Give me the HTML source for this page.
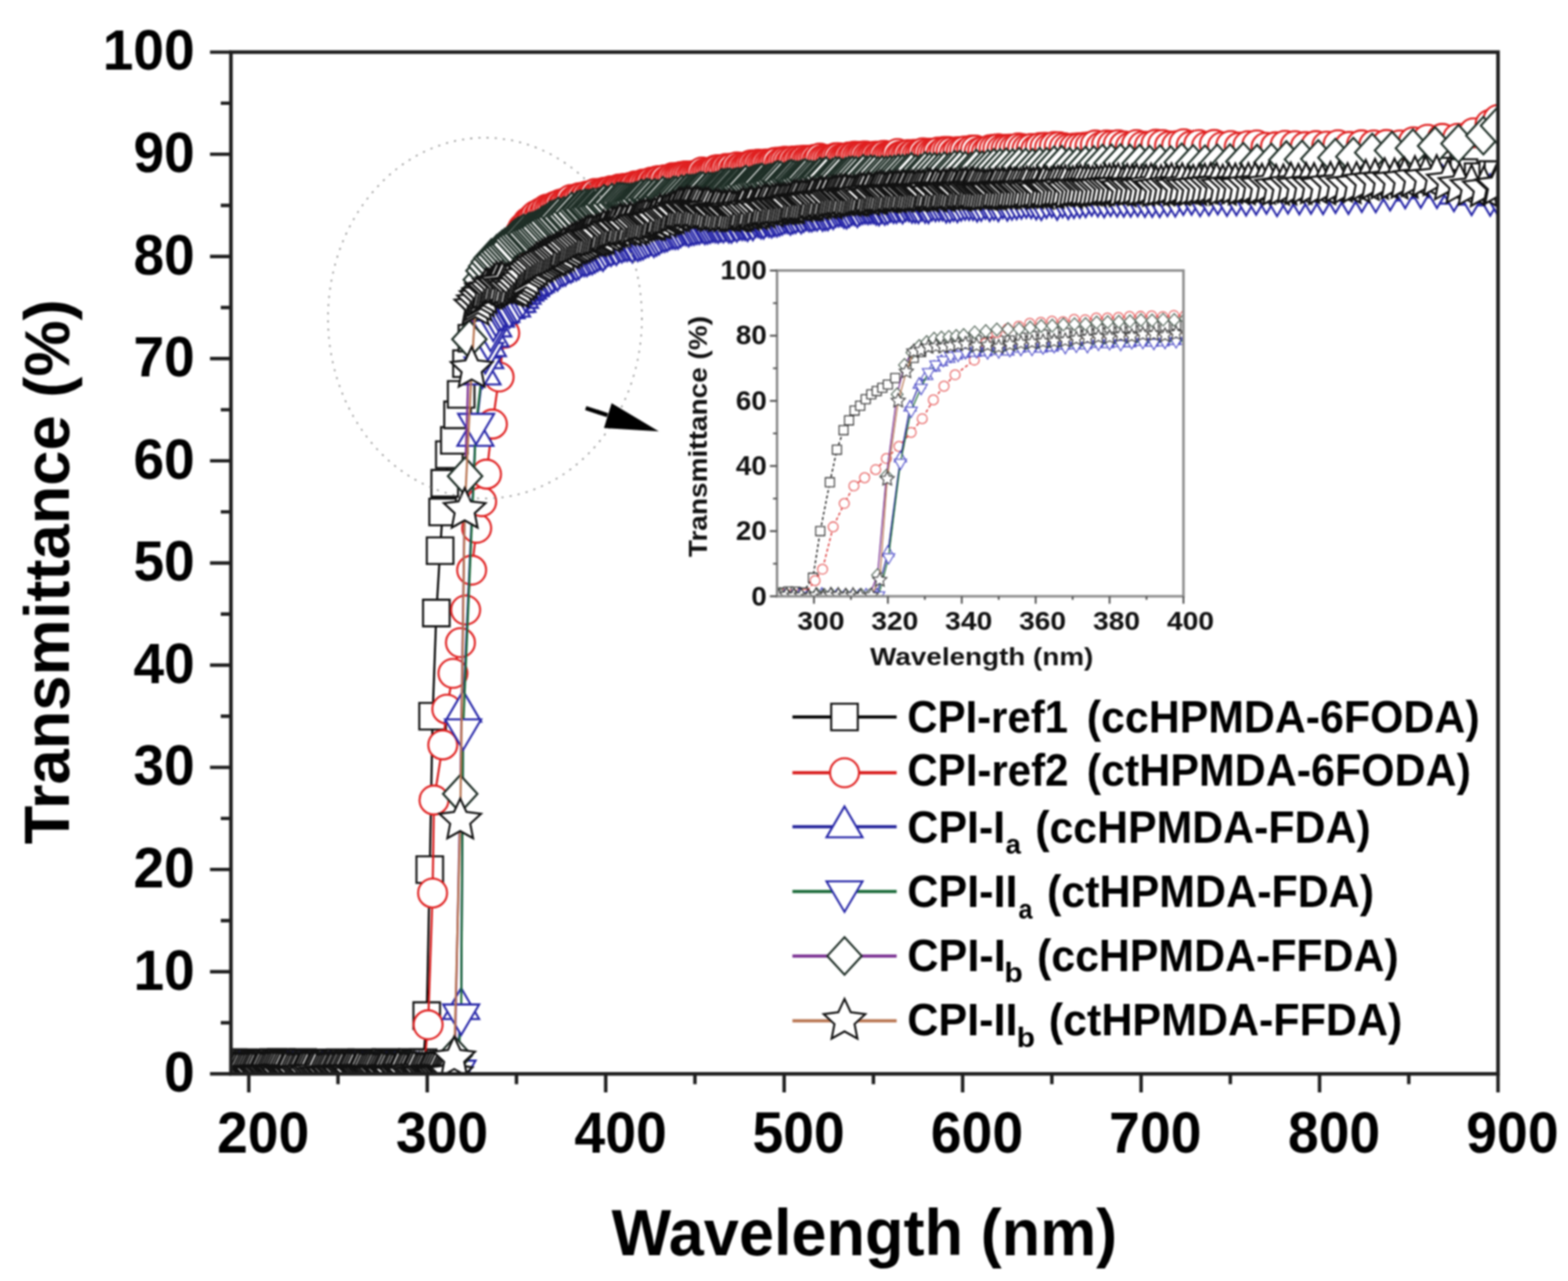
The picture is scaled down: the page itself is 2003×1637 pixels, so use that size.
<!DOCTYPE html>
<html><head><meta charset="utf-8"><title>Transmittance vs Wavelength</title>
<style>html,body{margin:0;padding:0;background:#fff;overflow:hidden;}svg{display:block;filter:blur(0.8px);}</style></head>
<body>
<svg width="2003" height="1637" viewBox="0 0 2003 1637" font-family="&quot;Liberation Sans&quot;, Arial, Helvetica, sans-serif" font-weight="bold">
<rect width="2003" height="1637" fill="#fff"/>
<defs>
<clipPath id="cm"><rect x="295.0" y="66.6" width="1618.6" height="1305.7"/></clipPath>
<clipPath id="ci"><rect x="992.6" y="345.7" width="519.1999999999999" height="416.3"/></clipPath>
<path id="mref1" d="M-17.00,-17.00h34.00v34.00h-34.00Z" fill="#fff" stroke="#111" stroke-width="2.6" stroke-linejoin="miter"/>
<circle id="mref2" r="18.50" fill="#fff" stroke="#e02020" stroke-width="2.6"/>
<path id="mIa" d="M0.00,-26.00 L-23.00,13.50 L23.00,13.50Z" fill="#fff" stroke="#2626a8" stroke-width="2.6" stroke-linejoin="miter"/>
<path id="mIIa" d="M-23.00,-13.00 L23.00,-13.00 L0.00,26.00Z" fill="#fff" stroke="#2626a8" stroke-width="2.6" stroke-linejoin="miter"/>
<path id="mIb" d="M0.00,-24.00 L22.00,0.00 L0.00,24.00 L-22.00,0.00Z" fill="#fff" stroke="#1e2e26" stroke-width="2.6" stroke-linejoin="miter"/>
<path id="mIIb" d="M0.00,-28.00 L7.94,-10.92 L26.63,-8.65 L12.84,4.17 L16.46,22.65 L0.00,13.50 L-16.46,22.65 L-12.84,4.17 L-26.63,-8.65 L-7.94,-10.92Z" fill="#fff" stroke="#111" stroke-width="2.6" stroke-linejoin="miter"/>
<path id="iref1" d="M-5.78,-5.78h11.56v11.56h-11.56Z" fill="#fff" stroke="#2a2a2a" stroke-width="1.3" stroke-linejoin="miter"/>
<circle id="iref2" r="6.29" fill="#fff" stroke="#e45050" stroke-width="1.3"/>
<path id="iIa" d="M0.00,-8.84 L-7.82,4.59 L7.82,4.59Z" fill="#fff" stroke="#4040c0" stroke-width="1.3" stroke-linejoin="miter"/>
<path id="iIIa" d="M-7.82,-4.42 L7.82,-4.42 L0.00,8.84Z" fill="#fff" stroke="#4848c8" stroke-width="1.3" stroke-linejoin="miter"/>
<path id="iIb" d="M0.00,-8.16 L7.48,0.00 L0.00,8.16 L-7.48,0.00Z" fill="#fff" stroke="#44584a" stroke-width="1.3" stroke-linejoin="miter"/>
<path id="iIIb" d="M0.00,-9.52 L2.70,-3.71 L9.05,-2.94 L4.37,1.42 L5.60,7.70 L0.00,4.59 L-5.60,7.70 L-4.37,1.42 L-9.05,-2.94 L-2.70,-3.71Z" fill="#fff" stroke="#333" stroke-width="1.3" stroke-linejoin="miter"/>
</defs>
<g clip-path="url(#cm)">
<path d="M297.9,1358.0 L301.3,1358.4 L304.7,1360.1 L308.1,1359.9 L311.5,1358.1 L314.9,1360.8 L318.4,1358.2 L321.8,1358.3 L325.2,1359.3 L328.6,1359.9 L332.0,1359.9 L335.5,1360.0 L338.9,1359.4 L342.3,1359.2 L345.7,1359.1 L349.1,1357.7 L352.6,1358.3 L356.0,1358.9 L359.4,1357.7 L362.8,1360.1 L366.2,1360.3 L369.7,1358.9 L373.1,1360.7 L376.5,1360.7 L379.9,1359.2 L383.3,1359.3 L386.8,1357.9 L390.2,1358.8 L393.6,1359.2 L397.0,1359.3 L400.4,1360.0 L403.9,1360.8 L407.3,1360.2 L410.7,1358.6 L414.1,1360.2 L417.5,1359.7 L421.0,1360.8 L424.4,1358.2 L427.8,1360.3 L431.2,1360.0 L434.6,1358.1 L438.1,1359.2 L441.5,1358.2 L444.9,1358.8 L448.3,1358.5 L451.7,1360.5 L455.2,1359.1 L458.6,1359.2 L462.0,1358.1 L465.4,1359.7 L468.8,1358.9 L472.2,1360.6 L475.7,1359.6 L479.1,1359.8 L482.5,1360.3 L485.9,1358.3 L489.3,1359.6 L492.8,1357.7 L496.2,1359.0 L499.6,1358.9 L503.0,1358.8 L506.4,1358.7 L509.9,1360.3 L513.3,1359.4 L516.7,1360.1 L520.1,1359.5 L523.5,1360.5 L527.0,1357.8 L530.4,1360.1 L533.8,1358.7 L537.2,1359.9 L540.6,1358.1 L545.1,1297.9 L549.0,1111.2 L552.6,915.3 L557.4,783.4 L562.2,703.8 L565.4,654.2 L568.1,617.6 L574.0,581.0 L580.4,562.8 L584.5,530.1 L589.1,504.0 L595.9,464.8 L602.8,432.2 L611.9,392.4 L615.3,380.6 L618.7,365.2 L622.1,356.2 L625.6,349.3 L629.0,345.3 L632.4,344.8 L635.8,345.0 L639.2,343.1 L642.7,346.0 L646.1,349.0 L649.5,347.7 L652.9,349.9 L656.3,350.9 L659.8,351.3 L663.2,348.4 L666.6,344.7 L670.0,340.2 L673.4,331.8 L676.9,329.4 L680.3,326.1 L683.7,324.3 L687.1,320.1 L690.5,320.7 L694.0,317.2 L697.4,316.5 L700.8,314.3 L704.2,309.4 L707.6,308.9 L711.0,308.2 L714.5,306.0 L717.9,302.8 L721.3,302.9 L724.7,300.0 L728.1,297.7 L731.6,297.1 L735.0,294.7 L738.4,292.1 L741.8,290.2 L745.2,291.9 L748.7,287.8 L752.1,290.4 L755.5,286.4 L758.9,285.1 L762.3,286.6 L765.8,284.3 L769.2,281.2 L772.6,282.8 L776.0,278.7 L779.4,276.5 L782.9,276.1 L786.3,274.1 L789.7,275.1 L793.1,274.5 L796.5,273.3 L800.0,273.6 L803.4,272.4 L806.8,269.6 L810.2,270.5 L813.6,270.8 L817.1,270.2 L820.5,266.7 L823.9,267.7 L827.3,264.5 L830.7,265.3 L834.2,264.2 L837.6,261.6 L841.0,261.2 L844.4,260.8 L847.8,260.1 L851.3,257.0 L854.7,257.5 L858.1,254.2 L861.5,256.3 L864.9,253.7 L868.3,252.3 L871.8,249.8 L875.2,252.0 L878.6,249.5 L882.0,250.0 L885.4,250.1 L888.9,250.8 L892.3,249.9 L895.7,252.9 L899.1,253.3 L902.5,254.7 L906.0,256.0 L909.4,256.1 L912.8,253.9 L916.2,254.8 L919.6,258.1 L923.1,256.6 L926.5,257.3 L929.9,256.9 L933.3,256.5 L936.7,257.7 L940.2,254.9 L943.6,256.5 L947.0,255.4 L950.4,254.9 L953.8,256.2 L957.3,256.1 L960.7,254.1 L964.1,252.2 L967.5,251.4 L970.9,251.2 L974.4,253.0 L977.8,249.4 L981.2,249.4 L984.6,248.6 L988.0,249.5 L991.5,247.5 L994.9,250.4 L998.3,250.0 L1001.7,249.6 L1005.1,248.2 L1008.6,247.7 L1012.0,247.4 L1015.4,245.5 L1018.8,247.0 L1022.2,244.4 L1025.6,245.6 L1029.1,243.1 L1032.5,245.3 L1035.9,243.7 L1039.3,240.8 L1042.7,241.9 L1046.2,240.5 L1049.6,240.7 L1053.0,240.5 L1056.4,241.7 L1059.8,239.9 L1063.3,241.6 L1066.7,238.2 L1070.1,237.2 L1073.5,237.3 L1076.9,240.0 L1080.4,238.6 L1083.8,238.3 L1087.2,238.7 L1090.6,236.4 L1094.0,235.4 L1097.5,236.9 L1100.9,234.5 L1104.3,234.4 L1107.7,236.8 L1111.1,234.0 L1114.6,233.3 L1118.0,235.7 L1121.4,234.0 L1124.8,233.5 L1128.2,233.4 L1131.7,235.2 L1135.1,232.8 L1138.5,232.8 L1141.9,231.8 L1145.3,231.7 L1148.8,233.4 L1152.2,231.7 L1155.6,231.0 L1159.0,230.7 L1162.4,233.5 L1165.9,233.8 L1169.3,231.3 L1172.7,232.8 L1176.1,231.3 L1179.5,229.7 L1183.0,231.8 L1186.4,232.2 L1189.8,231.2 L1193.2,230.3 L1196.7,232.4 L1200.3,231.2 L1203.8,232.0 L1207.4,229.8 L1211.1,229.1 L1214.7,230.7 L1218.4,230.6 L1222.2,229.9 L1226.0,231.0 L1229.8,230.8 L1233.7,230.4 L1237.7,229.8 L1241.6,231.1 L1245.7,228.4 L1249.7,229.0 L1253.9,230.0 L1258.0,230.7 L1262.2,228.0 L1266.5,230.3 L1270.8,230.2 L1275.2,230.2 L1279.6,230.3 L1284.1,226.9 L1288.7,229.3 L1293.3,229.1 L1297.9,226.9 L1302.6,227.7 L1307.4,229.3 L1312.3,228.2 L1317.2,226.3 L1322.2,228.2 L1327.2,226.8 L1332.3,229.1 L1337.5,226.5 L1342.8,226.1 L1348.1,225.8 L1353.5,226.2 L1359.0,227.3 L1364.6,228.3 L1370.3,226.3 L1376.0,225.1 L1381.8,227.2 L1387.8,226.7 L1393.8,225.4 L1399.9,224.4 L1406.1,223.6 L1412.4,226.4 L1418.8,226.0 L1425.3,223.5 L1432.0,224.0 L1438.7,223.6 L1445.6,222.4 L1452.6,222.6 L1459.7,222.9 L1466.9,223.1 L1474.3,224.5 L1481.8,223.5 L1489.4,225.2 L1497.2,222.9 L1505.1,222.8 L1513.2,222.9 L1521.5,223.9 L1529.9,224.1 L1538.5,223.9 L1547.3,225.3 L1556.2,222.1 L1565.4,223.2 L1574.7,223.7 L1584.3,223.0 L1594.0,222.2 L1604.0,223.5 L1614.3,221.6 L1624.7,221.2 L1635.4,223.2 L1646.4,224.0 L1657.7,221.5 L1669.2,220.4 L1681.1,223.5 L1693.2,221.1 L1705.7,220.2 L1718.5,219.2 L1731.7,221.6 L1745.3,220.8 L1759.3,216.2 L1773.6,218.5 L1788.5,216.8 L1803.8,213.3 L1819.5,212.2 L1835.8,211.1 L1852.7,218.8 L1870.1,220.5 L1888.2,225.7 L1906.9,223.0 L1913.6,223.3" fill="none" stroke="#000" stroke-width="2.6"/>
<use href="#mref1" x="297.9" y="1358.0"/>
<use href="#mref1" x="301.3" y="1358.4"/>
<use href="#mref1" x="304.7" y="1360.1"/>
<use href="#mref1" x="308.1" y="1359.9"/>
<use href="#mref1" x="311.5" y="1358.1"/>
<use href="#mref1" x="314.9" y="1360.8"/>
<use href="#mref1" x="318.4" y="1358.2"/>
<use href="#mref1" x="321.8" y="1358.3"/>
<use href="#mref1" x="325.2" y="1359.3"/>
<use href="#mref1" x="328.6" y="1359.9"/>
<use href="#mref1" x="332.0" y="1359.9"/>
<use href="#mref1" x="335.5" y="1360.0"/>
<use href="#mref1" x="338.9" y="1359.4"/>
<use href="#mref1" x="342.3" y="1359.2"/>
<use href="#mref1" x="345.7" y="1359.1"/>
<use href="#mref1" x="349.1" y="1357.7"/>
<use href="#mref1" x="352.6" y="1358.3"/>
<use href="#mref1" x="356.0" y="1358.9"/>
<use href="#mref1" x="359.4" y="1357.7"/>
<use href="#mref1" x="362.8" y="1360.1"/>
<use href="#mref1" x="366.2" y="1360.3"/>
<use href="#mref1" x="369.7" y="1358.9"/>
<use href="#mref1" x="373.1" y="1360.7"/>
<use href="#mref1" x="376.5" y="1360.7"/>
<use href="#mref1" x="379.9" y="1359.2"/>
<use href="#mref1" x="383.3" y="1359.3"/>
<use href="#mref1" x="386.8" y="1357.9"/>
<use href="#mref1" x="390.2" y="1358.8"/>
<use href="#mref1" x="393.6" y="1359.2"/>
<use href="#mref1" x="397.0" y="1359.3"/>
<use href="#mref1" x="400.4" y="1360.0"/>
<use href="#mref1" x="403.9" y="1360.8"/>
<use href="#mref1" x="407.3" y="1360.2"/>
<use href="#mref1" x="410.7" y="1358.6"/>
<use href="#mref1" x="414.1" y="1360.2"/>
<use href="#mref1" x="417.5" y="1359.7"/>
<use href="#mref1" x="421.0" y="1360.8"/>
<use href="#mref1" x="424.4" y="1358.2"/>
<use href="#mref1" x="427.8" y="1360.3"/>
<use href="#mref1" x="431.2" y="1360.0"/>
<use href="#mref1" x="434.6" y="1358.1"/>
<use href="#mref1" x="438.1" y="1359.2"/>
<use href="#mref1" x="441.5" y="1358.2"/>
<use href="#mref1" x="444.9" y="1358.8"/>
<use href="#mref1" x="448.3" y="1358.5"/>
<use href="#mref1" x="451.7" y="1360.5"/>
<use href="#mref1" x="455.2" y="1359.1"/>
<use href="#mref1" x="458.6" y="1359.2"/>
<use href="#mref1" x="462.0" y="1358.1"/>
<use href="#mref1" x="465.4" y="1359.7"/>
<use href="#mref1" x="468.8" y="1358.9"/>
<use href="#mref1" x="472.2" y="1360.6"/>
<use href="#mref1" x="475.7" y="1359.6"/>
<use href="#mref1" x="479.1" y="1359.8"/>
<use href="#mref1" x="482.5" y="1360.3"/>
<use href="#mref1" x="485.9" y="1358.3"/>
<use href="#mref1" x="489.3" y="1359.6"/>
<use href="#mref1" x="492.8" y="1357.7"/>
<use href="#mref1" x="496.2" y="1359.0"/>
<use href="#mref1" x="499.6" y="1358.9"/>
<use href="#mref1" x="503.0" y="1358.8"/>
<use href="#mref1" x="506.4" y="1358.7"/>
<use href="#mref1" x="509.9" y="1360.3"/>
<use href="#mref1" x="513.3" y="1359.4"/>
<use href="#mref1" x="516.7" y="1360.1"/>
<use href="#mref1" x="520.1" y="1359.5"/>
<use href="#mref1" x="523.5" y="1360.5"/>
<use href="#mref1" x="527.0" y="1357.8"/>
<use href="#mref1" x="530.4" y="1360.1"/>
<use href="#mref1" x="533.8" y="1358.7"/>
<use href="#mref1" x="537.2" y="1359.9"/>
<use href="#mref1" x="540.6" y="1358.1"/>
<use href="#mref1" x="545.1" y="1297.9"/>
<use href="#mref1" x="549.0" y="1111.2"/>
<use href="#mref1" x="552.6" y="915.3"/>
<use href="#mref1" x="557.4" y="783.4"/>
<use href="#mref1" x="562.2" y="703.8"/>
<use href="#mref1" x="565.4" y="654.2"/>
<use href="#mref1" x="568.1" y="617.6"/>
<use href="#mref1" x="574.0" y="581.0"/>
<use href="#mref1" x="580.4" y="562.8"/>
<use href="#mref1" x="584.5" y="530.1"/>
<use href="#mref1" x="589.1" y="504.0"/>
<use href="#mref1" x="595.9" y="464.8"/>
<use href="#mref1" x="602.8" y="432.2"/>
<use href="#mref1" x="611.9" y="392.4"/>
<use href="#mref1" x="615.3" y="380.6"/>
<use href="#mref1" x="618.7" y="365.2"/>
<use href="#mref1" x="622.1" y="356.2"/>
<use href="#mref1" x="625.6" y="349.3"/>
<use href="#mref1" x="629.0" y="345.3"/>
<use href="#mref1" x="632.4" y="344.8"/>
<use href="#mref1" x="635.8" y="345.0"/>
<use href="#mref1" x="639.2" y="343.1"/>
<use href="#mref1" x="642.7" y="346.0"/>
<use href="#mref1" x="646.1" y="349.0"/>
<use href="#mref1" x="649.5" y="347.7"/>
<use href="#mref1" x="652.9" y="349.9"/>
<use href="#mref1" x="656.3" y="350.9"/>
<use href="#mref1" x="659.8" y="351.3"/>
<use href="#mref1" x="663.2" y="348.4"/>
<use href="#mref1" x="666.6" y="344.7"/>
<use href="#mref1" x="670.0" y="340.2"/>
<use href="#mref1" x="673.4" y="331.8"/>
<use href="#mref1" x="676.9" y="329.4"/>
<use href="#mref1" x="680.3" y="326.1"/>
<use href="#mref1" x="683.7" y="324.3"/>
<use href="#mref1" x="687.1" y="320.1"/>
<use href="#mref1" x="690.5" y="320.7"/>
<use href="#mref1" x="694.0" y="317.2"/>
<use href="#mref1" x="697.4" y="316.5"/>
<use href="#mref1" x="700.8" y="314.3"/>
<use href="#mref1" x="704.2" y="309.4"/>
<use href="#mref1" x="707.6" y="308.9"/>
<use href="#mref1" x="711.0" y="308.2"/>
<use href="#mref1" x="714.5" y="306.0"/>
<use href="#mref1" x="717.9" y="302.8"/>
<use href="#mref1" x="721.3" y="302.9"/>
<use href="#mref1" x="724.7" y="300.0"/>
<use href="#mref1" x="728.1" y="297.7"/>
<use href="#mref1" x="731.6" y="297.1"/>
<use href="#mref1" x="735.0" y="294.7"/>
<use href="#mref1" x="738.4" y="292.1"/>
<use href="#mref1" x="741.8" y="290.2"/>
<use href="#mref1" x="745.2" y="291.9"/>
<use href="#mref1" x="748.7" y="287.8"/>
<use href="#mref1" x="752.1" y="290.4"/>
<use href="#mref1" x="755.5" y="286.4"/>
<use href="#mref1" x="758.9" y="285.1"/>
<use href="#mref1" x="762.3" y="286.6"/>
<use href="#mref1" x="765.8" y="284.3"/>
<use href="#mref1" x="769.2" y="281.2"/>
<use href="#mref1" x="772.6" y="282.8"/>
<use href="#mref1" x="776.0" y="278.7"/>
<use href="#mref1" x="779.4" y="276.5"/>
<use href="#mref1" x="782.9" y="276.1"/>
<use href="#mref1" x="786.3" y="274.1"/>
<use href="#mref1" x="789.7" y="275.1"/>
<use href="#mref1" x="793.1" y="274.5"/>
<use href="#mref1" x="796.5" y="273.3"/>
<use href="#mref1" x="800.0" y="273.6"/>
<use href="#mref1" x="803.4" y="272.4"/>
<use href="#mref1" x="806.8" y="269.6"/>
<use href="#mref1" x="810.2" y="270.5"/>
<use href="#mref1" x="813.6" y="270.8"/>
<use href="#mref1" x="817.1" y="270.2"/>
<use href="#mref1" x="820.5" y="266.7"/>
<use href="#mref1" x="823.9" y="267.7"/>
<use href="#mref1" x="827.3" y="264.5"/>
<use href="#mref1" x="830.7" y="265.3"/>
<use href="#mref1" x="834.2" y="264.2"/>
<use href="#mref1" x="837.6" y="261.6"/>
<use href="#mref1" x="841.0" y="261.2"/>
<use href="#mref1" x="844.4" y="260.8"/>
<use href="#mref1" x="847.8" y="260.1"/>
<use href="#mref1" x="851.3" y="257.0"/>
<use href="#mref1" x="854.7" y="257.5"/>
<use href="#mref1" x="858.1" y="254.2"/>
<use href="#mref1" x="861.5" y="256.3"/>
<use href="#mref1" x="864.9" y="253.7"/>
<use href="#mref1" x="868.3" y="252.3"/>
<use href="#mref1" x="871.8" y="249.8"/>
<use href="#mref1" x="875.2" y="252.0"/>
<use href="#mref1" x="878.6" y="249.5"/>
<use href="#mref1" x="882.0" y="250.0"/>
<use href="#mref1" x="885.4" y="250.1"/>
<use href="#mref1" x="888.9" y="250.8"/>
<use href="#mref1" x="892.3" y="249.9"/>
<use href="#mref1" x="895.7" y="252.9"/>
<use href="#mref1" x="899.1" y="253.3"/>
<use href="#mref1" x="902.5" y="254.7"/>
<use href="#mref1" x="906.0" y="256.0"/>
<use href="#mref1" x="909.4" y="256.1"/>
<use href="#mref1" x="912.8" y="253.9"/>
<use href="#mref1" x="916.2" y="254.8"/>
<use href="#mref1" x="919.6" y="258.1"/>
<use href="#mref1" x="923.1" y="256.6"/>
<use href="#mref1" x="926.5" y="257.3"/>
<use href="#mref1" x="929.9" y="256.9"/>
<use href="#mref1" x="933.3" y="256.5"/>
<use href="#mref1" x="936.7" y="257.7"/>
<use href="#mref1" x="940.2" y="254.9"/>
<use href="#mref1" x="943.6" y="256.5"/>
<use href="#mref1" x="947.0" y="255.4"/>
<use href="#mref1" x="950.4" y="254.9"/>
<use href="#mref1" x="953.8" y="256.2"/>
<use href="#mref1" x="957.3" y="256.1"/>
<use href="#mref1" x="960.7" y="254.1"/>
<use href="#mref1" x="964.1" y="252.2"/>
<use href="#mref1" x="967.5" y="251.4"/>
<use href="#mref1" x="970.9" y="251.2"/>
<use href="#mref1" x="974.4" y="253.0"/>
<use href="#mref1" x="977.8" y="249.4"/>
<use href="#mref1" x="981.2" y="249.4"/>
<use href="#mref1" x="984.6" y="248.6"/>
<use href="#mref1" x="988.0" y="249.5"/>
<use href="#mref1" x="991.5" y="247.5"/>
<use href="#mref1" x="994.9" y="250.4"/>
<use href="#mref1" x="998.3" y="250.0"/>
<use href="#mref1" x="1001.7" y="249.6"/>
<use href="#mref1" x="1005.1" y="248.2"/>
<use href="#mref1" x="1008.6" y="247.7"/>
<use href="#mref1" x="1012.0" y="247.4"/>
<use href="#mref1" x="1015.4" y="245.5"/>
<use href="#mref1" x="1018.8" y="247.0"/>
<use href="#mref1" x="1022.2" y="244.4"/>
<use href="#mref1" x="1025.6" y="245.6"/>
<use href="#mref1" x="1029.1" y="243.1"/>
<use href="#mref1" x="1032.5" y="245.3"/>
<use href="#mref1" x="1035.9" y="243.7"/>
<use href="#mref1" x="1039.3" y="240.8"/>
<use href="#mref1" x="1042.7" y="241.9"/>
<use href="#mref1" x="1046.2" y="240.5"/>
<use href="#mref1" x="1049.6" y="240.7"/>
<use href="#mref1" x="1053.0" y="240.5"/>
<use href="#mref1" x="1056.4" y="241.7"/>
<use href="#mref1" x="1059.8" y="239.9"/>
<use href="#mref1" x="1063.3" y="241.6"/>
<use href="#mref1" x="1066.7" y="238.2"/>
<use href="#mref1" x="1070.1" y="237.2"/>
<use href="#mref1" x="1073.5" y="237.3"/>
<use href="#mref1" x="1076.9" y="240.0"/>
<use href="#mref1" x="1080.4" y="238.6"/>
<use href="#mref1" x="1083.8" y="238.3"/>
<use href="#mref1" x="1087.2" y="238.7"/>
<use href="#mref1" x="1090.6" y="236.4"/>
<use href="#mref1" x="1094.0" y="235.4"/>
<use href="#mref1" x="1097.5" y="236.9"/>
<use href="#mref1" x="1100.9" y="234.5"/>
<use href="#mref1" x="1104.3" y="234.4"/>
<use href="#mref1" x="1107.7" y="236.8"/>
<use href="#mref1" x="1111.1" y="234.0"/>
<use href="#mref1" x="1114.6" y="233.3"/>
<use href="#mref1" x="1118.0" y="235.7"/>
<use href="#mref1" x="1121.4" y="234.0"/>
<use href="#mref1" x="1124.8" y="233.5"/>
<use href="#mref1" x="1128.2" y="233.4"/>
<use href="#mref1" x="1131.7" y="235.2"/>
<use href="#mref1" x="1135.1" y="232.8"/>
<use href="#mref1" x="1138.5" y="232.8"/>
<use href="#mref1" x="1141.9" y="231.8"/>
<use href="#mref1" x="1145.3" y="231.7"/>
<use href="#mref1" x="1148.8" y="233.4"/>
<use href="#mref1" x="1152.2" y="231.7"/>
<use href="#mref1" x="1155.6" y="231.0"/>
<use href="#mref1" x="1159.0" y="230.7"/>
<use href="#mref1" x="1162.4" y="233.5"/>
<use href="#mref1" x="1165.9" y="233.8"/>
<use href="#mref1" x="1169.3" y="231.3"/>
<use href="#mref1" x="1172.7" y="232.8"/>
<use href="#mref1" x="1176.1" y="231.3"/>
<use href="#mref1" x="1179.5" y="229.7"/>
<use href="#mref1" x="1183.0" y="231.8"/>
<use href="#mref1" x="1186.4" y="232.2"/>
<use href="#mref1" x="1189.8" y="231.2"/>
<use href="#mref1" x="1193.2" y="230.3"/>
<use href="#mref1" x="1196.7" y="232.4"/>
<use href="#mref1" x="1200.3" y="231.2"/>
<use href="#mref1" x="1203.8" y="232.0"/>
<use href="#mref1" x="1207.4" y="229.8"/>
<use href="#mref1" x="1211.1" y="229.1"/>
<use href="#mref1" x="1214.7" y="230.7"/>
<use href="#mref1" x="1218.4" y="230.6"/>
<use href="#mref1" x="1222.2" y="229.9"/>
<use href="#mref1" x="1226.0" y="231.0"/>
<use href="#mref1" x="1229.8" y="230.8"/>
<use href="#mref1" x="1233.7" y="230.4"/>
<use href="#mref1" x="1237.7" y="229.8"/>
<use href="#mref1" x="1241.6" y="231.1"/>
<use href="#mref1" x="1245.7" y="228.4"/>
<use href="#mref1" x="1249.7" y="229.0"/>
<use href="#mref1" x="1253.9" y="230.0"/>
<use href="#mref1" x="1258.0" y="230.7"/>
<use href="#mref1" x="1262.2" y="228.0"/>
<use href="#mref1" x="1266.5" y="230.3"/>
<use href="#mref1" x="1270.8" y="230.2"/>
<use href="#mref1" x="1275.2" y="230.2"/>
<use href="#mref1" x="1279.6" y="230.3"/>
<use href="#mref1" x="1284.1" y="226.9"/>
<use href="#mref1" x="1288.7" y="229.3"/>
<use href="#mref1" x="1293.3" y="229.1"/>
<use href="#mref1" x="1297.9" y="226.9"/>
<use href="#mref1" x="1302.6" y="227.7"/>
<use href="#mref1" x="1307.4" y="229.3"/>
<use href="#mref1" x="1312.3" y="228.2"/>
<use href="#mref1" x="1317.2" y="226.3"/>
<use href="#mref1" x="1322.2" y="228.2"/>
<use href="#mref1" x="1327.2" y="226.8"/>
<use href="#mref1" x="1332.3" y="229.1"/>
<use href="#mref1" x="1337.5" y="226.5"/>
<use href="#mref1" x="1342.8" y="226.1"/>
<use href="#mref1" x="1348.1" y="225.8"/>
<use href="#mref1" x="1353.5" y="226.2"/>
<use href="#mref1" x="1359.0" y="227.3"/>
<use href="#mref1" x="1364.6" y="228.3"/>
<use href="#mref1" x="1370.3" y="226.3"/>
<use href="#mref1" x="1376.0" y="225.1"/>
<use href="#mref1" x="1381.8" y="227.2"/>
<use href="#mref1" x="1387.8" y="226.7"/>
<use href="#mref1" x="1393.8" y="225.4"/>
<use href="#mref1" x="1399.9" y="224.4"/>
<use href="#mref1" x="1406.1" y="223.6"/>
<use href="#mref1" x="1412.4" y="226.4"/>
<use href="#mref1" x="1418.8" y="226.0"/>
<use href="#mref1" x="1425.3" y="223.5"/>
<use href="#mref1" x="1432.0" y="224.0"/>
<use href="#mref1" x="1438.7" y="223.6"/>
<use href="#mref1" x="1445.6" y="222.4"/>
<use href="#mref1" x="1452.6" y="222.6"/>
<use href="#mref1" x="1459.7" y="222.9"/>
<use href="#mref1" x="1466.9" y="223.1"/>
<use href="#mref1" x="1474.3" y="224.5"/>
<use href="#mref1" x="1481.8" y="223.5"/>
<use href="#mref1" x="1489.4" y="225.2"/>
<use href="#mref1" x="1497.2" y="222.9"/>
<use href="#mref1" x="1505.1" y="222.8"/>
<use href="#mref1" x="1513.2" y="222.9"/>
<use href="#mref1" x="1521.5" y="223.9"/>
<use href="#mref1" x="1529.9" y="224.1"/>
<use href="#mref1" x="1538.5" y="223.9"/>
<use href="#mref1" x="1547.3" y="225.3"/>
<use href="#mref1" x="1556.2" y="222.1"/>
<use href="#mref1" x="1565.4" y="223.2"/>
<use href="#mref1" x="1574.7" y="223.7"/>
<use href="#mref1" x="1584.3" y="223.0"/>
<use href="#mref1" x="1594.0" y="222.2"/>
<use href="#mref1" x="1604.0" y="223.5"/>
<use href="#mref1" x="1614.3" y="221.6"/>
<use href="#mref1" x="1624.7" y="221.2"/>
<use href="#mref1" x="1635.4" y="223.2"/>
<use href="#mref1" x="1646.4" y="224.0"/>
<use href="#mref1" x="1657.7" y="221.5"/>
<use href="#mref1" x="1669.2" y="220.4"/>
<use href="#mref1" x="1681.1" y="223.5"/>
<use href="#mref1" x="1693.2" y="221.1"/>
<use href="#mref1" x="1705.7" y="220.2"/>
<use href="#mref1" x="1718.5" y="219.2"/>
<use href="#mref1" x="1731.7" y="221.6"/>
<use href="#mref1" x="1745.3" y="220.8"/>
<use href="#mref1" x="1759.3" y="216.2"/>
<use href="#mref1" x="1773.6" y="218.5"/>
<use href="#mref1" x="1788.5" y="216.8"/>
<use href="#mref1" x="1803.8" y="213.3"/>
<use href="#mref1" x="1819.5" y="212.2"/>
<use href="#mref1" x="1835.8" y="211.1"/>
<use href="#mref1" x="1852.7" y="218.8"/>
<use href="#mref1" x="1870.1" y="220.5"/>
<use href="#mref1" x="1888.2" y="225.7"/>
<use href="#mref1" x="1906.9" y="223.0"/>
<use href="#mref1" x="1913.6" y="223.3"/>
<path d="M295.3,1367.2 L298.7,1368.5 L302.1,1367.7 L305.6,1367.7 L309.0,1366.4 L312.4,1367.2 L315.8,1368.5 L319.2,1365.5 L322.7,1365.9 L326.1,1365.8 L329.5,1367.9 L332.9,1367.4 L336.3,1367.9 L339.8,1368.3 L343.2,1368.5 L346.6,1367.1 L350.0,1368.3 L353.4,1368.1 L356.9,1365.9 L360.3,1367.1 L363.7,1368.1 L367.1,1366.5 L370.5,1367.8 L374.0,1367.0 L377.4,1367.8 L380.8,1367.0 L384.2,1366.7 L387.6,1367.0 L391.1,1367.4 L394.5,1366.2 L397.9,1365.9 L401.3,1368.1 L404.7,1368.2 L408.2,1368.3 L411.6,1365.6 L415.0,1365.7 L418.4,1367.9 L421.8,1365.6 L425.3,1368.0 L428.7,1367.1 L432.1,1367.1 L435.5,1365.8 L438.9,1368.5 L442.4,1367.7 L445.8,1366.8 L449.2,1368.4 L452.6,1367.9 L456.0,1367.2 L459.4,1365.9 L462.9,1366.3 L466.3,1366.0 L469.7,1366.3 L473.1,1366.4 L476.5,1366.0 L480.0,1366.5 L483.4,1366.3 L486.8,1367.7 L490.2,1368.1 L493.6,1366.3 L497.1,1368.1 L500.5,1365.8 L503.9,1366.8 L507.3,1367.6 L510.7,1365.7 L514.2,1368.2 L517.6,1367.0 L521.0,1368.4 L524.4,1365.6 L527.8,1366.8 L531.3,1366.1 L534.7,1367.8 L538.1,1366.1 L541.5,1366.4 L546.9,1309.6 L552.6,1141.2 L554.4,1022.4 L565.6,951.9 L570.8,906.2 L578.6,860.5 L588.2,821.3 L594.8,779.5 L602.5,728.6 L608.9,675.1 L615.3,641.1 L621.5,605.9 L629.0,541.9 L637.6,481.8 L644.7,425.7 L650.6,366.3 L654.1,336.5 L657.5,317.6 L660.9,306.8 L664.3,298.3 L667.7,291.9 L671.2,289.2 L674.6,284.0 L678.0,282.4 L681.4,278.4 L684.8,275.2 L688.3,275.9 L691.7,271.5 L695.1,272.5 L698.5,267.2 L701.9,267.6 L705.3,266.4 L708.8,263.8 L712.2,263.2 L715.6,261.1 L719.0,262.3 L722.4,259.0 L725.9,257.7 L729.3,255.0 L732.7,257.2 L736.1,254.5 L739.5,252.8 L743.0,252.2 L746.4,253.3 L749.8,250.5 L753.2,251.3 L756.6,250.7 L760.1,247.4 L763.5,249.4 L766.9,247.8 L770.3,246.0 L773.7,245.6 L777.2,245.5 L780.6,243.8 L784.0,244.5 L787.4,243.1 L790.8,241.6 L794.3,241.5 L797.7,240.9 L801.1,241.1 L804.5,239.8 L807.9,239.7 L811.4,237.6 L814.8,238.3 L818.2,237.2 L821.6,235.3 L825.0,235.6 L828.5,235.5 L831.9,232.8 L835.3,233.9 L838.7,231.3 L842.1,230.8 L845.6,231.5 L849.0,229.7 L852.4,231.7 L855.8,229.6 L859.2,227.1 L862.6,227.5 L866.1,226.9 L869.5,225.9 L872.9,225.2 L876.3,224.9 L879.7,225.0 L883.2,225.3 L886.6,224.3 L890.0,223.7 L893.4,222.6 L896.8,219.8 L900.3,221.8 L903.7,220.9 L907.1,220.6 L910.5,219.2 L913.9,217.2 L917.4,216.9 L920.8,218.4 L924.2,218.3 L927.6,215.3 L931.0,216.3 L934.5,215.0 L937.9,216.9 L941.3,213.3 L944.7,215.0 L948.1,213.8 L951.6,214.4 L955.0,213.1 L958.4,211.0 L961.8,210.6 L965.2,211.5 L968.7,209.9 L972.1,210.7 L975.5,210.6 L978.9,209.6 L982.3,210.5 L985.8,209.7 L989.2,207.8 L992.6,207.2 L996.0,209.7 L999.4,206.7 L1002.9,206.1 L1006.3,207.2 L1009.7,208.4 L1013.1,205.7 L1016.5,207.1 L1020.0,205.3 L1023.4,206.1 L1026.8,204.8 L1030.2,206.0 L1033.6,204.9 L1037.0,204.5 L1040.5,203.8 L1043.9,205.3 L1047.3,202.1 L1050.7,204.5 L1054.1,204.2 L1057.6,204.2 L1061.0,204.7 L1064.4,203.1 L1067.8,201.5 L1071.2,201.5 L1074.7,203.3 L1078.1,203.4 L1081.5,202.4 L1084.9,200.5 L1088.3,201.4 L1091.8,199.5 L1095.2,200.3 L1098.6,200.3 L1102.0,199.5 L1105.4,199.4 L1108.9,200.8 L1112.3,200.9 L1115.7,200.0 L1119.1,199.6 L1122.5,200.8 L1126.0,199.4 L1129.4,198.5 L1132.8,200.3 L1136.2,200.1 L1139.6,199.8 L1143.1,199.2 L1146.5,196.3 L1149.9,199.8 L1153.4,199.0 L1157.0,198.9 L1160.5,197.5 L1164.1,199.1 L1167.8,197.2 L1171.5,198.2 L1175.2,197.6 L1179.0,195.4 L1182.8,197.6 L1186.6,195.7 L1190.6,196.4 L1194.5,196.1 L1198.5,194.4 L1202.6,196.8 L1206.7,193.6 L1210.8,193.5 L1215.0,194.2 L1219.3,196.4 L1223.6,193.8 L1227.9,193.9 L1232.3,193.0 L1236.8,195.0 L1241.3,191.9 L1245.9,191.9 L1250.6,194.7 L1255.3,193.7 L1260.1,194.6 L1264.9,191.2 L1269.9,190.7 L1274.8,190.1 L1279.9,191.4 L1285.0,190.9 L1290.2,190.6 L1295.5,190.7 L1300.9,189.0 L1306.3,190.0 L1311.8,190.8 L1317.4,189.9 L1323.1,191.6 L1328.9,188.5 L1334.8,188.4 L1340.8,189.2 L1346.8,187.3 L1353.0,187.5 L1359.3,188.9 L1365.6,189.7 L1372.1,189.3 L1378.7,188.9 L1385.4,188.3 L1392.3,187.5 L1399.2,185.4 L1406.3,187.8 L1413.5,185.2 L1420.9,185.8 L1428.4,185.0 L1436.0,186.6 L1443.8,188.0 L1451.8,184.8 L1459.9,186.7 L1468.1,187.0 L1476.6,184.4 L1485.2,184.7 L1494.0,186.6 L1503.0,186.3 L1512.2,183.7 L1521.6,186.4 L1531.2,184.8 L1541.1,187.2 L1551.2,184.6 L1561.5,187.5 L1572.1,186.0 L1583.0,188.1 L1594.1,186.2 L1605.5,185.2 L1617.2,188.3 L1629.3,187.6 L1641.6,185.7 L1654.4,186.3 L1667.5,187.4 L1681.0,186.1 L1694.8,186.7 L1709.2,185.0 L1723.9,187.1 L1739.2,185.1 L1754.9,185.3 L1771.2,184.6 L1788.1,185.3 L1805.5,181.3 L1823.6,178.0 L1842.4,176.9 L1862.0,176.7 L1882.3,169.8 L1903.4,159.0 L1913.6,152.8" fill="none" stroke="#d81818" stroke-width="2.6"/>
<use href="#mref2" x="295.3" y="1367.2"/>
<use href="#mref2" x="298.7" y="1368.5"/>
<use href="#mref2" x="302.1" y="1367.7"/>
<use href="#mref2" x="305.6" y="1367.7"/>
<use href="#mref2" x="309.0" y="1366.4"/>
<use href="#mref2" x="312.4" y="1367.2"/>
<use href="#mref2" x="315.8" y="1368.5"/>
<use href="#mref2" x="319.2" y="1365.5"/>
<use href="#mref2" x="322.7" y="1365.9"/>
<use href="#mref2" x="326.1" y="1365.8"/>
<use href="#mref2" x="329.5" y="1367.9"/>
<use href="#mref2" x="332.9" y="1367.4"/>
<use href="#mref2" x="336.3" y="1367.9"/>
<use href="#mref2" x="339.8" y="1368.3"/>
<use href="#mref2" x="343.2" y="1368.5"/>
<use href="#mref2" x="346.6" y="1367.1"/>
<use href="#mref2" x="350.0" y="1368.3"/>
<use href="#mref2" x="353.4" y="1368.1"/>
<use href="#mref2" x="356.9" y="1365.9"/>
<use href="#mref2" x="360.3" y="1367.1"/>
<use href="#mref2" x="363.7" y="1368.1"/>
<use href="#mref2" x="367.1" y="1366.5"/>
<use href="#mref2" x="370.5" y="1367.8"/>
<use href="#mref2" x="374.0" y="1367.0"/>
<use href="#mref2" x="377.4" y="1367.8"/>
<use href="#mref2" x="380.8" y="1367.0"/>
<use href="#mref2" x="384.2" y="1366.7"/>
<use href="#mref2" x="387.6" y="1367.0"/>
<use href="#mref2" x="391.1" y="1367.4"/>
<use href="#mref2" x="394.5" y="1366.2"/>
<use href="#mref2" x="397.9" y="1365.9"/>
<use href="#mref2" x="401.3" y="1368.1"/>
<use href="#mref2" x="404.7" y="1368.2"/>
<use href="#mref2" x="408.2" y="1368.3"/>
<use href="#mref2" x="411.6" y="1365.6"/>
<use href="#mref2" x="415.0" y="1365.7"/>
<use href="#mref2" x="418.4" y="1367.9"/>
<use href="#mref2" x="421.8" y="1365.6"/>
<use href="#mref2" x="425.3" y="1368.0"/>
<use href="#mref2" x="428.7" y="1367.1"/>
<use href="#mref2" x="432.1" y="1367.1"/>
<use href="#mref2" x="435.5" y="1365.8"/>
<use href="#mref2" x="438.9" y="1368.5"/>
<use href="#mref2" x="442.4" y="1367.7"/>
<use href="#mref2" x="445.8" y="1366.8"/>
<use href="#mref2" x="449.2" y="1368.4"/>
<use href="#mref2" x="452.6" y="1367.9"/>
<use href="#mref2" x="456.0" y="1367.2"/>
<use href="#mref2" x="459.4" y="1365.9"/>
<use href="#mref2" x="462.9" y="1366.3"/>
<use href="#mref2" x="466.3" y="1366.0"/>
<use href="#mref2" x="469.7" y="1366.3"/>
<use href="#mref2" x="473.1" y="1366.4"/>
<use href="#mref2" x="476.5" y="1366.0"/>
<use href="#mref2" x="480.0" y="1366.5"/>
<use href="#mref2" x="483.4" y="1366.3"/>
<use href="#mref2" x="486.8" y="1367.7"/>
<use href="#mref2" x="490.2" y="1368.1"/>
<use href="#mref2" x="493.6" y="1366.3"/>
<use href="#mref2" x="497.1" y="1368.1"/>
<use href="#mref2" x="500.5" y="1365.8"/>
<use href="#mref2" x="503.9" y="1366.8"/>
<use href="#mref2" x="507.3" y="1367.6"/>
<use href="#mref2" x="510.7" y="1365.7"/>
<use href="#mref2" x="514.2" y="1368.2"/>
<use href="#mref2" x="517.6" y="1367.0"/>
<use href="#mref2" x="521.0" y="1368.4"/>
<use href="#mref2" x="524.4" y="1365.6"/>
<use href="#mref2" x="527.8" y="1366.8"/>
<use href="#mref2" x="531.3" y="1366.1"/>
<use href="#mref2" x="534.7" y="1367.8"/>
<use href="#mref2" x="538.1" y="1366.1"/>
<use href="#mref2" x="541.5" y="1366.4"/>
<use href="#mref2" x="546.9" y="1309.6"/>
<use href="#mref2" x="552.6" y="1141.2"/>
<use href="#mref2" x="554.4" y="1022.4"/>
<use href="#mref2" x="565.6" y="951.9"/>
<use href="#mref2" x="570.8" y="906.2"/>
<use href="#mref2" x="578.6" y="860.5"/>
<use href="#mref2" x="588.2" y="821.3"/>
<use href="#mref2" x="594.8" y="779.5"/>
<use href="#mref2" x="602.5" y="728.6"/>
<use href="#mref2" x="608.9" y="675.1"/>
<use href="#mref2" x="615.3" y="641.1"/>
<use href="#mref2" x="621.5" y="605.9"/>
<use href="#mref2" x="629.0" y="541.9"/>
<use href="#mref2" x="637.6" y="481.8"/>
<use href="#mref2" x="644.7" y="425.7"/>
<use href="#mref2" x="650.6" y="366.3"/>
<use href="#mref2" x="654.1" y="336.5"/>
<use href="#mref2" x="657.5" y="317.6"/>
<use href="#mref2" x="660.9" y="306.8"/>
<use href="#mref2" x="664.3" y="298.3"/>
<use href="#mref2" x="667.7" y="291.9"/>
<use href="#mref2" x="671.2" y="289.2"/>
<use href="#mref2" x="674.6" y="284.0"/>
<use href="#mref2" x="678.0" y="282.4"/>
<use href="#mref2" x="681.4" y="278.4"/>
<use href="#mref2" x="684.8" y="275.2"/>
<use href="#mref2" x="688.3" y="275.9"/>
<use href="#mref2" x="691.7" y="271.5"/>
<use href="#mref2" x="695.1" y="272.5"/>
<use href="#mref2" x="698.5" y="267.2"/>
<use href="#mref2" x="701.9" y="267.6"/>
<use href="#mref2" x="705.3" y="266.4"/>
<use href="#mref2" x="708.8" y="263.8"/>
<use href="#mref2" x="712.2" y="263.2"/>
<use href="#mref2" x="715.6" y="261.1"/>
<use href="#mref2" x="719.0" y="262.3"/>
<use href="#mref2" x="722.4" y="259.0"/>
<use href="#mref2" x="725.9" y="257.7"/>
<use href="#mref2" x="729.3" y="255.0"/>
<use href="#mref2" x="732.7" y="257.2"/>
<use href="#mref2" x="736.1" y="254.5"/>
<use href="#mref2" x="739.5" y="252.8"/>
<use href="#mref2" x="743.0" y="252.2"/>
<use href="#mref2" x="746.4" y="253.3"/>
<use href="#mref2" x="749.8" y="250.5"/>
<use href="#mref2" x="753.2" y="251.3"/>
<use href="#mref2" x="756.6" y="250.7"/>
<use href="#mref2" x="760.1" y="247.4"/>
<use href="#mref2" x="763.5" y="249.4"/>
<use href="#mref2" x="766.9" y="247.8"/>
<use href="#mref2" x="770.3" y="246.0"/>
<use href="#mref2" x="773.7" y="245.6"/>
<use href="#mref2" x="777.2" y="245.5"/>
<use href="#mref2" x="780.6" y="243.8"/>
<use href="#mref2" x="784.0" y="244.5"/>
<use href="#mref2" x="787.4" y="243.1"/>
<use href="#mref2" x="790.8" y="241.6"/>
<use href="#mref2" x="794.3" y="241.5"/>
<use href="#mref2" x="797.7" y="240.9"/>
<use href="#mref2" x="801.1" y="241.1"/>
<use href="#mref2" x="804.5" y="239.8"/>
<use href="#mref2" x="807.9" y="239.7"/>
<use href="#mref2" x="811.4" y="237.6"/>
<use href="#mref2" x="814.8" y="238.3"/>
<use href="#mref2" x="818.2" y="237.2"/>
<use href="#mref2" x="821.6" y="235.3"/>
<use href="#mref2" x="825.0" y="235.6"/>
<use href="#mref2" x="828.5" y="235.5"/>
<use href="#mref2" x="831.9" y="232.8"/>
<use href="#mref2" x="835.3" y="233.9"/>
<use href="#mref2" x="838.7" y="231.3"/>
<use href="#mref2" x="842.1" y="230.8"/>
<use href="#mref2" x="845.6" y="231.5"/>
<use href="#mref2" x="849.0" y="229.7"/>
<use href="#mref2" x="852.4" y="231.7"/>
<use href="#mref2" x="855.8" y="229.6"/>
<use href="#mref2" x="859.2" y="227.1"/>
<use href="#mref2" x="862.6" y="227.5"/>
<use href="#mref2" x="866.1" y="226.9"/>
<use href="#mref2" x="869.5" y="225.9"/>
<use href="#mref2" x="872.9" y="225.2"/>
<use href="#mref2" x="876.3" y="224.9"/>
<use href="#mref2" x="879.7" y="225.0"/>
<use href="#mref2" x="883.2" y="225.3"/>
<use href="#mref2" x="886.6" y="224.3"/>
<use href="#mref2" x="890.0" y="223.7"/>
<use href="#mref2" x="893.4" y="222.6"/>
<use href="#mref2" x="896.8" y="219.8"/>
<use href="#mref2" x="900.3" y="221.8"/>
<use href="#mref2" x="903.7" y="220.9"/>
<use href="#mref2" x="907.1" y="220.6"/>
<use href="#mref2" x="910.5" y="219.2"/>
<use href="#mref2" x="913.9" y="217.2"/>
<use href="#mref2" x="917.4" y="216.9"/>
<use href="#mref2" x="920.8" y="218.4"/>
<use href="#mref2" x="924.2" y="218.3"/>
<use href="#mref2" x="927.6" y="215.3"/>
<use href="#mref2" x="931.0" y="216.3"/>
<use href="#mref2" x="934.5" y="215.0"/>
<use href="#mref2" x="937.9" y="216.9"/>
<use href="#mref2" x="941.3" y="213.3"/>
<use href="#mref2" x="944.7" y="215.0"/>
<use href="#mref2" x="948.1" y="213.8"/>
<use href="#mref2" x="951.6" y="214.4"/>
<use href="#mref2" x="955.0" y="213.1"/>
<use href="#mref2" x="958.4" y="211.0"/>
<use href="#mref2" x="961.8" y="210.6"/>
<use href="#mref2" x="965.2" y="211.5"/>
<use href="#mref2" x="968.7" y="209.9"/>
<use href="#mref2" x="972.1" y="210.7"/>
<use href="#mref2" x="975.5" y="210.6"/>
<use href="#mref2" x="978.9" y="209.6"/>
<use href="#mref2" x="982.3" y="210.5"/>
<use href="#mref2" x="985.8" y="209.7"/>
<use href="#mref2" x="989.2" y="207.8"/>
<use href="#mref2" x="992.6" y="207.2"/>
<use href="#mref2" x="996.0" y="209.7"/>
<use href="#mref2" x="999.4" y="206.7"/>
<use href="#mref2" x="1002.9" y="206.1"/>
<use href="#mref2" x="1006.3" y="207.2"/>
<use href="#mref2" x="1009.7" y="208.4"/>
<use href="#mref2" x="1013.1" y="205.7"/>
<use href="#mref2" x="1016.5" y="207.1"/>
<use href="#mref2" x="1020.0" y="205.3"/>
<use href="#mref2" x="1023.4" y="206.1"/>
<use href="#mref2" x="1026.8" y="204.8"/>
<use href="#mref2" x="1030.2" y="206.0"/>
<use href="#mref2" x="1033.6" y="204.9"/>
<use href="#mref2" x="1037.0" y="204.5"/>
<use href="#mref2" x="1040.5" y="203.8"/>
<use href="#mref2" x="1043.9" y="205.3"/>
<use href="#mref2" x="1047.3" y="202.1"/>
<use href="#mref2" x="1050.7" y="204.5"/>
<use href="#mref2" x="1054.1" y="204.2"/>
<use href="#mref2" x="1057.6" y="204.2"/>
<use href="#mref2" x="1061.0" y="204.7"/>
<use href="#mref2" x="1064.4" y="203.1"/>
<use href="#mref2" x="1067.8" y="201.5"/>
<use href="#mref2" x="1071.2" y="201.5"/>
<use href="#mref2" x="1074.7" y="203.3"/>
<use href="#mref2" x="1078.1" y="203.4"/>
<use href="#mref2" x="1081.5" y="202.4"/>
<use href="#mref2" x="1084.9" y="200.5"/>
<use href="#mref2" x="1088.3" y="201.4"/>
<use href="#mref2" x="1091.8" y="199.5"/>
<use href="#mref2" x="1095.2" y="200.3"/>
<use href="#mref2" x="1098.6" y="200.3"/>
<use href="#mref2" x="1102.0" y="199.5"/>
<use href="#mref2" x="1105.4" y="199.4"/>
<use href="#mref2" x="1108.9" y="200.8"/>
<use href="#mref2" x="1112.3" y="200.9"/>
<use href="#mref2" x="1115.7" y="200.0"/>
<use href="#mref2" x="1119.1" y="199.6"/>
<use href="#mref2" x="1122.5" y="200.8"/>
<use href="#mref2" x="1126.0" y="199.4"/>
<use href="#mref2" x="1129.4" y="198.5"/>
<use href="#mref2" x="1132.8" y="200.3"/>
<use href="#mref2" x="1136.2" y="200.1"/>
<use href="#mref2" x="1139.6" y="199.8"/>
<use href="#mref2" x="1143.1" y="199.2"/>
<use href="#mref2" x="1146.5" y="196.3"/>
<use href="#mref2" x="1149.9" y="199.8"/>
<use href="#mref2" x="1153.4" y="199.0"/>
<use href="#mref2" x="1157.0" y="198.9"/>
<use href="#mref2" x="1160.5" y="197.5"/>
<use href="#mref2" x="1164.1" y="199.1"/>
<use href="#mref2" x="1167.8" y="197.2"/>
<use href="#mref2" x="1171.5" y="198.2"/>
<use href="#mref2" x="1175.2" y="197.6"/>
<use href="#mref2" x="1179.0" y="195.4"/>
<use href="#mref2" x="1182.8" y="197.6"/>
<use href="#mref2" x="1186.6" y="195.7"/>
<use href="#mref2" x="1190.6" y="196.4"/>
<use href="#mref2" x="1194.5" y="196.1"/>
<use href="#mref2" x="1198.5" y="194.4"/>
<use href="#mref2" x="1202.6" y="196.8"/>
<use href="#mref2" x="1206.7" y="193.6"/>
<use href="#mref2" x="1210.8" y="193.5"/>
<use href="#mref2" x="1215.0" y="194.2"/>
<use href="#mref2" x="1219.3" y="196.4"/>
<use href="#mref2" x="1223.6" y="193.8"/>
<use href="#mref2" x="1227.9" y="193.9"/>
<use href="#mref2" x="1232.3" y="193.0"/>
<use href="#mref2" x="1236.8" y="195.0"/>
<use href="#mref2" x="1241.3" y="191.9"/>
<use href="#mref2" x="1245.9" y="191.9"/>
<use href="#mref2" x="1250.6" y="194.7"/>
<use href="#mref2" x="1255.3" y="193.7"/>
<use href="#mref2" x="1260.1" y="194.6"/>
<use href="#mref2" x="1264.9" y="191.2"/>
<use href="#mref2" x="1269.9" y="190.7"/>
<use href="#mref2" x="1274.8" y="190.1"/>
<use href="#mref2" x="1279.9" y="191.4"/>
<use href="#mref2" x="1285.0" y="190.9"/>
<use href="#mref2" x="1290.2" y="190.6"/>
<use href="#mref2" x="1295.5" y="190.7"/>
<use href="#mref2" x="1300.9" y="189.0"/>
<use href="#mref2" x="1306.3" y="190.0"/>
<use href="#mref2" x="1311.8" y="190.8"/>
<use href="#mref2" x="1317.4" y="189.9"/>
<use href="#mref2" x="1323.1" y="191.6"/>
<use href="#mref2" x="1328.9" y="188.5"/>
<use href="#mref2" x="1334.8" y="188.4"/>
<use href="#mref2" x="1340.8" y="189.2"/>
<use href="#mref2" x="1346.8" y="187.3"/>
<use href="#mref2" x="1353.0" y="187.5"/>
<use href="#mref2" x="1359.3" y="188.9"/>
<use href="#mref2" x="1365.6" y="189.7"/>
<use href="#mref2" x="1372.1" y="189.3"/>
<use href="#mref2" x="1378.7" y="188.9"/>
<use href="#mref2" x="1385.4" y="188.3"/>
<use href="#mref2" x="1392.3" y="187.5"/>
<use href="#mref2" x="1399.2" y="185.4"/>
<use href="#mref2" x="1406.3" y="187.8"/>
<use href="#mref2" x="1413.5" y="185.2"/>
<use href="#mref2" x="1420.9" y="185.8"/>
<use href="#mref2" x="1428.4" y="185.0"/>
<use href="#mref2" x="1436.0" y="186.6"/>
<use href="#mref2" x="1443.8" y="188.0"/>
<use href="#mref2" x="1451.8" y="184.8"/>
<use href="#mref2" x="1459.9" y="186.7"/>
<use href="#mref2" x="1468.1" y="187.0"/>
<use href="#mref2" x="1476.6" y="184.4"/>
<use href="#mref2" x="1485.2" y="184.7"/>
<use href="#mref2" x="1494.0" y="186.6"/>
<use href="#mref2" x="1503.0" y="186.3"/>
<use href="#mref2" x="1512.2" y="183.7"/>
<use href="#mref2" x="1521.6" y="186.4"/>
<use href="#mref2" x="1531.2" y="184.8"/>
<use href="#mref2" x="1541.1" y="187.2"/>
<use href="#mref2" x="1551.2" y="184.6"/>
<use href="#mref2" x="1561.5" y="187.5"/>
<use href="#mref2" x="1572.1" y="186.0"/>
<use href="#mref2" x="1583.0" y="188.1"/>
<use href="#mref2" x="1594.1" y="186.2"/>
<use href="#mref2" x="1605.5" y="185.2"/>
<use href="#mref2" x="1617.2" y="188.3"/>
<use href="#mref2" x="1629.3" y="187.6"/>
<use href="#mref2" x="1641.6" y="185.7"/>
<use href="#mref2" x="1654.4" y="186.3"/>
<use href="#mref2" x="1667.5" y="187.4"/>
<use href="#mref2" x="1681.0" y="186.1"/>
<use href="#mref2" x="1694.8" y="186.7"/>
<use href="#mref2" x="1709.2" y="185.0"/>
<use href="#mref2" x="1723.9" y="187.1"/>
<use href="#mref2" x="1739.2" y="185.1"/>
<use href="#mref2" x="1754.9" y="185.3"/>
<use href="#mref2" x="1771.2" y="184.6"/>
<use href="#mref2" x="1788.1" y="185.3"/>
<use href="#mref2" x="1805.5" y="181.3"/>
<use href="#mref2" x="1823.6" y="178.0"/>
<use href="#mref2" x="1842.4" y="176.9"/>
<use href="#mref2" x="1862.0" y="176.7"/>
<use href="#mref2" x="1882.3" y="169.8"/>
<use href="#mref2" x="1903.4" y="159.0"/>
<use href="#mref2" x="1913.6" y="152.8"/>
<path d="M295.9,1371.6 L299.4,1373.0 L302.8,1372.4 L306.2,1371.2 L309.6,1372.5 L313.0,1373.0 L316.5,1372.9 L319.9,1373.6 L323.3,1373.2 L326.7,1373.0 L330.1,1373.3 L333.5,1373.7 L337.0,1372.4 L340.4,1373.2 L343.8,1371.6 L347.2,1371.0 L350.6,1373.0 L354.1,1372.1 L357.5,1372.3 L360.9,1373.6 L364.3,1373.5 L367.7,1371.1 L371.2,1372.4 L374.6,1371.3 L378.0,1373.7 L381.4,1372.0 L384.8,1371.2 L388.3,1371.1 L391.7,1373.8 L395.1,1372.2 L398.5,1372.7 L401.9,1371.5 L405.4,1373.6 L408.8,1373.0 L412.2,1371.3 L415.6,1372.4 L419.0,1372.4 L422.5,1370.8 L425.9,1372.9 L429.3,1373.7 L432.7,1372.6 L436.1,1373.4 L439.6,1373.6 L443.0,1372.1 L446.4,1370.9 L449.8,1372.1 L453.2,1371.8 L456.7,1372.9 L460.1,1372.1 L463.5,1371.5 L466.9,1372.0 L470.3,1371.4 L473.8,1372.1 L477.2,1373.2 L480.6,1372.0 L484.0,1372.3 L487.4,1373.3 L490.8,1371.9 L494.3,1371.3 L497.7,1373.4 L501.1,1372.2 L504.5,1371.6 L507.9,1372.6 L511.4,1373.0 L514.8,1372.7 L518.2,1372.2 L521.6,1371.7 L525.0,1372.1 L528.5,1373.5 L531.9,1371.3 L535.3,1371.0 L538.7,1373.5 L542.1,1373.1 L545.6,1373.3 L549.0,1371.2 L552.4,1371.0 L555.8,1373.7 L559.2,1372.8 L562.7,1373.3 L566.1,1372.4 L569.5,1371.0 L572.9,1373.6 L576.3,1373.3 L579.8,1372.3 L583.4,1368.4 L589.1,1288.7 L591.6,908.8 L607.3,556.2 L616.4,477.8 L619.9,457.0 L623.3,441.6 L626.7,429.4 L630.1,416.4 L633.5,403.9 L637.0,398.6 L640.4,397.9 L643.8,392.9 L647.2,393.1 L650.6,389.8 L654.1,391.0 L657.5,385.4 L660.9,385.0 L664.3,379.9 L667.7,374.6 L671.2,370.8 L674.6,368.1 L678.0,364.9 L681.4,361.5 L684.8,359.8 L688.3,356.7 L691.7,354.8 L695.1,351.4 L698.5,349.9 L701.9,347.2 L705.3,346.8 L708.8,346.1 L712.2,343.2 L715.6,339.8 L719.0,339.8 L722.4,337.3 L725.9,333.9 L729.3,333.4 L732.7,329.6 L736.1,327.8 L739.5,328.7 L743.0,325.7 L746.4,326.4 L749.8,325.8 L753.2,323.6 L756.6,321.9 L760.1,319.5 L763.5,321.5 L766.9,317.9 L770.3,317.3 L773.7,317.0 L777.2,312.1 L780.6,311.6 L784.0,312.5 L787.4,308.3 L790.8,310.6 L794.3,310.0 L797.7,308.5 L801.1,305.7 L804.5,308.8 L807.9,304.8 L811.4,305.4 L814.8,306.8 L818.2,304.0 L821.6,303.5 L825.0,302.1 L828.5,300.4 L831.9,299.5 L835.3,297.2 L838.7,299.5 L842.1,295.9 L845.6,296.4 L849.0,293.7 L852.4,292.1 L855.8,290.5 L859.2,292.2 L862.6,290.3 L866.1,287.3 L869.5,286.4 L872.9,287.7 L876.3,284.8 L879.7,286.4 L883.2,286.1 L886.6,284.2 L890.0,285.0 L893.4,284.8 L896.8,284.8 L900.3,284.4 L903.7,285.3 L907.1,285.4 L910.5,282.4 L913.9,283.0 L917.4,282.3 L920.8,281.6 L924.2,283.5 L927.6,283.2 L931.0,282.7 L934.5,282.2 L937.9,280.1 L941.3,281.2 L944.7,281.0 L948.1,279.3 L951.6,280.6 L955.0,280.5 L958.4,277.7 L961.8,277.0 L965.2,278.3 L968.7,276.5 L972.1,278.4 L975.5,276.5 L978.9,275.4 L982.3,276.2 L985.8,275.3 L989.2,273.8 L992.6,273.4 L996.0,274.7 L999.4,272.0 L1002.9,274.0 L1006.3,270.0 L1009.7,272.5 L1013.1,271.8 L1016.5,271.5 L1020.0,268.0 L1023.4,270.3 L1026.8,268.5 L1030.2,266.6 L1033.6,266.3 L1037.0,269.4 L1040.5,267.1 L1043.9,266.4 L1047.3,265.6 L1050.7,266.6 L1054.1,266.3 L1057.6,267.2 L1061.0,266.7 L1064.4,264.3 L1067.8,265.7 L1071.2,264.9 L1074.7,264.0 L1078.1,264.7 L1081.5,264.4 L1084.9,260.6 L1088.3,262.2 L1091.8,262.7 L1095.2,260.4 L1098.6,262.8 L1102.0,261.6 L1105.4,258.5 L1108.9,258.5 L1112.3,259.2 L1115.7,261.1 L1119.1,259.9 L1122.5,260.8 L1126.0,259.9 L1129.4,260.4 L1132.8,259.9 L1136.2,257.7 L1139.6,259.6 L1143.1,259.2 L1146.5,256.1 L1149.9,258.2 L1153.4,258.0 L1157.0,258.8 L1160.5,255.9 L1164.1,256.2 L1167.8,256.5 L1171.5,256.1 L1175.2,258.0 L1179.0,257.2 L1182.8,255.8 L1186.6,254.2 L1190.6,254.6 L1194.5,255.2 L1198.5,255.5 L1202.6,257.3 L1206.7,253.8 L1210.8,256.9 L1215.0,256.5 L1219.3,254.2 L1223.6,253.6 L1227.9,253.5 L1232.3,254.7 L1236.8,255.7 L1241.3,256.1 L1245.9,252.8 L1250.6,252.2 L1255.3,255.0 L1260.1,252.4 L1264.9,254.1 L1269.9,254.4 L1274.8,253.5 L1279.9,255.3 L1285.0,253.5 L1290.2,254.4 L1295.5,252.3 L1300.9,253.0 L1306.3,251.4 L1311.8,251.2 L1317.4,253.4 L1323.1,253.4 L1328.9,250.7 L1334.8,252.2 L1340.8,253.7 L1346.8,253.7 L1353.0,249.8 L1359.3,251.2 L1365.6,253.1 L1372.1,251.1 L1378.7,250.9 L1385.4,250.9 L1392.3,248.6 L1399.2,248.4 L1406.3,251.4 L1413.5,251.1 L1420.9,249.9 L1428.4,248.1 L1436.0,248.8 L1443.8,248.3 L1451.8,248.8 L1459.9,250.2 L1468.1,247.7 L1476.6,250.8 L1485.2,248.0 L1494.0,249.9 L1503.0,248.8 L1512.2,246.7 L1521.6,248.4 L1531.2,250.2 L1541.1,248.6 L1551.2,247.7 L1561.5,249.9 L1572.1,249.1 L1583.0,249.9 L1594.1,247.7 L1605.5,248.3 L1617.2,247.7 L1629.3,248.4 L1641.6,246.9 L1654.4,248.6 L1667.5,245.6 L1681.0,245.2 L1694.8,246.7 L1709.2,246.3 L1723.9,244.0 L1739.2,245.2 L1754.9,242.1 L1771.2,242.8 L1788.1,239.6 L1805.5,238.8 L1823.6,236.1 L1842.4,237.1 L1862.0,246.6 L1882.3,248.0 L1903.4,248.9 L1913.6,248.1" fill="none" stroke="#22229a" stroke-width="2.6"/>
<use href="#mIa" x="295.9" y="1371.6"/>
<use href="#mIa" x="299.4" y="1373.0"/>
<use href="#mIa" x="302.8" y="1372.4"/>
<use href="#mIa" x="306.2" y="1371.2"/>
<use href="#mIa" x="309.6" y="1372.5"/>
<use href="#mIa" x="313.0" y="1373.0"/>
<use href="#mIa" x="316.5" y="1372.9"/>
<use href="#mIa" x="319.9" y="1373.6"/>
<use href="#mIa" x="323.3" y="1373.2"/>
<use href="#mIa" x="326.7" y="1373.0"/>
<use href="#mIa" x="330.1" y="1373.3"/>
<use href="#mIa" x="333.5" y="1373.7"/>
<use href="#mIa" x="337.0" y="1372.4"/>
<use href="#mIa" x="340.4" y="1373.2"/>
<use href="#mIa" x="343.8" y="1371.6"/>
<use href="#mIa" x="347.2" y="1371.0"/>
<use href="#mIa" x="350.6" y="1373.0"/>
<use href="#mIa" x="354.1" y="1372.1"/>
<use href="#mIa" x="357.5" y="1372.3"/>
<use href="#mIa" x="360.9" y="1373.6"/>
<use href="#mIa" x="364.3" y="1373.5"/>
<use href="#mIa" x="367.7" y="1371.1"/>
<use href="#mIa" x="371.2" y="1372.4"/>
<use href="#mIa" x="374.6" y="1371.3"/>
<use href="#mIa" x="378.0" y="1373.7"/>
<use href="#mIa" x="381.4" y="1372.0"/>
<use href="#mIa" x="384.8" y="1371.2"/>
<use href="#mIa" x="388.3" y="1371.1"/>
<use href="#mIa" x="391.7" y="1373.8"/>
<use href="#mIa" x="395.1" y="1372.2"/>
<use href="#mIa" x="398.5" y="1372.7"/>
<use href="#mIa" x="401.9" y="1371.5"/>
<use href="#mIa" x="405.4" y="1373.6"/>
<use href="#mIa" x="408.8" y="1373.0"/>
<use href="#mIa" x="412.2" y="1371.3"/>
<use href="#mIa" x="415.6" y="1372.4"/>
<use href="#mIa" x="419.0" y="1372.4"/>
<use href="#mIa" x="422.5" y="1370.8"/>
<use href="#mIa" x="425.9" y="1372.9"/>
<use href="#mIa" x="429.3" y="1373.7"/>
<use href="#mIa" x="432.7" y="1372.6"/>
<use href="#mIa" x="436.1" y="1373.4"/>
<use href="#mIa" x="439.6" y="1373.6"/>
<use href="#mIa" x="443.0" y="1372.1"/>
<use href="#mIa" x="446.4" y="1370.9"/>
<use href="#mIa" x="449.8" y="1372.1"/>
<use href="#mIa" x="453.2" y="1371.8"/>
<use href="#mIa" x="456.7" y="1372.9"/>
<use href="#mIa" x="460.1" y="1372.1"/>
<use href="#mIa" x="463.5" y="1371.5"/>
<use href="#mIa" x="466.9" y="1372.0"/>
<use href="#mIa" x="470.3" y="1371.4"/>
<use href="#mIa" x="473.8" y="1372.1"/>
<use href="#mIa" x="477.2" y="1373.2"/>
<use href="#mIa" x="480.6" y="1372.0"/>
<use href="#mIa" x="484.0" y="1372.3"/>
<use href="#mIa" x="487.4" y="1373.3"/>
<use href="#mIa" x="490.8" y="1371.9"/>
<use href="#mIa" x="494.3" y="1371.3"/>
<use href="#mIa" x="497.7" y="1373.4"/>
<use href="#mIa" x="501.1" y="1372.2"/>
<use href="#mIa" x="504.5" y="1371.6"/>
<use href="#mIa" x="507.9" y="1372.6"/>
<use href="#mIa" x="511.4" y="1373.0"/>
<use href="#mIa" x="514.8" y="1372.7"/>
<use href="#mIa" x="518.2" y="1372.2"/>
<use href="#mIa" x="521.6" y="1371.7"/>
<use href="#mIa" x="525.0" y="1372.1"/>
<use href="#mIa" x="528.5" y="1373.5"/>
<use href="#mIa" x="531.9" y="1371.3"/>
<use href="#mIa" x="535.3" y="1371.0"/>
<use href="#mIa" x="538.7" y="1373.5"/>
<use href="#mIa" x="542.1" y="1373.1"/>
<use href="#mIa" x="545.6" y="1373.3"/>
<use href="#mIa" x="549.0" y="1371.2"/>
<use href="#mIa" x="552.4" y="1371.0"/>
<use href="#mIa" x="555.8" y="1373.7"/>
<use href="#mIa" x="559.2" y="1372.8"/>
<use href="#mIa" x="562.7" y="1373.3"/>
<use href="#mIa" x="566.1" y="1372.4"/>
<use href="#mIa" x="569.5" y="1371.0"/>
<use href="#mIa" x="572.9" y="1373.6"/>
<use href="#mIa" x="576.3" y="1373.3"/>
<use href="#mIa" x="579.8" y="1372.3"/>
<use href="#mIa" x="583.4" y="1368.4"/>
<use href="#mIa" x="589.1" y="1288.7"/>
<use href="#mIa" x="591.6" y="908.8"/>
<use href="#mIa" x="607.3" y="556.2"/>
<use href="#mIa" x="616.4" y="477.8"/>
<use href="#mIa" x="619.9" y="457.0"/>
<use href="#mIa" x="623.3" y="441.6"/>
<use href="#mIa" x="626.7" y="429.4"/>
<use href="#mIa" x="630.1" y="416.4"/>
<use href="#mIa" x="633.5" y="403.9"/>
<use href="#mIa" x="637.0" y="398.6"/>
<use href="#mIa" x="640.4" y="397.9"/>
<use href="#mIa" x="643.8" y="392.9"/>
<use href="#mIa" x="647.2" y="393.1"/>
<use href="#mIa" x="650.6" y="389.8"/>
<use href="#mIa" x="654.1" y="391.0"/>
<use href="#mIa" x="657.5" y="385.4"/>
<use href="#mIa" x="660.9" y="385.0"/>
<use href="#mIa" x="664.3" y="379.9"/>
<use href="#mIa" x="667.7" y="374.6"/>
<use href="#mIa" x="671.2" y="370.8"/>
<use href="#mIa" x="674.6" y="368.1"/>
<use href="#mIa" x="678.0" y="364.9"/>
<use href="#mIa" x="681.4" y="361.5"/>
<use href="#mIa" x="684.8" y="359.8"/>
<use href="#mIa" x="688.3" y="356.7"/>
<use href="#mIa" x="691.7" y="354.8"/>
<use href="#mIa" x="695.1" y="351.4"/>
<use href="#mIa" x="698.5" y="349.9"/>
<use href="#mIa" x="701.9" y="347.2"/>
<use href="#mIa" x="705.3" y="346.8"/>
<use href="#mIa" x="708.8" y="346.1"/>
<use href="#mIa" x="712.2" y="343.2"/>
<use href="#mIa" x="715.6" y="339.8"/>
<use href="#mIa" x="719.0" y="339.8"/>
<use href="#mIa" x="722.4" y="337.3"/>
<use href="#mIa" x="725.9" y="333.9"/>
<use href="#mIa" x="729.3" y="333.4"/>
<use href="#mIa" x="732.7" y="329.6"/>
<use href="#mIa" x="736.1" y="327.8"/>
<use href="#mIa" x="739.5" y="328.7"/>
<use href="#mIa" x="743.0" y="325.7"/>
<use href="#mIa" x="746.4" y="326.4"/>
<use href="#mIa" x="749.8" y="325.8"/>
<use href="#mIa" x="753.2" y="323.6"/>
<use href="#mIa" x="756.6" y="321.9"/>
<use href="#mIa" x="760.1" y="319.5"/>
<use href="#mIa" x="763.5" y="321.5"/>
<use href="#mIa" x="766.9" y="317.9"/>
<use href="#mIa" x="770.3" y="317.3"/>
<use href="#mIa" x="773.7" y="317.0"/>
<use href="#mIa" x="777.2" y="312.1"/>
<use href="#mIa" x="780.6" y="311.6"/>
<use href="#mIa" x="784.0" y="312.5"/>
<use href="#mIa" x="787.4" y="308.3"/>
<use href="#mIa" x="790.8" y="310.6"/>
<use href="#mIa" x="794.3" y="310.0"/>
<use href="#mIa" x="797.7" y="308.5"/>
<use href="#mIa" x="801.1" y="305.7"/>
<use href="#mIa" x="804.5" y="308.8"/>
<use href="#mIa" x="807.9" y="304.8"/>
<use href="#mIa" x="811.4" y="305.4"/>
<use href="#mIa" x="814.8" y="306.8"/>
<use href="#mIa" x="818.2" y="304.0"/>
<use href="#mIa" x="821.6" y="303.5"/>
<use href="#mIa" x="825.0" y="302.1"/>
<use href="#mIa" x="828.5" y="300.4"/>
<use href="#mIa" x="831.9" y="299.5"/>
<use href="#mIa" x="835.3" y="297.2"/>
<use href="#mIa" x="838.7" y="299.5"/>
<use href="#mIa" x="842.1" y="295.9"/>
<use href="#mIa" x="845.6" y="296.4"/>
<use href="#mIa" x="849.0" y="293.7"/>
<use href="#mIa" x="852.4" y="292.1"/>
<use href="#mIa" x="855.8" y="290.5"/>
<use href="#mIa" x="859.2" y="292.2"/>
<use href="#mIa" x="862.6" y="290.3"/>
<use href="#mIa" x="866.1" y="287.3"/>
<use href="#mIa" x="869.5" y="286.4"/>
<use href="#mIa" x="872.9" y="287.7"/>
<use href="#mIa" x="876.3" y="284.8"/>
<use href="#mIa" x="879.7" y="286.4"/>
<use href="#mIa" x="883.2" y="286.1"/>
<use href="#mIa" x="886.6" y="284.2"/>
<use href="#mIa" x="890.0" y="285.0"/>
<use href="#mIa" x="893.4" y="284.8"/>
<use href="#mIa" x="896.8" y="284.8"/>
<use href="#mIa" x="900.3" y="284.4"/>
<use href="#mIa" x="903.7" y="285.3"/>
<use href="#mIa" x="907.1" y="285.4"/>
<use href="#mIa" x="910.5" y="282.4"/>
<use href="#mIa" x="913.9" y="283.0"/>
<use href="#mIa" x="917.4" y="282.3"/>
<use href="#mIa" x="920.8" y="281.6"/>
<use href="#mIa" x="924.2" y="283.5"/>
<use href="#mIa" x="927.6" y="283.2"/>
<use href="#mIa" x="931.0" y="282.7"/>
<use href="#mIa" x="934.5" y="282.2"/>
<use href="#mIa" x="937.9" y="280.1"/>
<use href="#mIa" x="941.3" y="281.2"/>
<use href="#mIa" x="944.7" y="281.0"/>
<use href="#mIa" x="948.1" y="279.3"/>
<use href="#mIa" x="951.6" y="280.6"/>
<use href="#mIa" x="955.0" y="280.5"/>
<use href="#mIa" x="958.4" y="277.7"/>
<use href="#mIa" x="961.8" y="277.0"/>
<use href="#mIa" x="965.2" y="278.3"/>
<use href="#mIa" x="968.7" y="276.5"/>
<use href="#mIa" x="972.1" y="278.4"/>
<use href="#mIa" x="975.5" y="276.5"/>
<use href="#mIa" x="978.9" y="275.4"/>
<use href="#mIa" x="982.3" y="276.2"/>
<use href="#mIa" x="985.8" y="275.3"/>
<use href="#mIa" x="989.2" y="273.8"/>
<use href="#mIa" x="992.6" y="273.4"/>
<use href="#mIa" x="996.0" y="274.7"/>
<use href="#mIa" x="999.4" y="272.0"/>
<use href="#mIa" x="1002.9" y="274.0"/>
<use href="#mIa" x="1006.3" y="270.0"/>
<use href="#mIa" x="1009.7" y="272.5"/>
<use href="#mIa" x="1013.1" y="271.8"/>
<use href="#mIa" x="1016.5" y="271.5"/>
<use href="#mIa" x="1020.0" y="268.0"/>
<use href="#mIa" x="1023.4" y="270.3"/>
<use href="#mIa" x="1026.8" y="268.5"/>
<use href="#mIa" x="1030.2" y="266.6"/>
<use href="#mIa" x="1033.6" y="266.3"/>
<use href="#mIa" x="1037.0" y="269.4"/>
<use href="#mIa" x="1040.5" y="267.1"/>
<use href="#mIa" x="1043.9" y="266.4"/>
<use href="#mIa" x="1047.3" y="265.6"/>
<use href="#mIa" x="1050.7" y="266.6"/>
<use href="#mIa" x="1054.1" y="266.3"/>
<use href="#mIa" x="1057.6" y="267.2"/>
<use href="#mIa" x="1061.0" y="266.7"/>
<use href="#mIa" x="1064.4" y="264.3"/>
<use href="#mIa" x="1067.8" y="265.7"/>
<use href="#mIa" x="1071.2" y="264.9"/>
<use href="#mIa" x="1074.7" y="264.0"/>
<use href="#mIa" x="1078.1" y="264.7"/>
<use href="#mIa" x="1081.5" y="264.4"/>
<use href="#mIa" x="1084.9" y="260.6"/>
<use href="#mIa" x="1088.3" y="262.2"/>
<use href="#mIa" x="1091.8" y="262.7"/>
<use href="#mIa" x="1095.2" y="260.4"/>
<use href="#mIa" x="1098.6" y="262.8"/>
<use href="#mIa" x="1102.0" y="261.6"/>
<use href="#mIa" x="1105.4" y="258.5"/>
<use href="#mIa" x="1108.9" y="258.5"/>
<use href="#mIa" x="1112.3" y="259.2"/>
<use href="#mIa" x="1115.7" y="261.1"/>
<use href="#mIa" x="1119.1" y="259.9"/>
<use href="#mIa" x="1122.5" y="260.8"/>
<use href="#mIa" x="1126.0" y="259.9"/>
<use href="#mIa" x="1129.4" y="260.4"/>
<use href="#mIa" x="1132.8" y="259.9"/>
<use href="#mIa" x="1136.2" y="257.7"/>
<use href="#mIa" x="1139.6" y="259.6"/>
<use href="#mIa" x="1143.1" y="259.2"/>
<use href="#mIa" x="1146.5" y="256.1"/>
<use href="#mIa" x="1149.9" y="258.2"/>
<use href="#mIa" x="1153.4" y="258.0"/>
<use href="#mIa" x="1157.0" y="258.8"/>
<use href="#mIa" x="1160.5" y="255.9"/>
<use href="#mIa" x="1164.1" y="256.2"/>
<use href="#mIa" x="1167.8" y="256.5"/>
<use href="#mIa" x="1171.5" y="256.1"/>
<use href="#mIa" x="1175.2" y="258.0"/>
<use href="#mIa" x="1179.0" y="257.2"/>
<use href="#mIa" x="1182.8" y="255.8"/>
<use href="#mIa" x="1186.6" y="254.2"/>
<use href="#mIa" x="1190.6" y="254.6"/>
<use href="#mIa" x="1194.5" y="255.2"/>
<use href="#mIa" x="1198.5" y="255.5"/>
<use href="#mIa" x="1202.6" y="257.3"/>
<use href="#mIa" x="1206.7" y="253.8"/>
<use href="#mIa" x="1210.8" y="256.9"/>
<use href="#mIa" x="1215.0" y="256.5"/>
<use href="#mIa" x="1219.3" y="254.2"/>
<use href="#mIa" x="1223.6" y="253.6"/>
<use href="#mIa" x="1227.9" y="253.5"/>
<use href="#mIa" x="1232.3" y="254.7"/>
<use href="#mIa" x="1236.8" y="255.7"/>
<use href="#mIa" x="1241.3" y="256.1"/>
<use href="#mIa" x="1245.9" y="252.8"/>
<use href="#mIa" x="1250.6" y="252.2"/>
<use href="#mIa" x="1255.3" y="255.0"/>
<use href="#mIa" x="1260.1" y="252.4"/>
<use href="#mIa" x="1264.9" y="254.1"/>
<use href="#mIa" x="1269.9" y="254.4"/>
<use href="#mIa" x="1274.8" y="253.5"/>
<use href="#mIa" x="1279.9" y="255.3"/>
<use href="#mIa" x="1285.0" y="253.5"/>
<use href="#mIa" x="1290.2" y="254.4"/>
<use href="#mIa" x="1295.5" y="252.3"/>
<use href="#mIa" x="1300.9" y="253.0"/>
<use href="#mIa" x="1306.3" y="251.4"/>
<use href="#mIa" x="1311.8" y="251.2"/>
<use href="#mIa" x="1317.4" y="253.4"/>
<use href="#mIa" x="1323.1" y="253.4"/>
<use href="#mIa" x="1328.9" y="250.7"/>
<use href="#mIa" x="1334.8" y="252.2"/>
<use href="#mIa" x="1340.8" y="253.7"/>
<use href="#mIa" x="1346.8" y="253.7"/>
<use href="#mIa" x="1353.0" y="249.8"/>
<use href="#mIa" x="1359.3" y="251.2"/>
<use href="#mIa" x="1365.6" y="253.1"/>
<use href="#mIa" x="1372.1" y="251.1"/>
<use href="#mIa" x="1378.7" y="250.9"/>
<use href="#mIa" x="1385.4" y="250.9"/>
<use href="#mIa" x="1392.3" y="248.6"/>
<use href="#mIa" x="1399.2" y="248.4"/>
<use href="#mIa" x="1406.3" y="251.4"/>
<use href="#mIa" x="1413.5" y="251.1"/>
<use href="#mIa" x="1420.9" y="249.9"/>
<use href="#mIa" x="1428.4" y="248.1"/>
<use href="#mIa" x="1436.0" y="248.8"/>
<use href="#mIa" x="1443.8" y="248.3"/>
<use href="#mIa" x="1451.8" y="248.8"/>
<use href="#mIa" x="1459.9" y="250.2"/>
<use href="#mIa" x="1468.1" y="247.7"/>
<use href="#mIa" x="1476.6" y="250.8"/>
<use href="#mIa" x="1485.2" y="248.0"/>
<use href="#mIa" x="1494.0" y="249.9"/>
<use href="#mIa" x="1503.0" y="248.8"/>
<use href="#mIa" x="1512.2" y="246.7"/>
<use href="#mIa" x="1521.6" y="248.4"/>
<use href="#mIa" x="1531.2" y="250.2"/>
<use href="#mIa" x="1541.1" y="248.6"/>
<use href="#mIa" x="1551.2" y="247.7"/>
<use href="#mIa" x="1561.5" y="249.9"/>
<use href="#mIa" x="1572.1" y="249.1"/>
<use href="#mIa" x="1583.0" y="249.9"/>
<use href="#mIa" x="1594.1" y="247.7"/>
<use href="#mIa" x="1605.5" y="248.3"/>
<use href="#mIa" x="1617.2" y="247.7"/>
<use href="#mIa" x="1629.3" y="248.4"/>
<use href="#mIa" x="1641.6" y="246.9"/>
<use href="#mIa" x="1654.4" y="248.6"/>
<use href="#mIa" x="1667.5" y="245.6"/>
<use href="#mIa" x="1681.0" y="245.2"/>
<use href="#mIa" x="1694.8" y="246.7"/>
<use href="#mIa" x="1709.2" y="246.3"/>
<use href="#mIa" x="1723.9" y="244.0"/>
<use href="#mIa" x="1739.2" y="245.2"/>
<use href="#mIa" x="1754.9" y="242.1"/>
<use href="#mIa" x="1771.2" y="242.8"/>
<use href="#mIa" x="1788.1" y="239.6"/>
<use href="#mIa" x="1805.5" y="238.8"/>
<use href="#mIa" x="1823.6" y="236.1"/>
<use href="#mIa" x="1842.4" y="237.1"/>
<use href="#mIa" x="1862.0" y="246.6"/>
<use href="#mIa" x="1882.3" y="248.0"/>
<use href="#mIa" x="1903.4" y="248.9"/>
<use href="#mIa" x="1913.6" y="248.1"/>
<path d="M296.7,1372.8 L300.1,1373.6 L303.6,1373.1 L307.0,1371.9 L310.4,1373.6 L313.8,1371.8 L317.2,1370.9 L320.7,1370.8 L324.1,1371.1 L327.5,1371.3 L330.9,1373.3 L334.3,1370.8 L337.8,1373.2 L341.2,1371.1 L344.6,1371.1 L348.0,1371.9 L351.4,1372.2 L354.9,1373.2 L358.3,1372.2 L361.7,1373.0 L365.1,1373.5 L368.5,1373.5 L372.0,1371.4 L375.4,1371.0 L378.8,1373.4 L382.2,1373.8 L385.6,1373.0 L389.1,1373.4 L392.5,1373.3 L395.9,1372.0 L399.3,1372.5 L402.7,1372.5 L406.2,1373.2 L409.6,1371.8 L413.0,1373.0 L416.4,1372.6 L419.8,1372.4 L423.3,1371.0 L426.7,1373.1 L430.1,1371.6 L433.5,1372.9 L436.9,1371.1 L440.4,1372.6 L443.8,1372.3 L447.2,1371.1 L450.6,1371.8 L454.0,1373.6 L457.4,1373.4 L460.9,1370.8 L464.3,1373.8 L467.7,1372.9 L471.1,1370.9 L474.5,1373.8 L478.0,1373.4 L481.4,1373.2 L484.8,1373.6 L488.2,1372.4 L491.6,1372.0 L495.1,1372.9 L498.5,1373.5 L501.9,1371.3 L505.3,1371.3 L508.7,1372.1 L512.2,1373.4 L515.6,1372.2 L519.0,1371.9 L522.4,1372.5 L525.8,1371.2 L529.3,1372.6 L532.7,1372.3 L536.1,1373.5 L539.5,1372.1 L542.9,1371.5 L546.4,1371.6 L549.8,1373.1 L553.2,1370.8 L556.6,1371.6 L560.0,1372.5 L563.5,1372.6 L566.9,1371.4 L570.3,1373.3 L573.7,1371.9 L577.1,1371.6 L580.6,1372.2 L584.5,1368.4 L589.1,1296.6 L591.6,932.3 L608.2,541.9 L616.4,469.9 L619.9,451.2 L623.3,434.5 L626.7,422.8 L630.1,409.9 L633.5,404.0 L637.0,397.5 L640.4,396.1 L643.8,392.2 L647.2,390.9 L650.6,393.3 L654.1,388.1 L657.5,387.7 L660.9,386.9 L664.3,381.3 L667.7,378.6 L671.2,372.1 L674.6,369.4 L678.0,365.3 L681.4,362.7 L684.8,358.9 L688.3,355.6 L691.7,352.9 L695.1,353.2 L698.5,350.3 L701.9,350.8 L705.3,347.7 L708.8,343.8 L712.2,345.4 L715.6,340.6 L719.0,339.6 L722.4,339.0 L725.9,335.1 L729.3,335.1 L732.7,330.9 L736.1,332.4 L739.5,330.7 L743.0,326.9 L746.4,326.9 L749.8,327.0 L753.2,324.6 L756.6,324.4 L760.1,322.4 L763.5,320.4 L766.9,318.6 L770.3,320.2 L773.7,316.5 L777.2,313.4 L780.6,313.9 L784.0,311.3 L787.4,312.8 L790.8,308.9 L794.3,309.4 L797.7,307.7 L801.1,307.6 L804.5,306.8 L807.9,309.5 L811.4,306.3 L814.8,307.6 L818.2,306.5 L821.6,305.4 L825.0,303.3 L828.5,302.1 L831.9,299.8 L835.3,302.4 L838.7,300.6 L842.1,298.9 L845.6,296.1 L849.0,296.0 L852.4,294.9 L855.8,292.8 L859.2,292.0 L862.6,292.3 L866.1,292.0 L869.5,289.6 L872.9,287.1 L876.3,287.5 L879.7,289.0 L883.2,287.1 L886.6,287.0 L890.0,285.9 L893.4,285.6 L896.8,283.9 L900.3,286.0 L903.7,285.5 L907.1,284.5 L910.5,283.2 L913.9,283.7 L917.4,284.4 L920.8,282.8 L924.2,283.8 L927.6,281.7 L931.0,284.0 L934.5,284.2 L937.9,281.1 L941.3,282.8 L944.7,280.2 L948.1,280.7 L951.6,280.7 L955.0,281.9 L958.4,278.6 L961.8,281.0 L965.2,277.0 L968.7,276.9 L972.1,278.7 L975.5,278.9 L978.9,275.5 L982.3,276.6 L985.8,277.5 L989.2,275.6 L992.6,276.1 L996.0,275.0 L999.4,273.6 L1002.9,272.0 L1006.3,272.0 L1009.7,274.0 L1013.1,272.3 L1016.5,271.7 L1020.0,269.3 L1023.4,272.3 L1026.8,270.2 L1030.2,268.2 L1033.6,269.7 L1037.0,269.8 L1040.5,268.3 L1043.9,268.8 L1047.3,266.0 L1050.7,268.9 L1054.1,268.1 L1057.6,268.2 L1061.0,265.3 L1064.4,266.6 L1067.8,263.8 L1071.2,263.5 L1074.7,262.9 L1078.1,265.2 L1081.5,265.9 L1084.9,264.0 L1088.3,261.4 L1091.8,261.8 L1095.2,264.3 L1098.6,261.4 L1102.0,260.3 L1105.4,259.8 L1108.9,260.5 L1112.3,259.6 L1115.8,259.4 L1119.3,261.1 L1122.9,261.9 L1126.5,259.2 L1130.2,261.3 L1133.8,260.1 L1137.6,257.5 L1141.4,259.0 L1145.2,259.0 L1149.1,257.1 L1153.0,259.5 L1156.9,256.5 L1161.0,256.7 L1165.0,258.7 L1169.1,258.6 L1173.3,259.3 L1177.5,256.0 L1181.8,258.7 L1186.1,259.2 L1190.5,255.6 L1195.0,256.6 L1199.5,256.2 L1204.0,255.8 L1208.7,258.4 L1213.4,258.0 L1218.1,256.3 L1223.0,257.9 L1227.8,256.0 L1232.8,254.9 L1237.9,255.1 L1243.0,255.1 L1248.2,257.2 L1253.4,256.3 L1258.8,253.6 L1264.2,256.5 L1269.7,254.8 L1275.3,256.6 L1281.0,253.0 L1286.8,255.9 L1292.7,254.8 L1298.7,254.2 L1304.8,253.4 L1311.0,252.4 L1317.3,253.0 L1323.7,254.4 L1330.2,255.3 L1336.8,252.7 L1343.6,251.5 L1350.4,255.0 L1357.4,251.8 L1364.6,253.9 L1371.9,252.6 L1379.3,252.1 L1386.8,251.4 L1394.6,249.7 L1402.4,250.6 L1410.5,251.6 L1418.7,250.1 L1427.1,250.9 L1435.6,251.0 L1444.4,251.0 L1453.3,250.4 L1462.5,251.2 L1471.9,251.2 L1481.4,251.5 L1491.3,250.3 L1501.3,250.8 L1511.6,248.6 L1522.2,248.4 L1533.0,250.3 L1544.2,249.2 L1555.6,248.0 L1567.3,250.0 L1579.4,249.1 L1591.8,249.4 L1604.6,248.5 L1617.8,247.2 L1631.3,250.3 L1645.3,246.9 L1659.8,247.9 L1674.7,247.2 L1690.1,247.6 L1706.0,246.2 L1722.5,247.5 L1739.6,244.9 L1757.4,245.3 L1775.8,242.9 L1795.0,240.2 L1814.9,239.6 L1835.6,239.9 L1857.3,244.0 L1879.9,249.0 L1903.6,249.7 L1913.6,249.4" fill="none" stroke="#1a6a38" stroke-width="2.6"/>
<use href="#mIIa" x="296.7" y="1372.8"/>
<use href="#mIIa" x="300.1" y="1373.6"/>
<use href="#mIIa" x="303.6" y="1373.1"/>
<use href="#mIIa" x="307.0" y="1371.9"/>
<use href="#mIIa" x="310.4" y="1373.6"/>
<use href="#mIIa" x="313.8" y="1371.8"/>
<use href="#mIIa" x="317.2" y="1370.9"/>
<use href="#mIIa" x="320.7" y="1370.8"/>
<use href="#mIIa" x="324.1" y="1371.1"/>
<use href="#mIIa" x="327.5" y="1371.3"/>
<use href="#mIIa" x="330.9" y="1373.3"/>
<use href="#mIIa" x="334.3" y="1370.8"/>
<use href="#mIIa" x="337.8" y="1373.2"/>
<use href="#mIIa" x="341.2" y="1371.1"/>
<use href="#mIIa" x="344.6" y="1371.1"/>
<use href="#mIIa" x="348.0" y="1371.9"/>
<use href="#mIIa" x="351.4" y="1372.2"/>
<use href="#mIIa" x="354.9" y="1373.2"/>
<use href="#mIIa" x="358.3" y="1372.2"/>
<use href="#mIIa" x="361.7" y="1373.0"/>
<use href="#mIIa" x="365.1" y="1373.5"/>
<use href="#mIIa" x="368.5" y="1373.5"/>
<use href="#mIIa" x="372.0" y="1371.4"/>
<use href="#mIIa" x="375.4" y="1371.0"/>
<use href="#mIIa" x="378.8" y="1373.4"/>
<use href="#mIIa" x="382.2" y="1373.8"/>
<use href="#mIIa" x="385.6" y="1373.0"/>
<use href="#mIIa" x="389.1" y="1373.4"/>
<use href="#mIIa" x="392.5" y="1373.3"/>
<use href="#mIIa" x="395.9" y="1372.0"/>
<use href="#mIIa" x="399.3" y="1372.5"/>
<use href="#mIIa" x="402.7" y="1372.5"/>
<use href="#mIIa" x="406.2" y="1373.2"/>
<use href="#mIIa" x="409.6" y="1371.8"/>
<use href="#mIIa" x="413.0" y="1373.0"/>
<use href="#mIIa" x="416.4" y="1372.6"/>
<use href="#mIIa" x="419.8" y="1372.4"/>
<use href="#mIIa" x="423.3" y="1371.0"/>
<use href="#mIIa" x="426.7" y="1373.1"/>
<use href="#mIIa" x="430.1" y="1371.6"/>
<use href="#mIIa" x="433.5" y="1372.9"/>
<use href="#mIIa" x="436.9" y="1371.1"/>
<use href="#mIIa" x="440.4" y="1372.6"/>
<use href="#mIIa" x="443.8" y="1372.3"/>
<use href="#mIIa" x="447.2" y="1371.1"/>
<use href="#mIIa" x="450.6" y="1371.8"/>
<use href="#mIIa" x="454.0" y="1373.6"/>
<use href="#mIIa" x="457.4" y="1373.4"/>
<use href="#mIIa" x="460.9" y="1370.8"/>
<use href="#mIIa" x="464.3" y="1373.8"/>
<use href="#mIIa" x="467.7" y="1372.9"/>
<use href="#mIIa" x="471.1" y="1370.9"/>
<use href="#mIIa" x="474.5" y="1373.8"/>
<use href="#mIIa" x="478.0" y="1373.4"/>
<use href="#mIIa" x="481.4" y="1373.2"/>
<use href="#mIIa" x="484.8" y="1373.6"/>
<use href="#mIIa" x="488.2" y="1372.4"/>
<use href="#mIIa" x="491.6" y="1372.0"/>
<use href="#mIIa" x="495.1" y="1372.9"/>
<use href="#mIIa" x="498.5" y="1373.5"/>
<use href="#mIIa" x="501.9" y="1371.3"/>
<use href="#mIIa" x="505.3" y="1371.3"/>
<use href="#mIIa" x="508.7" y="1372.1"/>
<use href="#mIIa" x="512.2" y="1373.4"/>
<use href="#mIIa" x="515.6" y="1372.2"/>
<use href="#mIIa" x="519.0" y="1371.9"/>
<use href="#mIIa" x="522.4" y="1372.5"/>
<use href="#mIIa" x="525.8" y="1371.2"/>
<use href="#mIIa" x="529.3" y="1372.6"/>
<use href="#mIIa" x="532.7" y="1372.3"/>
<use href="#mIIa" x="536.1" y="1373.5"/>
<use href="#mIIa" x="539.5" y="1372.1"/>
<use href="#mIIa" x="542.9" y="1371.5"/>
<use href="#mIIa" x="546.4" y="1371.6"/>
<use href="#mIIa" x="549.8" y="1373.1"/>
<use href="#mIIa" x="553.2" y="1370.8"/>
<use href="#mIIa" x="556.6" y="1371.6"/>
<use href="#mIIa" x="560.0" y="1372.5"/>
<use href="#mIIa" x="563.5" y="1372.6"/>
<use href="#mIIa" x="566.9" y="1371.4"/>
<use href="#mIIa" x="570.3" y="1373.3"/>
<use href="#mIIa" x="573.7" y="1371.9"/>
<use href="#mIIa" x="577.1" y="1371.6"/>
<use href="#mIIa" x="580.6" y="1372.2"/>
<use href="#mIIa" x="584.5" y="1368.4"/>
<use href="#mIIa" x="589.1" y="1296.6"/>
<use href="#mIIa" x="591.6" y="932.3"/>
<use href="#mIIa" x="608.2" y="541.9"/>
<use href="#mIIa" x="616.4" y="469.9"/>
<use href="#mIIa" x="619.9" y="451.2"/>
<use href="#mIIa" x="623.3" y="434.5"/>
<use href="#mIIa" x="626.7" y="422.8"/>
<use href="#mIIa" x="630.1" y="409.9"/>
<use href="#mIIa" x="633.5" y="404.0"/>
<use href="#mIIa" x="637.0" y="397.5"/>
<use href="#mIIa" x="640.4" y="396.1"/>
<use href="#mIIa" x="643.8" y="392.2"/>
<use href="#mIIa" x="647.2" y="390.9"/>
<use href="#mIIa" x="650.6" y="393.3"/>
<use href="#mIIa" x="654.1" y="388.1"/>
<use href="#mIIa" x="657.5" y="387.7"/>
<use href="#mIIa" x="660.9" y="386.9"/>
<use href="#mIIa" x="664.3" y="381.3"/>
<use href="#mIIa" x="667.7" y="378.6"/>
<use href="#mIIa" x="671.2" y="372.1"/>
<use href="#mIIa" x="674.6" y="369.4"/>
<use href="#mIIa" x="678.0" y="365.3"/>
<use href="#mIIa" x="681.4" y="362.7"/>
<use href="#mIIa" x="684.8" y="358.9"/>
<use href="#mIIa" x="688.3" y="355.6"/>
<use href="#mIIa" x="691.7" y="352.9"/>
<use href="#mIIa" x="695.1" y="353.2"/>
<use href="#mIIa" x="698.5" y="350.3"/>
<use href="#mIIa" x="701.9" y="350.8"/>
<use href="#mIIa" x="705.3" y="347.7"/>
<use href="#mIIa" x="708.8" y="343.8"/>
<use href="#mIIa" x="712.2" y="345.4"/>
<use href="#mIIa" x="715.6" y="340.6"/>
<use href="#mIIa" x="719.0" y="339.6"/>
<use href="#mIIa" x="722.4" y="339.0"/>
<use href="#mIIa" x="725.9" y="335.1"/>
<use href="#mIIa" x="729.3" y="335.1"/>
<use href="#mIIa" x="732.7" y="330.9"/>
<use href="#mIIa" x="736.1" y="332.4"/>
<use href="#mIIa" x="739.5" y="330.7"/>
<use href="#mIIa" x="743.0" y="326.9"/>
<use href="#mIIa" x="746.4" y="326.9"/>
<use href="#mIIa" x="749.8" y="327.0"/>
<use href="#mIIa" x="753.2" y="324.6"/>
<use href="#mIIa" x="756.6" y="324.4"/>
<use href="#mIIa" x="760.1" y="322.4"/>
<use href="#mIIa" x="763.5" y="320.4"/>
<use href="#mIIa" x="766.9" y="318.6"/>
<use href="#mIIa" x="770.3" y="320.2"/>
<use href="#mIIa" x="773.7" y="316.5"/>
<use href="#mIIa" x="777.2" y="313.4"/>
<use href="#mIIa" x="780.6" y="313.9"/>
<use href="#mIIa" x="784.0" y="311.3"/>
<use href="#mIIa" x="787.4" y="312.8"/>
<use href="#mIIa" x="790.8" y="308.9"/>
<use href="#mIIa" x="794.3" y="309.4"/>
<use href="#mIIa" x="797.7" y="307.7"/>
<use href="#mIIa" x="801.1" y="307.6"/>
<use href="#mIIa" x="804.5" y="306.8"/>
<use href="#mIIa" x="807.9" y="309.5"/>
<use href="#mIIa" x="811.4" y="306.3"/>
<use href="#mIIa" x="814.8" y="307.6"/>
<use href="#mIIa" x="818.2" y="306.5"/>
<use href="#mIIa" x="821.6" y="305.4"/>
<use href="#mIIa" x="825.0" y="303.3"/>
<use href="#mIIa" x="828.5" y="302.1"/>
<use href="#mIIa" x="831.9" y="299.8"/>
<use href="#mIIa" x="835.3" y="302.4"/>
<use href="#mIIa" x="838.7" y="300.6"/>
<use href="#mIIa" x="842.1" y="298.9"/>
<use href="#mIIa" x="845.6" y="296.1"/>
<use href="#mIIa" x="849.0" y="296.0"/>
<use href="#mIIa" x="852.4" y="294.9"/>
<use href="#mIIa" x="855.8" y="292.8"/>
<use href="#mIIa" x="859.2" y="292.0"/>
<use href="#mIIa" x="862.6" y="292.3"/>
<use href="#mIIa" x="866.1" y="292.0"/>
<use href="#mIIa" x="869.5" y="289.6"/>
<use href="#mIIa" x="872.9" y="287.1"/>
<use href="#mIIa" x="876.3" y="287.5"/>
<use href="#mIIa" x="879.7" y="289.0"/>
<use href="#mIIa" x="883.2" y="287.1"/>
<use href="#mIIa" x="886.6" y="287.0"/>
<use href="#mIIa" x="890.0" y="285.9"/>
<use href="#mIIa" x="893.4" y="285.6"/>
<use href="#mIIa" x="896.8" y="283.9"/>
<use href="#mIIa" x="900.3" y="286.0"/>
<use href="#mIIa" x="903.7" y="285.5"/>
<use href="#mIIa" x="907.1" y="284.5"/>
<use href="#mIIa" x="910.5" y="283.2"/>
<use href="#mIIa" x="913.9" y="283.7"/>
<use href="#mIIa" x="917.4" y="284.4"/>
<use href="#mIIa" x="920.8" y="282.8"/>
<use href="#mIIa" x="924.2" y="283.8"/>
<use href="#mIIa" x="927.6" y="281.7"/>
<use href="#mIIa" x="931.0" y="284.0"/>
<use href="#mIIa" x="934.5" y="284.2"/>
<use href="#mIIa" x="937.9" y="281.1"/>
<use href="#mIIa" x="941.3" y="282.8"/>
<use href="#mIIa" x="944.7" y="280.2"/>
<use href="#mIIa" x="948.1" y="280.7"/>
<use href="#mIIa" x="951.6" y="280.7"/>
<use href="#mIIa" x="955.0" y="281.9"/>
<use href="#mIIa" x="958.4" y="278.6"/>
<use href="#mIIa" x="961.8" y="281.0"/>
<use href="#mIIa" x="965.2" y="277.0"/>
<use href="#mIIa" x="968.7" y="276.9"/>
<use href="#mIIa" x="972.1" y="278.7"/>
<use href="#mIIa" x="975.5" y="278.9"/>
<use href="#mIIa" x="978.9" y="275.5"/>
<use href="#mIIa" x="982.3" y="276.6"/>
<use href="#mIIa" x="985.8" y="277.5"/>
<use href="#mIIa" x="989.2" y="275.6"/>
<use href="#mIIa" x="992.6" y="276.1"/>
<use href="#mIIa" x="996.0" y="275.0"/>
<use href="#mIIa" x="999.4" y="273.6"/>
<use href="#mIIa" x="1002.9" y="272.0"/>
<use href="#mIIa" x="1006.3" y="272.0"/>
<use href="#mIIa" x="1009.7" y="274.0"/>
<use href="#mIIa" x="1013.1" y="272.3"/>
<use href="#mIIa" x="1016.5" y="271.7"/>
<use href="#mIIa" x="1020.0" y="269.3"/>
<use href="#mIIa" x="1023.4" y="272.3"/>
<use href="#mIIa" x="1026.8" y="270.2"/>
<use href="#mIIa" x="1030.2" y="268.2"/>
<use href="#mIIa" x="1033.6" y="269.7"/>
<use href="#mIIa" x="1037.0" y="269.8"/>
<use href="#mIIa" x="1040.5" y="268.3"/>
<use href="#mIIa" x="1043.9" y="268.8"/>
<use href="#mIIa" x="1047.3" y="266.0"/>
<use href="#mIIa" x="1050.7" y="268.9"/>
<use href="#mIIa" x="1054.1" y="268.1"/>
<use href="#mIIa" x="1057.6" y="268.2"/>
<use href="#mIIa" x="1061.0" y="265.3"/>
<use href="#mIIa" x="1064.4" y="266.6"/>
<use href="#mIIa" x="1067.8" y="263.8"/>
<use href="#mIIa" x="1071.2" y="263.5"/>
<use href="#mIIa" x="1074.7" y="262.9"/>
<use href="#mIIa" x="1078.1" y="265.2"/>
<use href="#mIIa" x="1081.5" y="265.9"/>
<use href="#mIIa" x="1084.9" y="264.0"/>
<use href="#mIIa" x="1088.3" y="261.4"/>
<use href="#mIIa" x="1091.8" y="261.8"/>
<use href="#mIIa" x="1095.2" y="264.3"/>
<use href="#mIIa" x="1098.6" y="261.4"/>
<use href="#mIIa" x="1102.0" y="260.3"/>
<use href="#mIIa" x="1105.4" y="259.8"/>
<use href="#mIIa" x="1108.9" y="260.5"/>
<use href="#mIIa" x="1112.3" y="259.6"/>
<use href="#mIIa" x="1115.8" y="259.4"/>
<use href="#mIIa" x="1119.3" y="261.1"/>
<use href="#mIIa" x="1122.9" y="261.9"/>
<use href="#mIIa" x="1126.5" y="259.2"/>
<use href="#mIIa" x="1130.2" y="261.3"/>
<use href="#mIIa" x="1133.8" y="260.1"/>
<use href="#mIIa" x="1137.6" y="257.5"/>
<use href="#mIIa" x="1141.4" y="259.0"/>
<use href="#mIIa" x="1145.2" y="259.0"/>
<use href="#mIIa" x="1149.1" y="257.1"/>
<use href="#mIIa" x="1153.0" y="259.5"/>
<use href="#mIIa" x="1156.9" y="256.5"/>
<use href="#mIIa" x="1161.0" y="256.7"/>
<use href="#mIIa" x="1165.0" y="258.7"/>
<use href="#mIIa" x="1169.1" y="258.6"/>
<use href="#mIIa" x="1173.3" y="259.3"/>
<use href="#mIIa" x="1177.5" y="256.0"/>
<use href="#mIIa" x="1181.8" y="258.7"/>
<use href="#mIIa" x="1186.1" y="259.2"/>
<use href="#mIIa" x="1190.5" y="255.6"/>
<use href="#mIIa" x="1195.0" y="256.6"/>
<use href="#mIIa" x="1199.5" y="256.2"/>
<use href="#mIIa" x="1204.0" y="255.8"/>
<use href="#mIIa" x="1208.7" y="258.4"/>
<use href="#mIIa" x="1213.4" y="258.0"/>
<use href="#mIIa" x="1218.1" y="256.3"/>
<use href="#mIIa" x="1223.0" y="257.9"/>
<use href="#mIIa" x="1227.8" y="256.0"/>
<use href="#mIIa" x="1232.8" y="254.9"/>
<use href="#mIIa" x="1237.9" y="255.1"/>
<use href="#mIIa" x="1243.0" y="255.1"/>
<use href="#mIIa" x="1248.2" y="257.2"/>
<use href="#mIIa" x="1253.4" y="256.3"/>
<use href="#mIIa" x="1258.8" y="253.6"/>
<use href="#mIIa" x="1264.2" y="256.5"/>
<use href="#mIIa" x="1269.7" y="254.8"/>
<use href="#mIIa" x="1275.3" y="256.6"/>
<use href="#mIIa" x="1281.0" y="253.0"/>
<use href="#mIIa" x="1286.8" y="255.9"/>
<use href="#mIIa" x="1292.7" y="254.8"/>
<use href="#mIIa" x="1298.7" y="254.2"/>
<use href="#mIIa" x="1304.8" y="253.4"/>
<use href="#mIIa" x="1311.0" y="252.4"/>
<use href="#mIIa" x="1317.3" y="253.0"/>
<use href="#mIIa" x="1323.7" y="254.4"/>
<use href="#mIIa" x="1330.2" y="255.3"/>
<use href="#mIIa" x="1336.8" y="252.7"/>
<use href="#mIIa" x="1343.6" y="251.5"/>
<use href="#mIIa" x="1350.4" y="255.0"/>
<use href="#mIIa" x="1357.4" y="251.8"/>
<use href="#mIIa" x="1364.6" y="253.9"/>
<use href="#mIIa" x="1371.9" y="252.6"/>
<use href="#mIIa" x="1379.3" y="252.1"/>
<use href="#mIIa" x="1386.8" y="251.4"/>
<use href="#mIIa" x="1394.6" y="249.7"/>
<use href="#mIIa" x="1402.4" y="250.6"/>
<use href="#mIIa" x="1410.5" y="251.6"/>
<use href="#mIIa" x="1418.7" y="250.1"/>
<use href="#mIIa" x="1427.1" y="250.9"/>
<use href="#mIIa" x="1435.6" y="251.0"/>
<use href="#mIIa" x="1444.4" y="251.0"/>
<use href="#mIIa" x="1453.3" y="250.4"/>
<use href="#mIIa" x="1462.5" y="251.2"/>
<use href="#mIIa" x="1471.9" y="251.2"/>
<use href="#mIIa" x="1481.4" y="251.5"/>
<use href="#mIIa" x="1491.3" y="250.3"/>
<use href="#mIIa" x="1501.3" y="250.8"/>
<use href="#mIIa" x="1511.6" y="248.6"/>
<use href="#mIIa" x="1522.2" y="248.4"/>
<use href="#mIIa" x="1533.0" y="250.3"/>
<use href="#mIIa" x="1544.2" y="249.2"/>
<use href="#mIIa" x="1555.6" y="248.0"/>
<use href="#mIIa" x="1567.3" y="250.0"/>
<use href="#mIIa" x="1579.4" y="249.1"/>
<use href="#mIIa" x="1591.8" y="249.4"/>
<use href="#mIIa" x="1604.6" y="248.5"/>
<use href="#mIIa" x="1617.8" y="247.2"/>
<use href="#mIIa" x="1631.3" y="250.3"/>
<use href="#mIIa" x="1645.3" y="246.9"/>
<use href="#mIIa" x="1659.8" y="247.9"/>
<use href="#mIIa" x="1674.7" y="247.2"/>
<use href="#mIIa" x="1690.1" y="247.6"/>
<use href="#mIIa" x="1706.0" y="246.2"/>
<use href="#mIIa" x="1722.5" y="247.5"/>
<use href="#mIIa" x="1739.6" y="244.9"/>
<use href="#mIIa" x="1757.4" y="245.3"/>
<use href="#mIIa" x="1775.8" y="242.9"/>
<use href="#mIIa" x="1795.0" y="240.2"/>
<use href="#mIIa" x="1814.9" y="239.6"/>
<use href="#mIIa" x="1835.6" y="239.9"/>
<use href="#mIIa" x="1857.3" y="244.0"/>
<use href="#mIIa" x="1879.9" y="249.0"/>
<use href="#mIIa" x="1903.6" y="249.7"/>
<use href="#mIIa" x="1913.6" y="249.4"/>
<path d="M296.5,1369.2 L299.9,1371.0 L303.3,1369.2 L306.7,1369.4 L310.1,1369.3 L313.6,1369.9 L317.0,1370.5 L320.4,1369.0 L323.8,1369.8 L327.2,1368.9 L330.7,1370.1 L334.1,1371.0 L337.5,1369.6 L340.9,1369.3 L344.3,1368.4 L347.8,1368.5 L351.2,1371.1 L354.6,1368.8 L358.0,1370.4 L361.4,1369.1 L364.9,1370.1 L368.3,1370.2 L371.7,1369.7 L375.1,1369.6 L378.5,1369.1 L382.0,1369.3 L385.4,1369.1 L388.8,1370.1 L392.2,1369.1 L395.6,1370.2 L399.1,1369.4 L402.5,1369.8 L405.9,1369.5 L409.3,1371.2 L412.7,1369.7 L416.2,1370.6 L419.6,1370.0 L423.0,1371.0 L426.4,1369.2 L429.8,1368.5 L433.2,1370.1 L436.7,1370.9 L440.1,1369.3 L443.5,1370.9 L446.9,1368.5 L450.3,1370.9 L453.8,1370.1 L457.2,1369.7 L460.6,1370.9 L464.0,1370.3 L467.4,1370.4 L470.9,1369.0 L474.3,1368.2 L477.7,1370.1 L481.1,1368.8 L484.5,1370.8 L488.0,1369.4 L491.4,1369.9 L494.8,1370.4 L498.2,1368.7 L501.6,1368.9 L505.1,1370.8 L508.5,1370.3 L511.9,1368.7 L515.3,1368.1 L518.7,1369.3 L522.2,1368.5 L525.6,1368.2 L529.0,1368.9 L532.4,1369.2 L535.8,1370.6 L539.3,1370.1 L542.7,1369.3 L546.1,1368.4 L549.5,1370.3 L552.9,1370.0 L556.4,1371.2 L559.8,1369.1 L563.2,1369.9 L566.6,1368.8 L570.0,1370.5 L573.5,1369.2 L576.9,1369.1 L581.1,1348.8 L587.9,1014.5 L594.1,608.5 L599.6,433.5 L607.3,386.6 L610.7,371.8 L614.2,357.4 L617.6,346.0 L621.0,340.2 L624.4,334.6 L627.8,329.7 L631.3,328.3 L634.7,324.2 L638.1,321.7 L641.5,318.6 L644.9,316.2 L648.4,314.1 L651.8,312.7 L655.2,306.8 L658.6,304.1 L662.0,301.9 L665.5,300.3 L668.9,298.3 L672.3,299.0 L675.7,296.2 L679.1,295.3 L682.6,294.4 L686.0,292.6 L689.4,291.2 L692.8,287.8 L696.2,286.3 L699.6,284.4 L703.1,281.2 L706.5,280.5 L709.9,279.2 L713.3,276.7 L716.7,278.3 L720.2,275.8 L723.6,276.1 L727.0,273.6 L730.4,270.1 L733.8,272.3 L737.3,268.6 L740.7,267.3 L744.1,267.8 L747.5,265.8 L750.9,266.5 L754.4,266.1 L757.8,264.8 L761.2,265.3 L764.6,264.3 L768.0,263.7 L771.5,260.4 L774.9,262.4 L778.3,262.2 L781.7,258.9 L785.1,261.5 L788.6,257.7 L792.0,257.6 L795.4,257.9 L798.8,258.3 L802.2,258.7 L805.7,258.6 L809.1,258.2 L812.5,256.7 L815.9,256.1 L819.3,253.6 L822.8,254.7 L826.2,252.5 L829.6,253.1 L833.0,255.0 L836.4,252.9 L839.9,254.1 L843.3,254.1 L846.7,250.2 L850.1,252.1 L853.5,252.3 L857.0,252.2 L860.4,249.7 L863.8,250.0 L867.2,251.3 L870.6,248.2 L874.0,249.5 L877.5,247.0 L880.9,247.7 L884.3,247.1 L887.7,247.0 L891.1,245.6 L894.6,243.9 L898.0,244.2 L901.4,246.5 L904.8,244.4 L908.2,244.9 L911.7,244.9 L915.1,244.0 L918.5,243.2 L921.9,239.9 L925.3,240.2 L928.8,239.3 L932.2,239.3 L935.6,240.3 L939.0,239.5 L942.4,238.7 L945.9,238.8 L949.3,237.8 L952.7,235.9 L956.1,238.1 L959.5,236.8 L963.0,235.5 L966.4,234.3 L969.8,233.9 L973.2,233.2 L976.6,235.2 L980.1,234.5 L983.5,233.5 L986.9,233.3 L990.3,231.0 L993.7,229.7 L997.2,230.6 L1000.6,232.8 L1004.0,231.5 L1007.4,229.2 L1010.8,228.5 L1014.3,229.5 L1017.8,230.1 L1021.3,229.8 L1024.9,228.5 L1028.5,227.3 L1032.2,229.1 L1035.9,229.4 L1039.7,229.8 L1043.5,229.1 L1047.4,226.0 L1051.3,226.6 L1055.2,224.9 L1059.3,228.3 L1063.3,226.9 L1067.5,224.9 L1071.7,225.2 L1075.9,227.3 L1080.2,225.7 L1084.6,224.5 L1089.0,224.1 L1093.5,224.7 L1098.1,225.5 L1102.7,222.2 L1107.4,223.9 L1112.2,222.6 L1117.0,223.1 L1121.9,224.6 L1126.9,223.7 L1132.0,224.1 L1137.1,223.3 L1142.4,223.0 L1147.7,221.9 L1153.1,222.0 L1158.6,221.6 L1164.2,219.5 L1169.9,222.3 L1175.8,221.7 L1181.7,218.7 L1187.7,219.5 L1193.8,219.6 L1200.0,220.0 L1206.4,218.6 L1212.9,219.6 L1219.5,216.8 L1226.2,216.6 L1233.1,218.2 L1240.1,219.1 L1247.2,215.4 L1254.5,217.3 L1262.0,215.6 L1269.6,214.4 L1277.4,214.3 L1285.3,213.6 L1293.5,214.7 L1301.8,212.9 L1310.3,213.9 L1319.0,214.3 L1328.0,213.0 L1337.1,213.2 L1346.5,211.1 L1356.2,210.5 L1366.0,213.0 L1376.2,212.6 L1386.6,211.5 L1397.3,210.9 L1408.3,208.8 L1419.7,208.6 L1431.3,208.3 L1443.4,209.0 L1455.8,209.0 L1468.6,210.4 L1481.8,209.7 L1495.4,210.9 L1509.5,207.4 L1524.1,209.3 L1539.3,209.9 L1554.9,208.7 L1571.2,208.4 L1588.2,206.6 L1605.8,209.0 L1624.1,207.7 L1643.2,204.5 L1663.2,203.7 L1684.0,203.1 L1705.9,201.4 L1728.8,200.2 L1752.9,194.9 L1778.2,192.3 L1804.9,189.4 L1833.2,186.5 L1863.1,183.6 L1894.9,173.3 L1913.6,160.6" fill="none" stroke="#7a3092" stroke-width="2.6"/>
<use href="#mIb" x="296.5" y="1369.2"/>
<use href="#mIb" x="299.9" y="1371.0"/>
<use href="#mIb" x="303.3" y="1369.2"/>
<use href="#mIb" x="306.7" y="1369.4"/>
<use href="#mIb" x="310.1" y="1369.3"/>
<use href="#mIb" x="313.6" y="1369.9"/>
<use href="#mIb" x="317.0" y="1370.5"/>
<use href="#mIb" x="320.4" y="1369.0"/>
<use href="#mIb" x="323.8" y="1369.8"/>
<use href="#mIb" x="327.2" y="1368.9"/>
<use href="#mIb" x="330.7" y="1370.1"/>
<use href="#mIb" x="334.1" y="1371.0"/>
<use href="#mIb" x="337.5" y="1369.6"/>
<use href="#mIb" x="340.9" y="1369.3"/>
<use href="#mIb" x="344.3" y="1368.4"/>
<use href="#mIb" x="347.8" y="1368.5"/>
<use href="#mIb" x="351.2" y="1371.1"/>
<use href="#mIb" x="354.6" y="1368.8"/>
<use href="#mIb" x="358.0" y="1370.4"/>
<use href="#mIb" x="361.4" y="1369.1"/>
<use href="#mIb" x="364.9" y="1370.1"/>
<use href="#mIb" x="368.3" y="1370.2"/>
<use href="#mIb" x="371.7" y="1369.7"/>
<use href="#mIb" x="375.1" y="1369.6"/>
<use href="#mIb" x="378.5" y="1369.1"/>
<use href="#mIb" x="382.0" y="1369.3"/>
<use href="#mIb" x="385.4" y="1369.1"/>
<use href="#mIb" x="388.8" y="1370.1"/>
<use href="#mIb" x="392.2" y="1369.1"/>
<use href="#mIb" x="395.6" y="1370.2"/>
<use href="#mIb" x="399.1" y="1369.4"/>
<use href="#mIb" x="402.5" y="1369.8"/>
<use href="#mIb" x="405.9" y="1369.5"/>
<use href="#mIb" x="409.3" y="1371.2"/>
<use href="#mIb" x="412.7" y="1369.7"/>
<use href="#mIb" x="416.2" y="1370.6"/>
<use href="#mIb" x="419.6" y="1370.0"/>
<use href="#mIb" x="423.0" y="1371.0"/>
<use href="#mIb" x="426.4" y="1369.2"/>
<use href="#mIb" x="429.8" y="1368.5"/>
<use href="#mIb" x="433.2" y="1370.1"/>
<use href="#mIb" x="436.7" y="1370.9"/>
<use href="#mIb" x="440.1" y="1369.3"/>
<use href="#mIb" x="443.5" y="1370.9"/>
<use href="#mIb" x="446.9" y="1368.5"/>
<use href="#mIb" x="450.3" y="1370.9"/>
<use href="#mIb" x="453.8" y="1370.1"/>
<use href="#mIb" x="457.2" y="1369.7"/>
<use href="#mIb" x="460.6" y="1370.9"/>
<use href="#mIb" x="464.0" y="1370.3"/>
<use href="#mIb" x="467.4" y="1370.4"/>
<use href="#mIb" x="470.9" y="1369.0"/>
<use href="#mIb" x="474.3" y="1368.2"/>
<use href="#mIb" x="477.7" y="1370.1"/>
<use href="#mIb" x="481.1" y="1368.8"/>
<use href="#mIb" x="484.5" y="1370.8"/>
<use href="#mIb" x="488.0" y="1369.4"/>
<use href="#mIb" x="491.4" y="1369.9"/>
<use href="#mIb" x="494.8" y="1370.4"/>
<use href="#mIb" x="498.2" y="1368.7"/>
<use href="#mIb" x="501.6" y="1368.9"/>
<use href="#mIb" x="505.1" y="1370.8"/>
<use href="#mIb" x="508.5" y="1370.3"/>
<use href="#mIb" x="511.9" y="1368.7"/>
<use href="#mIb" x="515.3" y="1368.1"/>
<use href="#mIb" x="518.7" y="1369.3"/>
<use href="#mIb" x="522.2" y="1368.5"/>
<use href="#mIb" x="525.6" y="1368.2"/>
<use href="#mIb" x="529.0" y="1368.9"/>
<use href="#mIb" x="532.4" y="1369.2"/>
<use href="#mIb" x="535.8" y="1370.6"/>
<use href="#mIb" x="539.3" y="1370.1"/>
<use href="#mIb" x="542.7" y="1369.3"/>
<use href="#mIb" x="546.1" y="1368.4"/>
<use href="#mIb" x="549.5" y="1370.3"/>
<use href="#mIb" x="552.9" y="1370.0"/>
<use href="#mIb" x="556.4" y="1371.2"/>
<use href="#mIb" x="559.8" y="1369.1"/>
<use href="#mIb" x="563.2" y="1369.9"/>
<use href="#mIb" x="566.6" y="1368.8"/>
<use href="#mIb" x="570.0" y="1370.5"/>
<use href="#mIb" x="573.5" y="1369.2"/>
<use href="#mIb" x="576.9" y="1369.1"/>
<use href="#mIb" x="581.1" y="1348.8"/>
<use href="#mIb" x="587.9" y="1014.5"/>
<use href="#mIb" x="594.1" y="608.5"/>
<use href="#mIb" x="599.6" y="433.5"/>
<use href="#mIb" x="607.3" y="386.6"/>
<use href="#mIb" x="610.7" y="371.8"/>
<use href="#mIb" x="614.2" y="357.4"/>
<use href="#mIb" x="617.6" y="346.0"/>
<use href="#mIb" x="621.0" y="340.2"/>
<use href="#mIb" x="624.4" y="334.6"/>
<use href="#mIb" x="627.8" y="329.7"/>
<use href="#mIb" x="631.3" y="328.3"/>
<use href="#mIb" x="634.7" y="324.2"/>
<use href="#mIb" x="638.1" y="321.7"/>
<use href="#mIb" x="641.5" y="318.6"/>
<use href="#mIb" x="644.9" y="316.2"/>
<use href="#mIb" x="648.4" y="314.1"/>
<use href="#mIb" x="651.8" y="312.7"/>
<use href="#mIb" x="655.2" y="306.8"/>
<use href="#mIb" x="658.6" y="304.1"/>
<use href="#mIb" x="662.0" y="301.9"/>
<use href="#mIb" x="665.5" y="300.3"/>
<use href="#mIb" x="668.9" y="298.3"/>
<use href="#mIb" x="672.3" y="299.0"/>
<use href="#mIb" x="675.7" y="296.2"/>
<use href="#mIb" x="679.1" y="295.3"/>
<use href="#mIb" x="682.6" y="294.4"/>
<use href="#mIb" x="686.0" y="292.6"/>
<use href="#mIb" x="689.4" y="291.2"/>
<use href="#mIb" x="692.8" y="287.8"/>
<use href="#mIb" x="696.2" y="286.3"/>
<use href="#mIb" x="699.6" y="284.4"/>
<use href="#mIb" x="703.1" y="281.2"/>
<use href="#mIb" x="706.5" y="280.5"/>
<use href="#mIb" x="709.9" y="279.2"/>
<use href="#mIb" x="713.3" y="276.7"/>
<use href="#mIb" x="716.7" y="278.3"/>
<use href="#mIb" x="720.2" y="275.8"/>
<use href="#mIb" x="723.6" y="276.1"/>
<use href="#mIb" x="727.0" y="273.6"/>
<use href="#mIb" x="730.4" y="270.1"/>
<use href="#mIb" x="733.8" y="272.3"/>
<use href="#mIb" x="737.3" y="268.6"/>
<use href="#mIb" x="740.7" y="267.3"/>
<use href="#mIb" x="744.1" y="267.8"/>
<use href="#mIb" x="747.5" y="265.8"/>
<use href="#mIb" x="750.9" y="266.5"/>
<use href="#mIb" x="754.4" y="266.1"/>
<use href="#mIb" x="757.8" y="264.8"/>
<use href="#mIb" x="761.2" y="265.3"/>
<use href="#mIb" x="764.6" y="264.3"/>
<use href="#mIb" x="768.0" y="263.7"/>
<use href="#mIb" x="771.5" y="260.4"/>
<use href="#mIb" x="774.9" y="262.4"/>
<use href="#mIb" x="778.3" y="262.2"/>
<use href="#mIb" x="781.7" y="258.9"/>
<use href="#mIb" x="785.1" y="261.5"/>
<use href="#mIb" x="788.6" y="257.7"/>
<use href="#mIb" x="792.0" y="257.6"/>
<use href="#mIb" x="795.4" y="257.9"/>
<use href="#mIb" x="798.8" y="258.3"/>
<use href="#mIb" x="802.2" y="258.7"/>
<use href="#mIb" x="805.7" y="258.6"/>
<use href="#mIb" x="809.1" y="258.2"/>
<use href="#mIb" x="812.5" y="256.7"/>
<use href="#mIb" x="815.9" y="256.1"/>
<use href="#mIb" x="819.3" y="253.6"/>
<use href="#mIb" x="822.8" y="254.7"/>
<use href="#mIb" x="826.2" y="252.5"/>
<use href="#mIb" x="829.6" y="253.1"/>
<use href="#mIb" x="833.0" y="255.0"/>
<use href="#mIb" x="836.4" y="252.9"/>
<use href="#mIb" x="839.9" y="254.1"/>
<use href="#mIb" x="843.3" y="254.1"/>
<use href="#mIb" x="846.7" y="250.2"/>
<use href="#mIb" x="850.1" y="252.1"/>
<use href="#mIb" x="853.5" y="252.3"/>
<use href="#mIb" x="857.0" y="252.2"/>
<use href="#mIb" x="860.4" y="249.7"/>
<use href="#mIb" x="863.8" y="250.0"/>
<use href="#mIb" x="867.2" y="251.3"/>
<use href="#mIb" x="870.6" y="248.2"/>
<use href="#mIb" x="874.0" y="249.5"/>
<use href="#mIb" x="877.5" y="247.0"/>
<use href="#mIb" x="880.9" y="247.7"/>
<use href="#mIb" x="884.3" y="247.1"/>
<use href="#mIb" x="887.7" y="247.0"/>
<use href="#mIb" x="891.1" y="245.6"/>
<use href="#mIb" x="894.6" y="243.9"/>
<use href="#mIb" x="898.0" y="244.2"/>
<use href="#mIb" x="901.4" y="246.5"/>
<use href="#mIb" x="904.8" y="244.4"/>
<use href="#mIb" x="908.2" y="244.9"/>
<use href="#mIb" x="911.7" y="244.9"/>
<use href="#mIb" x="915.1" y="244.0"/>
<use href="#mIb" x="918.5" y="243.2"/>
<use href="#mIb" x="921.9" y="239.9"/>
<use href="#mIb" x="925.3" y="240.2"/>
<use href="#mIb" x="928.8" y="239.3"/>
<use href="#mIb" x="932.2" y="239.3"/>
<use href="#mIb" x="935.6" y="240.3"/>
<use href="#mIb" x="939.0" y="239.5"/>
<use href="#mIb" x="942.4" y="238.7"/>
<use href="#mIb" x="945.9" y="238.8"/>
<use href="#mIb" x="949.3" y="237.8"/>
<use href="#mIb" x="952.7" y="235.9"/>
<use href="#mIb" x="956.1" y="238.1"/>
<use href="#mIb" x="959.5" y="236.8"/>
<use href="#mIb" x="963.0" y="235.5"/>
<use href="#mIb" x="966.4" y="234.3"/>
<use href="#mIb" x="969.8" y="233.9"/>
<use href="#mIb" x="973.2" y="233.2"/>
<use href="#mIb" x="976.6" y="235.2"/>
<use href="#mIb" x="980.1" y="234.5"/>
<use href="#mIb" x="983.5" y="233.5"/>
<use href="#mIb" x="986.9" y="233.3"/>
<use href="#mIb" x="990.3" y="231.0"/>
<use href="#mIb" x="993.7" y="229.7"/>
<use href="#mIb" x="997.2" y="230.6"/>
<use href="#mIb" x="1000.6" y="232.8"/>
<use href="#mIb" x="1004.0" y="231.5"/>
<use href="#mIb" x="1007.4" y="229.2"/>
<use href="#mIb" x="1010.8" y="228.5"/>
<use href="#mIb" x="1014.3" y="229.5"/>
<use href="#mIb" x="1017.8" y="230.1"/>
<use href="#mIb" x="1021.3" y="229.8"/>
<use href="#mIb" x="1024.9" y="228.5"/>
<use href="#mIb" x="1028.5" y="227.3"/>
<use href="#mIb" x="1032.2" y="229.1"/>
<use href="#mIb" x="1035.9" y="229.4"/>
<use href="#mIb" x="1039.7" y="229.8"/>
<use href="#mIb" x="1043.5" y="229.1"/>
<use href="#mIb" x="1047.4" y="226.0"/>
<use href="#mIb" x="1051.3" y="226.6"/>
<use href="#mIb" x="1055.2" y="224.9"/>
<use href="#mIb" x="1059.3" y="228.3"/>
<use href="#mIb" x="1063.3" y="226.9"/>
<use href="#mIb" x="1067.5" y="224.9"/>
<use href="#mIb" x="1071.7" y="225.2"/>
<use href="#mIb" x="1075.9" y="227.3"/>
<use href="#mIb" x="1080.2" y="225.7"/>
<use href="#mIb" x="1084.6" y="224.5"/>
<use href="#mIb" x="1089.0" y="224.1"/>
<use href="#mIb" x="1093.5" y="224.7"/>
<use href="#mIb" x="1098.1" y="225.5"/>
<use href="#mIb" x="1102.7" y="222.2"/>
<use href="#mIb" x="1107.4" y="223.9"/>
<use href="#mIb" x="1112.2" y="222.6"/>
<use href="#mIb" x="1117.0" y="223.1"/>
<use href="#mIb" x="1121.9" y="224.6"/>
<use href="#mIb" x="1126.9" y="223.7"/>
<use href="#mIb" x="1132.0" y="224.1"/>
<use href="#mIb" x="1137.1" y="223.3"/>
<use href="#mIb" x="1142.4" y="223.0"/>
<use href="#mIb" x="1147.7" y="221.9"/>
<use href="#mIb" x="1153.1" y="222.0"/>
<use href="#mIb" x="1158.6" y="221.6"/>
<use href="#mIb" x="1164.2" y="219.5"/>
<use href="#mIb" x="1169.9" y="222.3"/>
<use href="#mIb" x="1175.8" y="221.7"/>
<use href="#mIb" x="1181.7" y="218.7"/>
<use href="#mIb" x="1187.7" y="219.5"/>
<use href="#mIb" x="1193.8" y="219.6"/>
<use href="#mIb" x="1200.0" y="220.0"/>
<use href="#mIb" x="1206.4" y="218.6"/>
<use href="#mIb" x="1212.9" y="219.6"/>
<use href="#mIb" x="1219.5" y="216.8"/>
<use href="#mIb" x="1226.2" y="216.6"/>
<use href="#mIb" x="1233.1" y="218.2"/>
<use href="#mIb" x="1240.1" y="219.1"/>
<use href="#mIb" x="1247.2" y="215.4"/>
<use href="#mIb" x="1254.5" y="217.3"/>
<use href="#mIb" x="1262.0" y="215.6"/>
<use href="#mIb" x="1269.6" y="214.4"/>
<use href="#mIb" x="1277.4" y="214.3"/>
<use href="#mIb" x="1285.3" y="213.6"/>
<use href="#mIb" x="1293.5" y="214.7"/>
<use href="#mIb" x="1301.8" y="212.9"/>
<use href="#mIb" x="1310.3" y="213.9"/>
<use href="#mIb" x="1319.0" y="214.3"/>
<use href="#mIb" x="1328.0" y="213.0"/>
<use href="#mIb" x="1337.1" y="213.2"/>
<use href="#mIb" x="1346.5" y="211.1"/>
<use href="#mIb" x="1356.2" y="210.5"/>
<use href="#mIb" x="1366.0" y="213.0"/>
<use href="#mIb" x="1376.2" y="212.6"/>
<use href="#mIb" x="1386.6" y="211.5"/>
<use href="#mIb" x="1397.3" y="210.9"/>
<use href="#mIb" x="1408.3" y="208.8"/>
<use href="#mIb" x="1419.7" y="208.6"/>
<use href="#mIb" x="1431.3" y="208.3"/>
<use href="#mIb" x="1443.4" y="209.0"/>
<use href="#mIb" x="1455.8" y="209.0"/>
<use href="#mIb" x="1468.6" y="210.4"/>
<use href="#mIb" x="1481.8" y="209.7"/>
<use href="#mIb" x="1495.4" y="210.9"/>
<use href="#mIb" x="1509.5" y="207.4"/>
<use href="#mIb" x="1524.1" y="209.3"/>
<use href="#mIb" x="1539.3" y="209.9"/>
<use href="#mIb" x="1554.9" y="208.7"/>
<use href="#mIb" x="1571.2" y="208.4"/>
<use href="#mIb" x="1588.2" y="206.6"/>
<use href="#mIb" x="1605.8" y="209.0"/>
<use href="#mIb" x="1624.1" y="207.7"/>
<use href="#mIb" x="1643.2" y="204.5"/>
<use href="#mIb" x="1663.2" y="203.7"/>
<use href="#mIb" x="1684.0" y="203.1"/>
<use href="#mIb" x="1705.9" y="201.4"/>
<use href="#mIb" x="1728.8" y="200.2"/>
<use href="#mIb" x="1752.9" y="194.9"/>
<use href="#mIb" x="1778.2" y="192.3"/>
<use href="#mIb" x="1804.9" y="189.4"/>
<use href="#mIb" x="1833.2" y="186.5"/>
<use href="#mIb" x="1863.1" y="183.6"/>
<use href="#mIb" x="1894.9" y="173.3"/>
<use href="#mIb" x="1913.6" y="160.6"/>
<path d="M296.5,1373.7 L299.9,1372.6 L303.3,1372.5 L306.8,1373.0 L310.2,1372.7 L313.6,1372.8 L317.0,1372.7 L320.4,1371.9 L323.9,1372.3 L327.3,1373.2 L330.7,1371.4 L334.1,1372.3 L337.5,1372.4 L341.0,1371.6 L344.4,1371.5 L347.8,1371.2 L351.2,1371.3 L354.6,1371.8 L358.1,1371.6 L361.5,1373.4 L364.9,1371.7 L368.3,1373.1 L371.7,1373.1 L375.2,1373.5 L378.6,1372.6 L382.0,1373.8 L385.4,1371.8 L388.8,1371.5 L392.3,1371.4 L395.7,1373.5 L399.1,1371.9 L402.5,1371.2 L405.9,1373.8 L409.4,1373.3 L412.8,1373.0 L416.2,1372.4 L419.6,1373.3 L423.0,1372.2 L426.5,1372.8 L429.9,1371.8 L433.3,1372.2 L436.7,1371.7 L440.1,1373.1 L443.6,1371.7 L447.0,1371.6 L450.4,1371.6 L453.8,1373.7 L457.2,1370.9 L460.6,1372.1 L464.1,1373.0 L467.5,1372.5 L470.9,1372.2 L474.3,1372.2 L477.7,1373.1 L481.2,1373.0 L484.6,1372.7 L488.0,1371.4 L491.4,1372.5 L494.8,1373.7 L498.3,1372.4 L501.7,1373.2 L505.1,1373.8 L508.5,1370.8 L511.9,1372.9 L515.4,1372.2 L518.8,1372.7 L522.2,1373.7 L525.6,1371.0 L529.0,1370.9 L532.5,1373.3 L535.9,1372.6 L539.3,1372.7 L542.7,1373.3 L546.1,1371.8 L549.6,1371.4 L553.0,1371.5 L556.4,1371.8 L559.8,1373.8 L563.2,1373.1 L566.7,1372.3 L570.1,1371.7 L573.5,1372.7 L576.9,1372.5 L580.2,1352.7 L587.9,1048.5 L593.6,651.6 L602.5,471.4 L607.3,391.7 L610.7,386.4 L614.2,380.9 L617.6,376.9 L621.0,371.0 L624.4,371.4 L627.8,369.6 L631.3,365.6 L634.7,362.8 L638.1,364.4 L641.5,362.3 L644.9,365.9 L648.4,365.1 L651.8,368.5 L655.2,366.5 L658.6,369.3 L662.0,365.3 L665.5,360.9 L668.9,358.1 L672.3,353.5 L675.7,347.1 L679.1,344.2 L682.6,341.5 L686.0,337.8 L689.4,336.7 L692.8,334.4 L696.2,332.3 L699.6,330.6 L703.1,329.1 L706.5,328.4 L709.9,326.2 L713.3,324.6 L716.7,322.8 L720.2,318.8 L723.6,319.5 L727.0,317.1 L730.4,314.0 L733.8,313.0 L737.3,311.7 L740.7,309.7 L744.1,307.9 L747.5,306.1 L750.9,303.9 L754.4,303.3 L757.8,304.0 L761.2,302.8 L764.6,301.7 L768.0,301.0 L771.5,296.6 L774.9,298.4 L778.3,296.3 L781.7,293.0 L785.1,292.0 L788.6,292.2 L792.0,288.8 L795.4,290.3 L798.8,289.1 L802.2,290.6 L805.7,287.0 L809.1,289.5 L812.5,287.8 L815.9,285.1 L819.3,284.0 L822.8,283.2 L826.2,282.5 L829.6,283.7 L833.0,283.4 L836.4,280.7 L839.9,281.2 L843.3,276.6 L846.7,279.2 L850.1,276.6 L853.5,275.8 L857.0,275.2 L860.4,272.0 L863.8,272.4 L867.2,268.1 L870.6,268.1 L874.0,268.7 L877.5,266.4 L880.9,266.5 L884.3,268.4 L887.7,266.6 L891.1,266.5 L894.6,268.0 L898.0,269.5 L901.4,267.7 L904.8,267.9 L908.2,270.7 L911.7,272.1 L915.1,269.4 L918.5,270.5 L921.9,272.4 L925.3,271.3 L928.8,272.3 L932.2,269.9 L935.6,272.0 L939.0,272.3 L942.4,272.6 L945.9,271.0 L949.3,268.0 L952.7,270.6 L956.1,269.1 L959.5,266.5 L963.0,269.7 L966.4,268.0 L969.8,265.4 L973.2,267.6 L976.6,263.9 L980.1,263.8 L983.5,266.0 L986.9,263.8 L990.3,263.5 L993.7,262.4 L997.2,263.5 L1000.6,262.7 L1004.0,262.7 L1007.4,262.0 L1010.8,262.0 L1014.3,258.7 L1017.7,258.2 L1021.1,259.8 L1024.5,258.1 L1027.9,258.4 L1031.3,258.7 L1034.8,258.0 L1038.2,255.2 L1041.6,257.2 L1045.0,255.9 L1048.4,254.1 L1051.9,256.2 L1055.3,253.8 L1058.7,256.2 L1062.1,253.4 L1065.5,252.7 L1069.0,252.2 L1072.4,251.3 L1075.8,251.9 L1079.2,250.5 L1082.6,252.9 L1086.1,251.6 L1089.5,252.5 L1092.9,252.6 L1096.3,250.9 L1099.7,249.5 L1103.2,249.0 L1106.6,251.7 L1110.0,247.8 L1113.4,250.2 L1116.8,249.8 L1120.3,247.4 L1123.7,246.9 L1127.1,247.3 L1130.5,248.7 L1133.9,248.0 L1137.4,246.4 L1140.8,248.1 L1144.2,246.1 L1147.6,246.1 L1151.0,247.1 L1154.5,245.3 L1157.9,247.1 L1161.3,245.6 L1164.7,245.9 L1168.1,246.9 L1171.6,246.0 L1175.0,245.6 L1178.4,245.7 L1181.8,247.2 L1185.2,243.7 L1188.6,243.6 L1192.1,247.2 L1195.5,243.5 L1198.9,245.0 L1202.3,246.5 L1205.7,243.6 L1209.2,245.1 L1212.6,243.9 L1216.0,243.3 L1219.4,244.3 L1222.8,246.1 L1226.3,243.0 L1229.7,243.4 L1233.1,242.5 L1236.5,244.9 L1239.9,242.8 L1243.4,242.3 L1246.8,244.3 L1250.3,244.0 L1253.9,244.2 L1257.4,245.4 L1261.1,244.4 L1264.7,244.0 L1268.4,244.7 L1272.1,242.1 L1275.9,243.3 L1279.7,242.7 L1283.5,243.7 L1287.4,243.4 L1291.3,241.7 L1295.3,242.8 L1299.3,242.2 L1303.4,242.8 L1307.5,242.2 L1311.6,240.8 L1315.9,243.1 L1320.1,242.1 L1324.4,241.3 L1328.8,243.6 L1333.2,240.0 L1337.6,241.7 L1342.1,242.6 L1346.7,240.5 L1351.3,240.1 L1356.0,240.7 L1360.7,239.4 L1365.5,242.5 L1370.4,240.6 L1375.3,239.6 L1380.3,238.7 L1385.4,239.6 L1390.5,239.6 L1395.7,240.3 L1401.0,239.4 L1406.3,239.3 L1411.7,237.8 L1417.2,237.9 L1422.8,238.2 L1428.4,237.3 L1434.2,240.6 L1440.0,237.8 L1445.9,238.9 L1451.9,237.7 L1457.9,239.4 L1464.1,238.7 L1470.4,237.2 L1476.8,240.2 L1483.2,239.2 L1489.8,238.3 L1496.5,236.9 L1503.3,239.1 L1510.2,236.9 L1517.2,239.1 L1524.3,238.8 L1531.6,237.8 L1539.0,237.3 L1546.5,236.4 L1554.2,236.3 L1562.0,238.7 L1569.9,236.7 L1578.0,237.1 L1586.3,238.0 L1594.7,236.4 L1603.3,235.8 L1612.0,237.4 L1621.0,235.6 L1630.1,238.6 L1639.4,238.4 L1648.9,235.9 L1658.6,237.6 L1668.5,236.4 L1678.6,236.6 L1689.0,237.8 L1699.6,235.1 L1710.4,234.7 L1721.5,236.5 L1732.9,235.3 L1744.6,232.4 L1756.5,231.1 L1768.8,230.3 L1781.4,230.7 L1794.3,229.7 L1807.5,227.7 L1821.2,227.5 L1835.2,226.4 L1849.6,231.9 L1864.5,236.4 L1879.8,238.9 L1895.5,240.6 L1911.8,238.0 L1913.6,237.6" fill="none" stroke="#b87450" stroke-width="2.6"/>
<use href="#mIIb" x="296.5" y="1373.7"/>
<use href="#mIIb" x="299.9" y="1372.6"/>
<use href="#mIIb" x="303.3" y="1372.5"/>
<use href="#mIIb" x="306.8" y="1373.0"/>
<use href="#mIIb" x="310.2" y="1372.7"/>
<use href="#mIIb" x="313.6" y="1372.8"/>
<use href="#mIIb" x="317.0" y="1372.7"/>
<use href="#mIIb" x="320.4" y="1371.9"/>
<use href="#mIIb" x="323.9" y="1372.3"/>
<use href="#mIIb" x="327.3" y="1373.2"/>
<use href="#mIIb" x="330.7" y="1371.4"/>
<use href="#mIIb" x="334.1" y="1372.3"/>
<use href="#mIIb" x="337.5" y="1372.4"/>
<use href="#mIIb" x="341.0" y="1371.6"/>
<use href="#mIIb" x="344.4" y="1371.5"/>
<use href="#mIIb" x="347.8" y="1371.2"/>
<use href="#mIIb" x="351.2" y="1371.3"/>
<use href="#mIIb" x="354.6" y="1371.8"/>
<use href="#mIIb" x="358.1" y="1371.6"/>
<use href="#mIIb" x="361.5" y="1373.4"/>
<use href="#mIIb" x="364.9" y="1371.7"/>
<use href="#mIIb" x="368.3" y="1373.1"/>
<use href="#mIIb" x="371.7" y="1373.1"/>
<use href="#mIIb" x="375.2" y="1373.5"/>
<use href="#mIIb" x="378.6" y="1372.6"/>
<use href="#mIIb" x="382.0" y="1373.8"/>
<use href="#mIIb" x="385.4" y="1371.8"/>
<use href="#mIIb" x="388.8" y="1371.5"/>
<use href="#mIIb" x="392.3" y="1371.4"/>
<use href="#mIIb" x="395.7" y="1373.5"/>
<use href="#mIIb" x="399.1" y="1371.9"/>
<use href="#mIIb" x="402.5" y="1371.2"/>
<use href="#mIIb" x="405.9" y="1373.8"/>
<use href="#mIIb" x="409.4" y="1373.3"/>
<use href="#mIIb" x="412.8" y="1373.0"/>
<use href="#mIIb" x="416.2" y="1372.4"/>
<use href="#mIIb" x="419.6" y="1373.3"/>
<use href="#mIIb" x="423.0" y="1372.2"/>
<use href="#mIIb" x="426.5" y="1372.8"/>
<use href="#mIIb" x="429.9" y="1371.8"/>
<use href="#mIIb" x="433.3" y="1372.2"/>
<use href="#mIIb" x="436.7" y="1371.7"/>
<use href="#mIIb" x="440.1" y="1373.1"/>
<use href="#mIIb" x="443.6" y="1371.7"/>
<use href="#mIIb" x="447.0" y="1371.6"/>
<use href="#mIIb" x="450.4" y="1371.6"/>
<use href="#mIIb" x="453.8" y="1373.7"/>
<use href="#mIIb" x="457.2" y="1370.9"/>
<use href="#mIIb" x="460.6" y="1372.1"/>
<use href="#mIIb" x="464.1" y="1373.0"/>
<use href="#mIIb" x="467.5" y="1372.5"/>
<use href="#mIIb" x="470.9" y="1372.2"/>
<use href="#mIIb" x="474.3" y="1372.2"/>
<use href="#mIIb" x="477.7" y="1373.1"/>
<use href="#mIIb" x="481.2" y="1373.0"/>
<use href="#mIIb" x="484.6" y="1372.7"/>
<use href="#mIIb" x="488.0" y="1371.4"/>
<use href="#mIIb" x="491.4" y="1372.5"/>
<use href="#mIIb" x="494.8" y="1373.7"/>
<use href="#mIIb" x="498.3" y="1372.4"/>
<use href="#mIIb" x="501.7" y="1373.2"/>
<use href="#mIIb" x="505.1" y="1373.8"/>
<use href="#mIIb" x="508.5" y="1370.8"/>
<use href="#mIIb" x="511.9" y="1372.9"/>
<use href="#mIIb" x="515.4" y="1372.2"/>
<use href="#mIIb" x="518.8" y="1372.7"/>
<use href="#mIIb" x="522.2" y="1373.7"/>
<use href="#mIIb" x="525.6" y="1371.0"/>
<use href="#mIIb" x="529.0" y="1370.9"/>
<use href="#mIIb" x="532.5" y="1373.3"/>
<use href="#mIIb" x="535.9" y="1372.6"/>
<use href="#mIIb" x="539.3" y="1372.7"/>
<use href="#mIIb" x="542.7" y="1373.3"/>
<use href="#mIIb" x="546.1" y="1371.8"/>
<use href="#mIIb" x="549.6" y="1371.4"/>
<use href="#mIIb" x="553.0" y="1371.5"/>
<use href="#mIIb" x="556.4" y="1371.8"/>
<use href="#mIIb" x="559.8" y="1373.8"/>
<use href="#mIIb" x="563.2" y="1373.1"/>
<use href="#mIIb" x="566.7" y="1372.3"/>
<use href="#mIIb" x="570.1" y="1371.7"/>
<use href="#mIIb" x="573.5" y="1372.7"/>
<use href="#mIIb" x="576.9" y="1372.5"/>
<use href="#mIIb" x="580.2" y="1352.7"/>
<use href="#mIIb" x="587.9" y="1048.5"/>
<use href="#mIIb" x="593.6" y="651.6"/>
<use href="#mIIb" x="602.5" y="471.4"/>
<use href="#mIIb" x="607.3" y="391.7"/>
<use href="#mIIb" x="610.7" y="386.4"/>
<use href="#mIIb" x="614.2" y="380.9"/>
<use href="#mIIb" x="617.6" y="376.9"/>
<use href="#mIIb" x="621.0" y="371.0"/>
<use href="#mIIb" x="624.4" y="371.4"/>
<use href="#mIIb" x="627.8" y="369.6"/>
<use href="#mIIb" x="631.3" y="365.6"/>
<use href="#mIIb" x="634.7" y="362.8"/>
<use href="#mIIb" x="638.1" y="364.4"/>
<use href="#mIIb" x="641.5" y="362.3"/>
<use href="#mIIb" x="644.9" y="365.9"/>
<use href="#mIIb" x="648.4" y="365.1"/>
<use href="#mIIb" x="651.8" y="368.5"/>
<use href="#mIIb" x="655.2" y="366.5"/>
<use href="#mIIb" x="658.6" y="369.3"/>
<use href="#mIIb" x="662.0" y="365.3"/>
<use href="#mIIb" x="665.5" y="360.9"/>
<use href="#mIIb" x="668.9" y="358.1"/>
<use href="#mIIb" x="672.3" y="353.5"/>
<use href="#mIIb" x="675.7" y="347.1"/>
<use href="#mIIb" x="679.1" y="344.2"/>
<use href="#mIIb" x="682.6" y="341.5"/>
<use href="#mIIb" x="686.0" y="337.8"/>
<use href="#mIIb" x="689.4" y="336.7"/>
<use href="#mIIb" x="692.8" y="334.4"/>
<use href="#mIIb" x="696.2" y="332.3"/>
<use href="#mIIb" x="699.6" y="330.6"/>
<use href="#mIIb" x="703.1" y="329.1"/>
<use href="#mIIb" x="706.5" y="328.4"/>
<use href="#mIIb" x="709.9" y="326.2"/>
<use href="#mIIb" x="713.3" y="324.6"/>
<use href="#mIIb" x="716.7" y="322.8"/>
<use href="#mIIb" x="720.2" y="318.8"/>
<use href="#mIIb" x="723.6" y="319.5"/>
<use href="#mIIb" x="727.0" y="317.1"/>
<use href="#mIIb" x="730.4" y="314.0"/>
<use href="#mIIb" x="733.8" y="313.0"/>
<use href="#mIIb" x="737.3" y="311.7"/>
<use href="#mIIb" x="740.7" y="309.7"/>
<use href="#mIIb" x="744.1" y="307.9"/>
<use href="#mIIb" x="747.5" y="306.1"/>
<use href="#mIIb" x="750.9" y="303.9"/>
<use href="#mIIb" x="754.4" y="303.3"/>
<use href="#mIIb" x="757.8" y="304.0"/>
<use href="#mIIb" x="761.2" y="302.8"/>
<use href="#mIIb" x="764.6" y="301.7"/>
<use href="#mIIb" x="768.0" y="301.0"/>
<use href="#mIIb" x="771.5" y="296.6"/>
<use href="#mIIb" x="774.9" y="298.4"/>
<use href="#mIIb" x="778.3" y="296.3"/>
<use href="#mIIb" x="781.7" y="293.0"/>
<use href="#mIIb" x="785.1" y="292.0"/>
<use href="#mIIb" x="788.6" y="292.2"/>
<use href="#mIIb" x="792.0" y="288.8"/>
<use href="#mIIb" x="795.4" y="290.3"/>
<use href="#mIIb" x="798.8" y="289.1"/>
<use href="#mIIb" x="802.2" y="290.6"/>
<use href="#mIIb" x="805.7" y="287.0"/>
<use href="#mIIb" x="809.1" y="289.5"/>
<use href="#mIIb" x="812.5" y="287.8"/>
<use href="#mIIb" x="815.9" y="285.1"/>
<use href="#mIIb" x="819.3" y="284.0"/>
<use href="#mIIb" x="822.8" y="283.2"/>
<use href="#mIIb" x="826.2" y="282.5"/>
<use href="#mIIb" x="829.6" y="283.7"/>
<use href="#mIIb" x="833.0" y="283.4"/>
<use href="#mIIb" x="836.4" y="280.7"/>
<use href="#mIIb" x="839.9" y="281.2"/>
<use href="#mIIb" x="843.3" y="276.6"/>
<use href="#mIIb" x="846.7" y="279.2"/>
<use href="#mIIb" x="850.1" y="276.6"/>
<use href="#mIIb" x="853.5" y="275.8"/>
<use href="#mIIb" x="857.0" y="275.2"/>
<use href="#mIIb" x="860.4" y="272.0"/>
<use href="#mIIb" x="863.8" y="272.4"/>
<use href="#mIIb" x="867.2" y="268.1"/>
<use href="#mIIb" x="870.6" y="268.1"/>
<use href="#mIIb" x="874.0" y="268.7"/>
<use href="#mIIb" x="877.5" y="266.4"/>
<use href="#mIIb" x="880.9" y="266.5"/>
<use href="#mIIb" x="884.3" y="268.4"/>
<use href="#mIIb" x="887.7" y="266.6"/>
<use href="#mIIb" x="891.1" y="266.5"/>
<use href="#mIIb" x="894.6" y="268.0"/>
<use href="#mIIb" x="898.0" y="269.5"/>
<use href="#mIIb" x="901.4" y="267.7"/>
<use href="#mIIb" x="904.8" y="267.9"/>
<use href="#mIIb" x="908.2" y="270.7"/>
<use href="#mIIb" x="911.7" y="272.1"/>
<use href="#mIIb" x="915.1" y="269.4"/>
<use href="#mIIb" x="918.5" y="270.5"/>
<use href="#mIIb" x="921.9" y="272.4"/>
<use href="#mIIb" x="925.3" y="271.3"/>
<use href="#mIIb" x="928.8" y="272.3"/>
<use href="#mIIb" x="932.2" y="269.9"/>
<use href="#mIIb" x="935.6" y="272.0"/>
<use href="#mIIb" x="939.0" y="272.3"/>
<use href="#mIIb" x="942.4" y="272.6"/>
<use href="#mIIb" x="945.9" y="271.0"/>
<use href="#mIIb" x="949.3" y="268.0"/>
<use href="#mIIb" x="952.7" y="270.6"/>
<use href="#mIIb" x="956.1" y="269.1"/>
<use href="#mIIb" x="959.5" y="266.5"/>
<use href="#mIIb" x="963.0" y="269.7"/>
<use href="#mIIb" x="966.4" y="268.0"/>
<use href="#mIIb" x="969.8" y="265.4"/>
<use href="#mIIb" x="973.2" y="267.6"/>
<use href="#mIIb" x="976.6" y="263.9"/>
<use href="#mIIb" x="980.1" y="263.8"/>
<use href="#mIIb" x="983.5" y="266.0"/>
<use href="#mIIb" x="986.9" y="263.8"/>
<use href="#mIIb" x="990.3" y="263.5"/>
<use href="#mIIb" x="993.7" y="262.4"/>
<use href="#mIIb" x="997.2" y="263.5"/>
<use href="#mIIb" x="1000.6" y="262.7"/>
<use href="#mIIb" x="1004.0" y="262.7"/>
<use href="#mIIb" x="1007.4" y="262.0"/>
<use href="#mIIb" x="1010.8" y="262.0"/>
<use href="#mIIb" x="1014.3" y="258.7"/>
<use href="#mIIb" x="1017.7" y="258.2"/>
<use href="#mIIb" x="1021.1" y="259.8"/>
<use href="#mIIb" x="1024.5" y="258.1"/>
<use href="#mIIb" x="1027.9" y="258.4"/>
<use href="#mIIb" x="1031.3" y="258.7"/>
<use href="#mIIb" x="1034.8" y="258.0"/>
<use href="#mIIb" x="1038.2" y="255.2"/>
<use href="#mIIb" x="1041.6" y="257.2"/>
<use href="#mIIb" x="1045.0" y="255.9"/>
<use href="#mIIb" x="1048.4" y="254.1"/>
<use href="#mIIb" x="1051.9" y="256.2"/>
<use href="#mIIb" x="1055.3" y="253.8"/>
<use href="#mIIb" x="1058.7" y="256.2"/>
<use href="#mIIb" x="1062.1" y="253.4"/>
<use href="#mIIb" x="1065.5" y="252.7"/>
<use href="#mIIb" x="1069.0" y="252.2"/>
<use href="#mIIb" x="1072.4" y="251.3"/>
<use href="#mIIb" x="1075.8" y="251.9"/>
<use href="#mIIb" x="1079.2" y="250.5"/>
<use href="#mIIb" x="1082.6" y="252.9"/>
<use href="#mIIb" x="1086.1" y="251.6"/>
<use href="#mIIb" x="1089.5" y="252.5"/>
<use href="#mIIb" x="1092.9" y="252.6"/>
<use href="#mIIb" x="1096.3" y="250.9"/>
<use href="#mIIb" x="1099.7" y="249.5"/>
<use href="#mIIb" x="1103.2" y="249.0"/>
<use href="#mIIb" x="1106.6" y="251.7"/>
<use href="#mIIb" x="1110.0" y="247.8"/>
<use href="#mIIb" x="1113.4" y="250.2"/>
<use href="#mIIb" x="1116.8" y="249.8"/>
<use href="#mIIb" x="1120.3" y="247.4"/>
<use href="#mIIb" x="1123.7" y="246.9"/>
<use href="#mIIb" x="1127.1" y="247.3"/>
<use href="#mIIb" x="1130.5" y="248.7"/>
<use href="#mIIb" x="1133.9" y="248.0"/>
<use href="#mIIb" x="1137.4" y="246.4"/>
<use href="#mIIb" x="1140.8" y="248.1"/>
<use href="#mIIb" x="1144.2" y="246.1"/>
<use href="#mIIb" x="1147.6" y="246.1"/>
<use href="#mIIb" x="1151.0" y="247.1"/>
<use href="#mIIb" x="1154.5" y="245.3"/>
<use href="#mIIb" x="1157.9" y="247.1"/>
<use href="#mIIb" x="1161.3" y="245.6"/>
<use href="#mIIb" x="1164.7" y="245.9"/>
<use href="#mIIb" x="1168.1" y="246.9"/>
<use href="#mIIb" x="1171.6" y="246.0"/>
<use href="#mIIb" x="1175.0" y="245.6"/>
<use href="#mIIb" x="1178.4" y="245.7"/>
<use href="#mIIb" x="1181.8" y="247.2"/>
<use href="#mIIb" x="1185.2" y="243.7"/>
<use href="#mIIb" x="1188.6" y="243.6"/>
<use href="#mIIb" x="1192.1" y="247.2"/>
<use href="#mIIb" x="1195.5" y="243.5"/>
<use href="#mIIb" x="1198.9" y="245.0"/>
<use href="#mIIb" x="1202.3" y="246.5"/>
<use href="#mIIb" x="1205.7" y="243.6"/>
<use href="#mIIb" x="1209.2" y="245.1"/>
<use href="#mIIb" x="1212.6" y="243.9"/>
<use href="#mIIb" x="1216.0" y="243.3"/>
<use href="#mIIb" x="1219.4" y="244.3"/>
<use href="#mIIb" x="1222.8" y="246.1"/>
<use href="#mIIb" x="1226.3" y="243.0"/>
<use href="#mIIb" x="1229.7" y="243.4"/>
<use href="#mIIb" x="1233.1" y="242.5"/>
<use href="#mIIb" x="1236.5" y="244.9"/>
<use href="#mIIb" x="1239.9" y="242.8"/>
<use href="#mIIb" x="1243.4" y="242.3"/>
<use href="#mIIb" x="1246.8" y="244.3"/>
<use href="#mIIb" x="1250.3" y="244.0"/>
<use href="#mIIb" x="1253.9" y="244.2"/>
<use href="#mIIb" x="1257.4" y="245.4"/>
<use href="#mIIb" x="1261.1" y="244.4"/>
<use href="#mIIb" x="1264.7" y="244.0"/>
<use href="#mIIb" x="1268.4" y="244.7"/>
<use href="#mIIb" x="1272.1" y="242.1"/>
<use href="#mIIb" x="1275.9" y="243.3"/>
<use href="#mIIb" x="1279.7" y="242.7"/>
<use href="#mIIb" x="1283.5" y="243.7"/>
<use href="#mIIb" x="1287.4" y="243.4"/>
<use href="#mIIb" x="1291.3" y="241.7"/>
<use href="#mIIb" x="1295.3" y="242.8"/>
<use href="#mIIb" x="1299.3" y="242.2"/>
<use href="#mIIb" x="1303.4" y="242.8"/>
<use href="#mIIb" x="1307.5" y="242.2"/>
<use href="#mIIb" x="1311.6" y="240.8"/>
<use href="#mIIb" x="1315.9" y="243.1"/>
<use href="#mIIb" x="1320.1" y="242.1"/>
<use href="#mIIb" x="1324.4" y="241.3"/>
<use href="#mIIb" x="1328.8" y="243.6"/>
<use href="#mIIb" x="1333.2" y="240.0"/>
<use href="#mIIb" x="1337.6" y="241.7"/>
<use href="#mIIb" x="1342.1" y="242.6"/>
<use href="#mIIb" x="1346.7" y="240.5"/>
<use href="#mIIb" x="1351.3" y="240.1"/>
<use href="#mIIb" x="1356.0" y="240.7"/>
<use href="#mIIb" x="1360.7" y="239.4"/>
<use href="#mIIb" x="1365.5" y="242.5"/>
<use href="#mIIb" x="1370.4" y="240.6"/>
<use href="#mIIb" x="1375.3" y="239.6"/>
<use href="#mIIb" x="1380.3" y="238.7"/>
<use href="#mIIb" x="1385.4" y="239.6"/>
<use href="#mIIb" x="1390.5" y="239.6"/>
<use href="#mIIb" x="1395.7" y="240.3"/>
<use href="#mIIb" x="1401.0" y="239.4"/>
<use href="#mIIb" x="1406.3" y="239.3"/>
<use href="#mIIb" x="1411.7" y="237.8"/>
<use href="#mIIb" x="1417.2" y="237.9"/>
<use href="#mIIb" x="1422.8" y="238.2"/>
<use href="#mIIb" x="1428.4" y="237.3"/>
<use href="#mIIb" x="1434.2" y="240.6"/>
<use href="#mIIb" x="1440.0" y="237.8"/>
<use href="#mIIb" x="1445.9" y="238.9"/>
<use href="#mIIb" x="1451.9" y="237.7"/>
<use href="#mIIb" x="1457.9" y="239.4"/>
<use href="#mIIb" x="1464.1" y="238.7"/>
<use href="#mIIb" x="1470.4" y="237.2"/>
<use href="#mIIb" x="1476.8" y="240.2"/>
<use href="#mIIb" x="1483.2" y="239.2"/>
<use href="#mIIb" x="1489.8" y="238.3"/>
<use href="#mIIb" x="1496.5" y="236.9"/>
<use href="#mIIb" x="1503.3" y="239.1"/>
<use href="#mIIb" x="1510.2" y="236.9"/>
<use href="#mIIb" x="1517.2" y="239.1"/>
<use href="#mIIb" x="1524.3" y="238.8"/>
<use href="#mIIb" x="1531.6" y="237.8"/>
<use href="#mIIb" x="1539.0" y="237.3"/>
<use href="#mIIb" x="1546.5" y="236.4"/>
<use href="#mIIb" x="1554.2" y="236.3"/>
<use href="#mIIb" x="1562.0" y="238.7"/>
<use href="#mIIb" x="1569.9" y="236.7"/>
<use href="#mIIb" x="1578.0" y="237.1"/>
<use href="#mIIb" x="1586.3" y="238.0"/>
<use href="#mIIb" x="1594.7" y="236.4"/>
<use href="#mIIb" x="1603.3" y="235.8"/>
<use href="#mIIb" x="1612.0" y="237.4"/>
<use href="#mIIb" x="1621.0" y="235.6"/>
<use href="#mIIb" x="1630.1" y="238.6"/>
<use href="#mIIb" x="1639.4" y="238.4"/>
<use href="#mIIb" x="1648.9" y="235.9"/>
<use href="#mIIb" x="1658.6" y="237.6"/>
<use href="#mIIb" x="1668.5" y="236.4"/>
<use href="#mIIb" x="1678.6" y="236.6"/>
<use href="#mIIb" x="1689.0" y="237.8"/>
<use href="#mIIb" x="1699.6" y="235.1"/>
<use href="#mIIb" x="1710.4" y="234.7"/>
<use href="#mIIb" x="1721.5" y="236.5"/>
<use href="#mIIb" x="1732.9" y="235.3"/>
<use href="#mIIb" x="1744.6" y="232.4"/>
<use href="#mIIb" x="1756.5" y="231.1"/>
<use href="#mIIb" x="1768.8" y="230.3"/>
<use href="#mIIb" x="1781.4" y="230.7"/>
<use href="#mIIb" x="1794.3" y="229.7"/>
<use href="#mIIb" x="1807.5" y="227.7"/>
<use href="#mIIb" x="1821.2" y="227.5"/>
<use href="#mIIb" x="1835.2" y="226.4"/>
<use href="#mIIb" x="1849.6" y="231.9"/>
<use href="#mIIb" x="1864.5" y="236.4"/>
<use href="#mIIb" x="1879.8" y="238.9"/>
<use href="#mIIb" x="1895.5" y="240.6"/>
<use href="#mIIb" x="1911.8" y="238.0"/>
<use href="#mIIb" x="1913.6" y="237.6"/>
</g>
<rect x="295.0" y="66.6" width="1618.6" height="1305.7" fill="none" stroke="#1e1e1e" stroke-width="4.6"/>
<path d="M268.3,1372.30H295.0 M268.3,1241.73H295.0 M268.3,1111.16H295.0 M268.3,980.59H295.0 M268.3,850.02H295.0 M268.3,719.45H295.0 M268.3,588.88H295.0 M268.3,458.31H295.0 M268.3,327.74H295.0 M268.3,197.17H295.0 M268.3,66.60H295.0 M282.0,1307.01H295.0 M282.0,1176.44H295.0 M282.0,1045.88H295.0 M282.0,915.30H295.0 M282.0,784.73H295.0 M282.0,654.16H295.0 M282.0,523.59H295.0 M282.0,393.02H295.0 M282.0,262.45H295.0 M282.0,131.88H295.0 M317.80,1372.3V1396 M545.77,1372.3V1396 M773.74,1372.3V1396 M1001.71,1372.3V1396 M1229.68,1372.3V1396 M1457.66,1372.3V1396 M1685.63,1372.3V1396 M1913.60,1372.3V1396 M431.78,1372.3V1385.5 M659.75,1372.3V1385.5 M887.73,1372.3V1385.5 M1115.70,1372.3V1385.5 M1343.67,1372.3V1385.5 M1571.64,1372.3V1385.5 M1799.61,1372.3V1385.5" stroke="#1e1e1e" stroke-width="4.4" fill="none"/>
<text x="209.52" y="1395.10" font-size="73.0" textLength="39.18" lengthAdjust="spacingAndGlyphs" fill="#000" >0</text>
<text x="170.42" y="1264.53" font-size="73.0" textLength="78.36" lengthAdjust="spacingAndGlyphs" fill="#000" >10</text>
<text x="170.42" y="1133.96" font-size="73.0" textLength="78.36" lengthAdjust="spacingAndGlyphs" fill="#000" >20</text>
<text x="170.42" y="1003.39" font-size="73.0" textLength="78.36" lengthAdjust="spacingAndGlyphs" fill="#000" >30</text>
<text x="170.42" y="872.82" font-size="73.0" textLength="78.36" lengthAdjust="spacingAndGlyphs" fill="#000" >40</text>
<text x="170.42" y="742.25" font-size="73.0" textLength="78.36" lengthAdjust="spacingAndGlyphs" fill="#000" >50</text>
<text x="170.42" y="611.68" font-size="73.0" textLength="78.36" lengthAdjust="spacingAndGlyphs" fill="#000" >60</text>
<text x="170.42" y="481.11" font-size="73.0" textLength="78.36" lengthAdjust="spacingAndGlyphs" fill="#000" >70</text>
<text x="170.42" y="350.54" font-size="73.0" textLength="78.36" lengthAdjust="spacingAndGlyphs" fill="#000" >80</text>
<text x="170.42" y="219.97" font-size="73.0" textLength="78.36" lengthAdjust="spacingAndGlyphs" fill="#000" >90</text>
<text x="131.15" y="89.40" font-size="73.0" textLength="117.54" lengthAdjust="spacingAndGlyphs" fill="#000" >100</text>
<text x="277.22" y="1473.20" font-size="73.5" textLength="117.98" lengthAdjust="spacingAndGlyphs" fill="#000" >200</text>
<text x="505.64" y="1473.20" font-size="73.5" textLength="117.98" lengthAdjust="spacingAndGlyphs" fill="#000" >300</text>
<text x="733.87" y="1473.20" font-size="73.5" textLength="117.98" lengthAdjust="spacingAndGlyphs" fill="#000" >400</text>
<text x="961.23" y="1473.20" font-size="73.5" textLength="117.98" lengthAdjust="spacingAndGlyphs" fill="#000" >500</text>
<text x="1189.02" y="1473.20" font-size="73.5" textLength="117.98" lengthAdjust="spacingAndGlyphs" fill="#000" >600</text>
<text x="1416.82" y="1473.20" font-size="73.5" textLength="117.98" lengthAdjust="spacingAndGlyphs" fill="#000" >700</text>
<text x="1645.14" y="1473.20" font-size="73.5" textLength="117.98" lengthAdjust="spacingAndGlyphs" fill="#000" >800</text>
<text x="1873.02" y="1473.20" font-size="73.5" textLength="117.98" lengthAdjust="spacingAndGlyphs" fill="#000" >900</text>
<text x="781.30" y="1603.50" font-size="83.5" textLength="645.83" lengthAdjust="spacingAndGlyphs" fill="#000" >Wavelength (nm)</text>
<text transform="translate(87.5,732.30) rotate(-90)" x="-346.71" y="0" font-size="81.0" textLength="696.54" lengthAdjust="spacingAndGlyphs">Transmittance (%)</text>
<ellipse cx="619.5" cy="406.5" rx="200.5" ry="230.5" fill="none" stroke="#8a8a8a" stroke-width="1.8" stroke-dasharray="2.5,8"/>
<path d="M748.2,521.5 L776,530.5" stroke="#000" stroke-width="5.5" stroke-linecap="butt"/>
<path d="M781.3,515.3 L841.6,551.3 L771.5,547.1 Z" fill="#000"/>
<g clip-path="url(#ci)">
<path d="M997.5,757.2 L1007.0,755.9 L1016.4,756.2 L1025.8,757.3 L1038.4,738.3 L1047.8,678.7 L1060.1,616.3 L1069.1,574.7 L1077.6,549.7 L1084.6,537.2 L1091.7,524.7 L1098.8,518.5 L1105.9,510.1 L1113.0,503.9 L1120.0,499.7 L1127.1,495.6 L1134.2,491.4 L1143.6,483.1 L1157.8,468.5 L1167.2,457.4 L1176.7,449.9 L1186.1,442.9 L1195.6,439.9 L1205.0,436.3 L1214.4,433.1 L1223.9,433.8 L1233.3,434.4 L1247.5,434.6 L1261.6,436.7 L1275.8,435.5 L1290.0,435.2 L1304.1,431.4 L1318.3,429.3 L1332.4,427.5 L1346.6,424.3 L1360.8,425.4 L1374.9,423.7 L1389.1,421.9 L1403.2,420.3 L1417.4,418.9 L1431.6,418.7 L1445.7,418.2 L1459.9,415.9 L1474.0,417.0 L1488.2,416.5 L1502.4,415.2 L1516.5,413.5" fill="none" stroke="#000" stroke-width="1.5" stroke-dasharray="4,3"/>
<use href="#iref1" x="997.5" y="757.2"/>
<use href="#iref1" x="1007.0" y="755.9"/>
<use href="#iref1" x="1016.4" y="756.2"/>
<use href="#iref1" x="1025.8" y="757.3"/>
<use href="#iref1" x="1038.4" y="738.3"/>
<use href="#iref1" x="1047.8" y="678.7"/>
<use href="#iref1" x="1060.1" y="616.3"/>
<use href="#iref1" x="1069.1" y="574.7"/>
<use href="#iref1" x="1077.6" y="549.7"/>
<use href="#iref1" x="1084.6" y="537.2"/>
<use href="#iref1" x="1091.7" y="524.7"/>
<use href="#iref1" x="1098.8" y="518.5"/>
<use href="#iref1" x="1105.9" y="510.1"/>
<use href="#iref1" x="1113.0" y="503.9"/>
<use href="#iref1" x="1120.0" y="499.7"/>
<use href="#iref1" x="1127.1" y="495.6"/>
<use href="#iref1" x="1134.2" y="491.4"/>
<use href="#iref1" x="1143.6" y="483.1"/>
<use href="#iref1" x="1157.8" y="468.5"/>
<use href="#iref1" x="1167.2" y="457.4"/>
<use href="#iref1" x="1176.7" y="449.9"/>
<use href="#iref1" x="1186.1" y="442.9"/>
<use href="#iref1" x="1195.6" y="439.9"/>
<use href="#iref1" x="1205.0" y="436.3"/>
<use href="#iref1" x="1214.4" y="433.1"/>
<use href="#iref1" x="1223.9" y="433.8"/>
<use href="#iref1" x="1233.3" y="434.4"/>
<use href="#iref1" x="1247.5" y="434.6"/>
<use href="#iref1" x="1261.6" y="436.7"/>
<use href="#iref1" x="1275.8" y="435.5"/>
<use href="#iref1" x="1290.0" y="435.2"/>
<use href="#iref1" x="1304.1" y="431.4"/>
<use href="#iref1" x="1318.3" y="429.3"/>
<use href="#iref1" x="1332.4" y="427.5"/>
<use href="#iref1" x="1346.6" y="424.3"/>
<use href="#iref1" x="1360.8" y="425.4"/>
<use href="#iref1" x="1374.9" y="423.7"/>
<use href="#iref1" x="1389.1" y="421.9"/>
<use href="#iref1" x="1403.2" y="420.3"/>
<use href="#iref1" x="1417.4" y="418.9"/>
<use href="#iref1" x="1431.6" y="418.7"/>
<use href="#iref1" x="1445.7" y="418.2"/>
<use href="#iref1" x="1459.9" y="415.9"/>
<use href="#iref1" x="1474.0" y="417.0"/>
<use href="#iref1" x="1488.2" y="416.5"/>
<use href="#iref1" x="1502.4" y="415.2"/>
<use href="#iref1" x="1516.5" y="413.5"/>
<path d="M999.3,759.4 L1008.7,760.1 L1018.2,760.2 L1027.6,759.5 L1041.2,742.0 L1050.7,727.4 L1064.3,673.3 L1078.5,643.4 L1090.8,620.9 L1104.5,610.5 L1118.6,600.1 L1132.3,585.9 L1148.4,570.5 L1163.9,552.6 L1178.1,535.1 L1192.3,511.0 L1205.9,493.5 L1220.1,478.9 L1244.6,460.2 L1258.8,438.7 L1273.0,425.0 L1287.1,420.3 L1301.3,416.9 L1315.4,413.2 L1329.6,412.0 L1343.8,410.4 L1357.9,411.2 L1372.1,408.2 L1386.2,408.6 L1400.4,406.4 L1414.6,406.4 L1428.7,405.7 L1442.9,404.4 L1457.0,404.3 L1471.2,403.7 L1485.4,404.6 L1499.5,403.1 L1513.7,403.3" fill="none" stroke="#d81818" stroke-width="1.5" stroke-dasharray="4,3"/>
<use href="#iref2" x="999.3" y="759.4"/>
<use href="#iref2" x="1008.7" y="760.1"/>
<use href="#iref2" x="1018.2" y="760.2"/>
<use href="#iref2" x="1027.6" y="759.5"/>
<use href="#iref2" x="1041.2" y="742.0"/>
<use href="#iref2" x="1050.7" y="727.4"/>
<use href="#iref2" x="1064.3" y="673.3"/>
<use href="#iref2" x="1078.5" y="643.4"/>
<use href="#iref2" x="1090.8" y="620.9"/>
<use href="#iref2" x="1104.5" y="610.5"/>
<use href="#iref2" x="1118.6" y="600.1"/>
<use href="#iref2" x="1132.3" y="585.9"/>
<use href="#iref2" x="1148.4" y="570.5"/>
<use href="#iref2" x="1163.9" y="552.6"/>
<use href="#iref2" x="1178.1" y="535.1"/>
<use href="#iref2" x="1192.3" y="511.0"/>
<use href="#iref2" x="1205.9" y="493.5"/>
<use href="#iref2" x="1220.1" y="478.9"/>
<use href="#iref2" x="1244.6" y="460.2"/>
<use href="#iref2" x="1258.8" y="438.7"/>
<use href="#iref2" x="1273.0" y="425.0"/>
<use href="#iref2" x="1287.1" y="420.3"/>
<use href="#iref2" x="1301.3" y="416.9"/>
<use href="#iref2" x="1315.4" y="413.2"/>
<use href="#iref2" x="1329.6" y="412.0"/>
<use href="#iref2" x="1343.8" y="410.4"/>
<use href="#iref2" x="1357.9" y="411.2"/>
<use href="#iref2" x="1372.1" y="408.2"/>
<use href="#iref2" x="1386.2" y="408.6"/>
<use href="#iref2" x="1400.4" y="406.4"/>
<use href="#iref2" x="1414.6" y="406.4"/>
<use href="#iref2" x="1428.7" y="405.7"/>
<use href="#iref2" x="1442.9" y="404.4"/>
<use href="#iref2" x="1457.0" y="404.3"/>
<use href="#iref2" x="1471.2" y="403.7"/>
<use href="#iref2" x="1485.4" y="404.6"/>
<use href="#iref2" x="1499.5" y="403.1"/>
<use href="#iref2" x="1513.7" y="403.3"/>
<path d="M993.1,763.5 L1002.6,762.1 L1012.0,763.0 L1021.5,760.9 L1030.9,763.6 L1040.3,764.0 L1049.8,759.9 L1059.2,762.8 L1068.7,762.0 L1078.1,763.2 L1087.5,763.2 L1097.0,762.4 L1106.4,760.8 L1120.0,760.8 L1134.2,706.2 L1150.2,585.5 L1162.5,520.5 L1174.3,491.4 L1183.8,480.3 L1193.2,469.6 L1202.6,462.4 L1212.1,458.2 L1221.5,454.2 L1231.0,452.1 L1245.1,450.7 L1259.3,449.9 L1273.4,448.3 L1287.6,449.0 L1301.8,445.3 L1315.9,444.5 L1330.1,445.2 L1344.2,443.9 L1358.4,441.4 L1372.6,440.9 L1386.7,441.1 L1400.9,438.9 L1415.0,439.6 L1429.2,438.3 L1443.4,438.4 L1457.5,436.7 L1471.7,437.8 L1485.8,437.3 L1500.0,435.4 L1514.2,435.3" fill="none" stroke="#22229a" stroke-width="1.5" stroke-dasharray="none"/>
<use href="#iIa" x="993.1" y="763.5"/>
<use href="#iIa" x="1002.6" y="762.1"/>
<use href="#iIa" x="1012.0" y="763.0"/>
<use href="#iIa" x="1021.5" y="760.9"/>
<use href="#iIa" x="1030.9" y="763.6"/>
<use href="#iIa" x="1040.3" y="764.0"/>
<use href="#iIa" x="1049.8" y="759.9"/>
<use href="#iIa" x="1059.2" y="762.8"/>
<use href="#iIa" x="1068.7" y="762.0"/>
<use href="#iIa" x="1078.1" y="763.2"/>
<use href="#iIa" x="1087.5" y="763.2"/>
<use href="#iIa" x="1097.0" y="762.4"/>
<use href="#iIa" x="1106.4" y="760.8"/>
<use href="#iIa" x="1120.0" y="760.8"/>
<use href="#iIa" x="1134.2" y="706.2"/>
<use href="#iIa" x="1150.2" y="585.5"/>
<use href="#iIa" x="1162.5" y="520.5"/>
<use href="#iIa" x="1174.3" y="491.4"/>
<use href="#iIa" x="1183.8" y="480.3"/>
<use href="#iIa" x="1193.2" y="469.6"/>
<use href="#iIa" x="1202.6" y="462.4"/>
<use href="#iIa" x="1212.1" y="458.2"/>
<use href="#iIa" x="1221.5" y="454.2"/>
<use href="#iIa" x="1231.0" y="452.1"/>
<use href="#iIa" x="1245.1" y="450.7"/>
<use href="#iIa" x="1259.3" y="449.9"/>
<use href="#iIa" x="1273.4" y="448.3"/>
<use href="#iIa" x="1287.6" y="449.0"/>
<use href="#iIa" x="1301.8" y="445.3"/>
<use href="#iIa" x="1315.9" y="444.5"/>
<use href="#iIa" x="1330.1" y="445.2"/>
<use href="#iIa" x="1344.2" y="443.9"/>
<use href="#iIa" x="1358.4" y="441.4"/>
<use href="#iIa" x="1372.6" y="440.9"/>
<use href="#iIa" x="1386.7" y="441.1"/>
<use href="#iIa" x="1400.9" y="438.9"/>
<use href="#iIa" x="1415.0" y="439.6"/>
<use href="#iIa" x="1429.2" y="438.3"/>
<use href="#iIa" x="1443.4" y="438.4"/>
<use href="#iIa" x="1457.5" y="436.7"/>
<use href="#iIa" x="1471.7" y="437.8"/>
<use href="#iIa" x="1485.8" y="437.3"/>
<use href="#iIa" x="1500.0" y="435.4"/>
<use href="#iIa" x="1514.2" y="435.3"/>
<path d="M997.3,761.0 L1006.7,761.6 L1016.2,763.3 L1025.6,761.2 L1035.0,763.6 L1044.5,763.0 L1053.9,762.2 L1063.4,763.6 L1072.8,763.6 L1082.2,761.4 L1091.7,761.0 L1101.1,762.5 L1110.6,762.5 L1122.4,760.8 L1135.1,712.0 L1150.2,591.3 L1163.9,524.7 L1176.7,495.6 L1186.1,475.5 L1195.6,465.8 L1205.0,460.0 L1214.4,454.6 L1223.9,453.5 L1233.3,449.8 L1247.5,448.6 L1261.6,450.1 L1275.8,448.9 L1290.0,447.2 L1304.1,445.8 L1318.3,445.7 L1332.4,443.9 L1346.6,442.2 L1360.8,443.3 L1374.9,441.7 L1389.1,442.1 L1403.2,439.2 L1417.4,438.5 L1431.6,439.5 L1445.7,437.2 L1459.9,437.0 L1474.0,438.1 L1488.2,436.8 L1502.4,435.9 L1516.5,436.0" fill="none" stroke="#1a6a38" stroke-width="1.5" stroke-dasharray="none"/>
<use href="#iIIa" x="997.3" y="761.0"/>
<use href="#iIIa" x="1006.7" y="761.6"/>
<use href="#iIIa" x="1016.2" y="763.3"/>
<use href="#iIIa" x="1025.6" y="761.2"/>
<use href="#iIIa" x="1035.0" y="763.6"/>
<use href="#iIIa" x="1044.5" y="763.0"/>
<use href="#iIIa" x="1053.9" y="762.2"/>
<use href="#iIIa" x="1063.4" y="763.6"/>
<use href="#iIIa" x="1072.8" y="763.6"/>
<use href="#iIIa" x="1082.2" y="761.4"/>
<use href="#iIIa" x="1091.7" y="761.0"/>
<use href="#iIIa" x="1101.1" y="762.5"/>
<use href="#iIIa" x="1110.6" y="762.5"/>
<use href="#iIIa" x="1122.4" y="760.8"/>
<use href="#iIIa" x="1135.1" y="712.0"/>
<use href="#iIIa" x="1150.2" y="591.3"/>
<use href="#iIIa" x="1163.9" y="524.7"/>
<use href="#iIIa" x="1176.7" y="495.6"/>
<use href="#iIIa" x="1186.1" y="475.5"/>
<use href="#iIIa" x="1195.6" y="465.8"/>
<use href="#iIIa" x="1205.0" y="460.0"/>
<use href="#iIIa" x="1214.4" y="454.6"/>
<use href="#iIIa" x="1223.9" y="453.5"/>
<use href="#iIIa" x="1233.3" y="449.8"/>
<use href="#iIIa" x="1247.5" y="448.6"/>
<use href="#iIIa" x="1261.6" y="450.1"/>
<use href="#iIIa" x="1275.8" y="448.9"/>
<use href="#iIIa" x="1290.0" y="447.2"/>
<use href="#iIIa" x="1304.1" y="445.8"/>
<use href="#iIIa" x="1318.3" y="445.7"/>
<use href="#iIIa" x="1332.4" y="443.9"/>
<use href="#iIIa" x="1346.6" y="442.2"/>
<use href="#iIIa" x="1360.8" y="443.3"/>
<use href="#iIIa" x="1374.9" y="441.7"/>
<use href="#iIIa" x="1389.1" y="442.1"/>
<use href="#iIIa" x="1403.2" y="439.2"/>
<use href="#iIIa" x="1417.4" y="438.5"/>
<use href="#iIIa" x="1431.6" y="439.5"/>
<use href="#iIIa" x="1445.7" y="437.2"/>
<use href="#iIIa" x="1459.9" y="437.0"/>
<use href="#iIIa" x="1474.0" y="438.1"/>
<use href="#iIIa" x="1488.2" y="436.8"/>
<use href="#iIIa" x="1502.4" y="435.9"/>
<use href="#iIIa" x="1516.5" y="436.0"/>
<path d="M996.2,759.2 L1005.6,760.6 L1015.0,761.2 L1024.5,763.0 L1033.9,762.7 L1043.4,759.7 L1052.8,760.2 L1062.2,759.8 L1071.7,760.8 L1081.1,760.9 L1090.6,761.0 L1100.0,760.2 L1110.6,760.8 L1121.0,734.9 L1132.3,608.0 L1146.0,503.9 L1155.4,466.4 L1164.9,450.6 L1174.3,442.2 L1183.8,437.1 L1193.2,432.9 L1202.6,431.4 L1212.1,430.5 L1221.5,429.4 L1231.0,428.2 L1245.1,424.8 L1259.3,423.2 L1273.4,421.1 L1287.6,420.6 L1301.8,420.5 L1315.9,418.7 L1330.1,416.6 L1344.2,416.2 L1358.4,414.7 L1372.6,414.4 L1386.7,414.2 L1400.9,412.1 L1415.0,411.6 L1429.2,411.2 L1443.4,410.7 L1457.5,409.1 L1471.7,409.6 L1485.8,408.5 L1500.0,408.9 L1514.2,407.3" fill="none" stroke="#7a3092" stroke-width="1.5" stroke-dasharray="none"/>
<use href="#iIb" x="996.2" y="759.2"/>
<use href="#iIb" x="1005.6" y="760.6"/>
<use href="#iIb" x="1015.0" y="761.2"/>
<use href="#iIb" x="1024.5" y="763.0"/>
<use href="#iIb" x="1033.9" y="762.7"/>
<use href="#iIb" x="1043.4" y="759.7"/>
<use href="#iIb" x="1052.8" y="760.2"/>
<use href="#iIb" x="1062.2" y="759.8"/>
<use href="#iIb" x="1071.7" y="760.8"/>
<use href="#iIb" x="1081.1" y="760.9"/>
<use href="#iIb" x="1090.6" y="761.0"/>
<use href="#iIb" x="1100.0" y="760.2"/>
<use href="#iIb" x="1110.6" y="760.8"/>
<use href="#iIb" x="1121.0" y="734.9"/>
<use href="#iIb" x="1132.3" y="608.0"/>
<use href="#iIb" x="1146.0" y="503.9"/>
<use href="#iIb" x="1155.4" y="466.4"/>
<use href="#iIb" x="1164.9" y="450.6"/>
<use href="#iIb" x="1174.3" y="442.2"/>
<use href="#iIb" x="1183.8" y="437.1"/>
<use href="#iIb" x="1193.2" y="432.9"/>
<use href="#iIb" x="1202.6" y="431.4"/>
<use href="#iIb" x="1212.1" y="430.5"/>
<use href="#iIb" x="1221.5" y="429.4"/>
<use href="#iIb" x="1231.0" y="428.2"/>
<use href="#iIb" x="1245.1" y="424.8"/>
<use href="#iIb" x="1259.3" y="423.2"/>
<use href="#iIb" x="1273.4" y="421.1"/>
<use href="#iIb" x="1287.6" y="420.6"/>
<use href="#iIb" x="1301.8" y="420.5"/>
<use href="#iIb" x="1315.9" y="418.7"/>
<use href="#iIb" x="1330.1" y="416.6"/>
<use href="#iIb" x="1344.2" y="416.2"/>
<use href="#iIb" x="1358.4" y="414.7"/>
<use href="#iIb" x="1372.6" y="414.4"/>
<use href="#iIb" x="1386.7" y="414.2"/>
<use href="#iIb" x="1400.9" y="412.1"/>
<use href="#iIb" x="1415.0" y="411.6"/>
<use href="#iIb" x="1429.2" y="411.2"/>
<use href="#iIb" x="1443.4" y="410.7"/>
<use href="#iIb" x="1457.5" y="409.1"/>
<use href="#iIb" x="1471.7" y="409.6"/>
<use href="#iIb" x="1485.8" y="408.5"/>
<use href="#iIb" x="1500.0" y="408.9"/>
<use href="#iIb" x="1514.2" y="407.3"/>
<path d="M995.3,762.1 L1004.7,760.2 L1014.1,761.1 L1023.6,761.0 L1033.0,762.7 L1042.5,760.6 L1051.9,762.5 L1061.3,760.0 L1070.8,760.4 L1080.2,761.3 L1089.7,760.6 L1099.1,761.8 L1113.0,760.8 L1123.8,741.2 L1133.3,612.1 L1147.4,512.2 L1157.8,474.8 L1167.2,449.2 L1176.7,447.5 L1186.1,443.5 L1195.6,442.6 L1205.0,443.2 L1214.4,441.8 L1223.9,440.1 L1233.3,439.6 L1247.5,441.7 L1261.6,441.0 L1275.8,443.4 L1290.0,440.2 L1304.1,438.3 L1318.3,437.5 L1332.4,436.6 L1346.6,436.1 L1360.8,435.1 L1374.9,433.0 L1389.1,431.8 L1403.2,430.5 L1417.4,430.9 L1431.6,428.6 L1445.7,429.5 L1459.9,427.4 L1474.0,427.1 L1488.2,428.5 L1502.4,426.1 L1516.5,425.7" fill="none" stroke="#b87450" stroke-width="1.5" stroke-dasharray="none"/>
<use href="#iIIb" x="995.3" y="762.1"/>
<use href="#iIIb" x="1004.7" y="760.2"/>
<use href="#iIIb" x="1014.1" y="761.1"/>
<use href="#iIIb" x="1023.6" y="761.0"/>
<use href="#iIIb" x="1033.0" y="762.7"/>
<use href="#iIIb" x="1042.5" y="760.6"/>
<use href="#iIIb" x="1051.9" y="762.5"/>
<use href="#iIIb" x="1061.3" y="760.0"/>
<use href="#iIIb" x="1070.8" y="760.4"/>
<use href="#iIIb" x="1080.2" y="761.3"/>
<use href="#iIIb" x="1089.7" y="760.6"/>
<use href="#iIIb" x="1099.1" y="761.8"/>
<use href="#iIIb" x="1113.0" y="760.8"/>
<use href="#iIIb" x="1123.8" y="741.2"/>
<use href="#iIIb" x="1133.3" y="612.1"/>
<use href="#iIIb" x="1147.4" y="512.2"/>
<use href="#iIIb" x="1157.8" y="474.8"/>
<use href="#iIIb" x="1167.2" y="449.2"/>
<use href="#iIIb" x="1176.7" y="447.5"/>
<use href="#iIIb" x="1186.1" y="443.5"/>
<use href="#iIIb" x="1195.6" y="442.6"/>
<use href="#iIIb" x="1205.0" y="443.2"/>
<use href="#iIIb" x="1214.4" y="441.8"/>
<use href="#iIIb" x="1223.9" y="440.1"/>
<use href="#iIIb" x="1233.3" y="439.6"/>
<use href="#iIIb" x="1247.5" y="441.7"/>
<use href="#iIIb" x="1261.6" y="441.0"/>
<use href="#iIIb" x="1275.8" y="443.4"/>
<use href="#iIIb" x="1290.0" y="440.2"/>
<use href="#iIIb" x="1304.1" y="438.3"/>
<use href="#iIIb" x="1318.3" y="437.5"/>
<use href="#iIIb" x="1332.4" y="436.6"/>
<use href="#iIIb" x="1346.6" y="436.1"/>
<use href="#iIIb" x="1360.8" y="435.1"/>
<use href="#iIIb" x="1374.9" y="433.0"/>
<use href="#iIIb" x="1389.1" y="431.8"/>
<use href="#iIIb" x="1403.2" y="430.5"/>
<use href="#iIIb" x="1417.4" y="430.9"/>
<use href="#iIIb" x="1431.6" y="428.6"/>
<use href="#iIIb" x="1445.7" y="429.5"/>
<use href="#iIIb" x="1459.9" y="427.4"/>
<use href="#iIIb" x="1474.0" y="427.1"/>
<use href="#iIIb" x="1488.2" y="428.5"/>
<use href="#iIIb" x="1502.4" y="426.1"/>
<use href="#iIIb" x="1516.5" y="425.7"/>
</g>
<rect x="992.6" y="345.7" width="519.1999999999999" height="416.3" fill="none" stroke="#8c8c8c" stroke-width="3.2"/>
<path d="M983.5,762.00H992.6 M983.5,678.74H992.6 M983.5,595.48H992.6 M983.5,512.22H992.6 M983.5,428.96H992.6 M983.5,345.70H992.6 M987.5,720.37H992.6 M987.5,637.11H992.6 M987.5,553.85H992.6 M987.5,470.59H992.6 M987.5,387.33H992.6 M1039.80,762.0V771.4 M1134.20,762.0V771.4 M1228.60,762.0V771.4 M1323.00,762.0V771.4 M1417.40,762.0V771.4 M1511.80,762.0V771.4 M1087.00,762.0V766.5 M1181.40,762.0V766.5 M1275.80,762.0V766.5 M1370.20,762.0V766.5 M1464.60,762.0V766.5" stroke="#555" stroke-width="2.4" fill="none"/>
<text x="959.72" y="773.50" font-size="35.5" textLength="19.74" lengthAdjust="spacingAndGlyphs" fill="#111" >0</text>
<text x="940.02" y="690.24" font-size="35.5" textLength="39.49" lengthAdjust="spacingAndGlyphs" fill="#111" >20</text>
<text x="940.01" y="606.98" font-size="35.5" textLength="39.49" lengthAdjust="spacingAndGlyphs" fill="#111" >40</text>
<text x="940.02" y="523.72" font-size="35.5" textLength="39.49" lengthAdjust="spacingAndGlyphs" fill="#111" >60</text>
<text x="940.02" y="440.46" font-size="35.5" textLength="39.49" lengthAdjust="spacingAndGlyphs" fill="#111" >80</text>
<text x="920.22" y="357.20" font-size="35.5" textLength="59.23" lengthAdjust="spacingAndGlyphs" fill="#111" >100</text>
<text x="1018.57" y="805.00" font-size="34.0" textLength="60.13" lengthAdjust="spacingAndGlyphs" fill="#111" >300</text>
<text x="1112.97" y="805.00" font-size="34.0" textLength="60.13" lengthAdjust="spacingAndGlyphs" fill="#111" >320</text>
<text x="1207.37" y="805.00" font-size="34.0" textLength="60.13" lengthAdjust="spacingAndGlyphs" fill="#111" >340</text>
<text x="1301.77" y="805.00" font-size="34.0" textLength="60.13" lengthAdjust="spacingAndGlyphs" fill="#111" >360</text>
<text x="1396.17" y="805.00" font-size="34.0" textLength="60.13" lengthAdjust="spacingAndGlyphs" fill="#111" >380</text>
<text x="1490.70" y="805.00" font-size="34.0" textLength="60.13" lengthAdjust="spacingAndGlyphs" fill="#111" >400</text>
<text x="1111.61" y="849.50" font-size="31.5" textLength="285.01" lengthAdjust="spacingAndGlyphs" fill="#111" >Wavelength (nm)</text>
<text transform="translate(902.5,558.55) rotate(-90)" x="-153.40" y="0" font-size="33.0" textLength="308.17" lengthAdjust="spacingAndGlyphs" fill="#111">Transmittance (%)</text>
<path d="M1012.3,916.2H1145.4" stroke="#000" stroke-width="4"/>
<use href="#mref1" x="1078.8" y="916.2"/>
<text x="1159.06" y="936.20" font-size="56.5" textLength="205.22" lengthAdjust="spacingAndGlyphs" fill="#000" >CPI-ref1</text>
<text x="1388.26" y="936.20" font-size="56.5" textLength="501.86" lengthAdjust="spacingAndGlyphs" fill="#000" >(ccHPMDA-6FODA)</text>
<path d="M1012.3,987.5H1145.4" stroke="#d81818" stroke-width="4"/>
<use href="#mref2" x="1078.8" y="987.5"/>
<text x="1159.05" y="1004.30" font-size="56.5" textLength="205.91" lengthAdjust="spacingAndGlyphs" fill="#000" >CPI-ref2</text>
<text x="1388.26" y="1004.30" font-size="56.5" textLength="490.77" lengthAdjust="spacingAndGlyphs" fill="#000" >(ctHPMDA-6FODA)</text>
<path d="M1012.3,1056.5H1145.4" stroke="#22229a" stroke-width="4"/>
<use href="#mIa" x="1078.8" y="1056.5"/>
<text x="1159.00" y="1076.90" font-size="56.5" textLength="125.02" lengthAdjust="spacingAndGlyphs" fill="#000" >CPI-I</text>
<text x="1284.44" y="1091.40" font-size="35" textLength="19.64" lengthAdjust="spacingAndGlyphs" fill="#000" >a</text>
<text x="1322.47" y="1076.90" font-size="56.5" textLength="428.41" lengthAdjust="spacingAndGlyphs" fill="#000" >(ccHPMDA-FDA)</text>
<path d="M1012.3,1139.3H1145.4" stroke="#1a6a38" stroke-width="4"/>
<use href="#mIIa" x="1078.8" y="1139.3"/>
<text x="1159.00" y="1159.30" font-size="56.5" textLength="140.76" lengthAdjust="spacingAndGlyphs" fill="#000" >CPI-II</text>
<text x="1301.03" y="1173.80" font-size="35" textLength="17.96" lengthAdjust="spacingAndGlyphs" fill="#000" >a</text>
<text x="1337.45" y="1159.30" font-size="56.5" textLength="417.89" lengthAdjust="spacingAndGlyphs" fill="#000" >(ctHPMDA-FDA)</text>
<path d="M1012.3,1221.7H1145.4" stroke="#7a3092" stroke-width="4"/>
<use href="#mIb" x="1078.8" y="1221.7"/>
<text x="1158.99" y="1240.70" font-size="56.5" textLength="125.76" lengthAdjust="spacingAndGlyphs" fill="#000" >CPI-I</text>
<text x="1282.99" y="1255.20" font-size="35" textLength="23.59" lengthAdjust="spacingAndGlyphs" fill="#000" >b</text>
<text x="1324.76" y="1240.70" font-size="56.5" textLength="462.06" lengthAdjust="spacingAndGlyphs" fill="#000" >(ccHPMDA-FFDA)</text>
<path d="M1012.3,1304.5H1145.4" stroke="#b87450" stroke-width="4"/>
<use href="#mIIb" x="1078.8" y="1304.5"/>
<text x="1159.00" y="1323.00" font-size="56.5" textLength="140.76" lengthAdjust="spacingAndGlyphs" fill="#000" >CPI-II</text>
<text x="1298.80" y="1337.50" font-size="35" textLength="23.47" lengthAdjust="spacingAndGlyphs" fill="#000" >b</text>
<text x="1339.75" y="1323.00" font-size="56.5" textLength="451.64" lengthAdjust="spacingAndGlyphs" fill="#000" >(ctHPMDA-FFDA)</text>
</svg>
</body></html>
